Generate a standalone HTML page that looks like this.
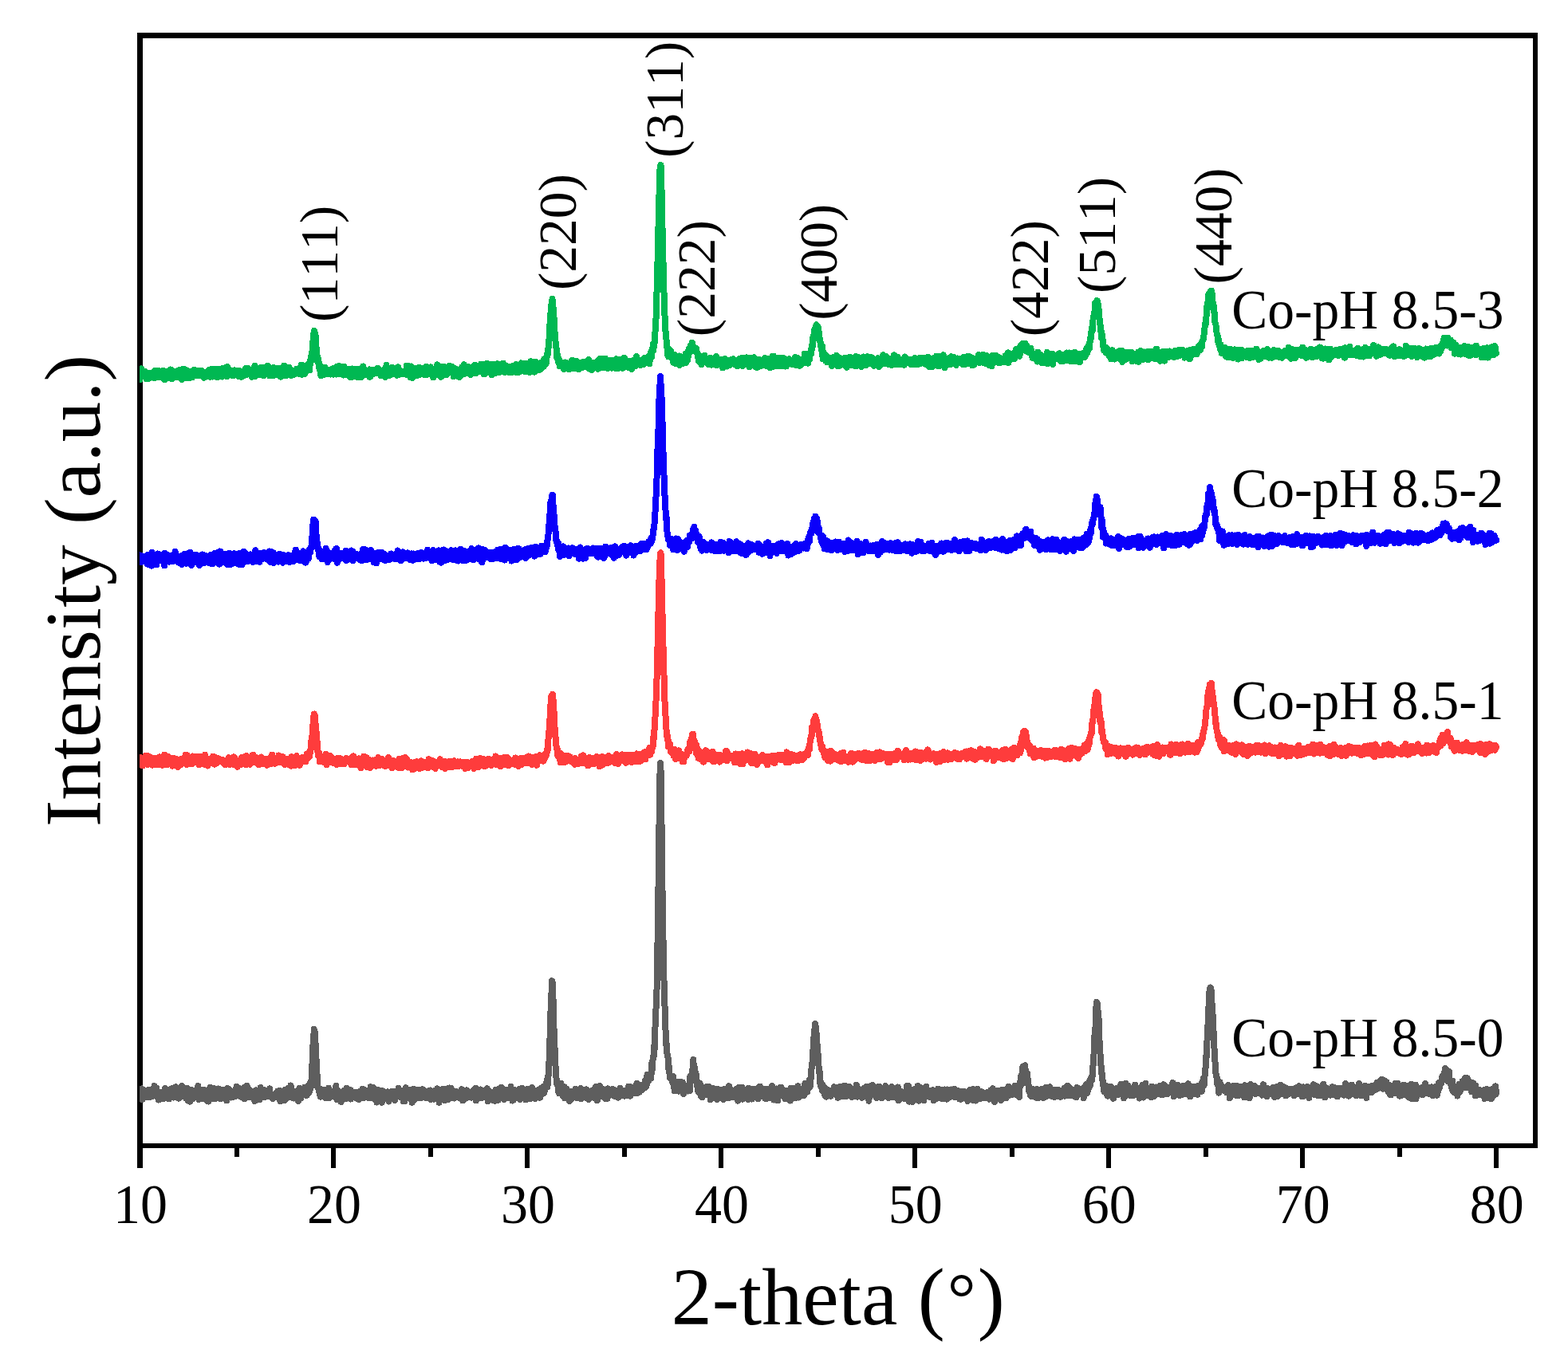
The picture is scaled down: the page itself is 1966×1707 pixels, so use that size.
<!DOCTYPE html>
<html lang="en"><head><meta charset="utf-8"><title>XRD patterns</title>
<style>html,body{margin:0;padding:0;background:#fff}body{width:1966px;height:1707px;overflow:hidden}svg{display:block}text{font-family:"Liberation Serif",serif;fill:#000;font-kerning:none;font-variant-ligatures:none}</style></head><body>
<svg width="1966" height="1707" viewBox="0 0 1966 1707">
<rect width="1966" height="1707" fill="#fff"/>
<defs><clipPath id="plot"><rect x="175" y="44" width="1751" height="1393"/></clipPath></defs>
<g fill="#000" shape-rendering="crispEdges">
<rect x="172" y="41" width="7" height="1399"/>
<rect x="172" y="41" width="1756" height="7"/>
<rect x="1922" y="41" width="6" height="1399"/>
<rect x="172" y="1434" width="1756" height="6"/>
<rect x="172" y="1440" width="7" height="25"/>
<rect x="294" y="1440" width="6" height="11"/>
<rect x="415" y="1440" width="6" height="25"/>
<rect x="537" y="1440" width="6" height="11"/>
<rect x="658" y="1440" width="6" height="25"/>
<rect x="780" y="1440" width="6" height="11"/>
<rect x="901" y="1440" width="6" height="25"/>
<rect x="1023" y="1440" width="6" height="11"/>
<rect x="1144" y="1440" width="6" height="25"/>
<rect x="1266" y="1440" width="6" height="11"/>
<rect x="1387" y="1440" width="6" height="25"/>
<rect x="1509" y="1440" width="6" height="11"/>
<rect x="1630" y="1440" width="6" height="25"/>
<rect x="1752" y="1440" width="6" height="11"/>
<rect x="1873" y="1440" width="6" height="25"/>
</g>
<g clip-path="url(#plot)" fill="none" stroke-linejoin="round" stroke-linecap="round" stroke-width="8" shape-rendering="crispEdges">
<path stroke="#5E5E5E" d="M175.5 1369.1L176 1377L176.5 1376.7L177 1365.9L177.4 1366.4L177.9 1365.5L178.4 1379L178.9 1372.3L179.4 1371.8L179.9 1374.1L180.4 1368.3L180.8 1371.3L181.3 1367.5L181.8 1374.3L182.3 1368.3L182.8 1373.3L183.3 1376L183.8 1371.5L184.2 1375.1L184.7 1367.4L185.2 1367.4L185.7 1372.8L186.2 1371.1L186.7 1366.6L187.2 1370.1L187.6 1376.5L188.1 1369.3L188.6 1372L189.1 1370.5L189.6 1372.7L190.1 1373.3L190.6 1374.2L191 1373.9L191.5 1375.1L192 1373.6L192.5 1372.7L193 1370L193.5 1362.1L194 1370.4L194.4 1368.9L194.9 1369.3L195.4 1365.3L195.9 1374.8L196.4 1364.8L196.9 1373.5L197.4 1371L197.9 1373.6L198.3 1375.2L198.8 1379.6L199.3 1377.1L199.8 1375.9L200.3 1377.4L200.8 1372.1L201.3 1372.3L201.7 1370.1L202.2 1373.1L202.7 1376.1L203.2 1371.8L203.7 1371.9L204.2 1369.5L204.7 1378L205.1 1372L205.6 1374L206.1 1371.1L206.6 1373.7L207.1 1365L207.6 1372.4L208.1 1369.5L208.5 1376.9L209 1374.8L209.5 1370.8L210 1369.1L210.5 1368.3L211 1374L211.5 1369.3L211.9 1378.4L212.4 1367.9L212.9 1369.4L213.4 1368L213.9 1366.3L214.4 1373.4L214.9 1368.8L215.3 1376.3L215.8 1372L216.3 1364.7L216.8 1368.6L217.3 1371.7L217.8 1376.5L218.3 1369.8L218.7 1370.6L219.2 1366L219.7 1376.5L220.2 1363.3L220.7 1372.7L221.2 1371.6L221.7 1372.9L222.1 1374.1L222.6 1375.8L223.1 1371.9L223.6 1365.2L224.1 1377.7L224.6 1369.4L225.1 1375.2L225.5 1370.6L226 1374.6L226.5 1371.6L227 1370.1L227.5 1375.1L228 1362.2L228.5 1370.4L228.9 1371.8L229.4 1373L229.9 1369.4L230.4 1364.3L230.9 1372.9L231.4 1367.1L231.9 1374L232.3 1373L232.8 1371.5L233.3 1377.4L233.8 1376.1L234.3 1367.7L234.8 1364.8L235.3 1376.9L235.7 1380.3L236.2 1368.8L236.7 1372.7L237.2 1368L237.7 1369.1L238.2 1381.7L238.7 1373.3L239.2 1372L239.6 1372.2L240.1 1366.9L240.6 1373.1L241.1 1378.8L241.6 1377.3L242.1 1369.8L242.6 1368.3L243 1374.3L243.5 1371.9L244 1371.3L244.5 1368.8L245 1374.8L245.5 1371.9L246 1371.6L246.4 1371.8L246.9 1373.3L247.4 1367.9L247.9 1367.7L248.4 1362L248.9 1372.9L249.4 1379L249.8 1375.6L250.3 1371.6L250.8 1367.4L251.3 1370.3L251.8 1369.2L252.3 1373L252.8 1370.6L253.2 1373.3L253.7 1370.1L254.2 1366.5L254.7 1378.1L255.2 1366.5L255.7 1366.9L256.2 1368.8L256.6 1369.5L257.1 1374.6L257.6 1373.1L258.1 1369.9L258.6 1373.6L259.1 1380.1L259.6 1373.1L260 1372.6L260.5 1374.4L261 1368.3L261.5 1381.6L262 1377.5L262.5 1369.6L263 1373.9L263.4 1363.8L263.9 1373L264.4 1371.7L264.9 1373.2L265.4 1369.3L265.9 1375.9L266.4 1368.1L266.8 1376.3L267.3 1370.2L267.8 1364.7L268.3 1369.8L268.8 1378.5L269.3 1365.5L269.8 1367.6L270.2 1372.9L270.7 1367.9L271.2 1370L271.7 1368.6L272.2 1374.1L272.7 1370.7L273.2 1376.3L273.6 1365.5L274.1 1377.1L274.6 1374.6L275.1 1372.4L275.6 1373.2L276.1 1369.8L276.6 1368L277 1378.2L277.5 1371.2L278 1367.2L278.5 1373.3L279 1372.5L279.5 1374.7L280 1369.8L280.5 1368.2L280.9 1367.4L281.4 1367.5L281.9 1374.2L282.4 1373.4L282.9 1374.9L283.4 1373.4L283.9 1369.6L284.3 1380.5L284.8 1370.9L285.3 1365L285.8 1374.8L286.3 1370.2L286.8 1370.5L287.3 1370.7L287.7 1372.9L288.2 1367.1L288.7 1370L289.2 1371.7L289.7 1376.6L290.2 1368.4L290.7 1369.4L291.1 1376.1L291.6 1373.9L292.1 1372.3L292.6 1368.8L293.1 1375.6L293.6 1371.5L294.1 1371.9L294.5 1371.9L295 1372L295.5 1374.8L296 1370.5L296.5 1362.8L297 1370.3L297.5 1371.4L297.9 1372L298.4 1368.9L298.9 1366.5L299.4 1373.6L299.9 1374.4L300.4 1365.2L300.9 1370.4L301.3 1368.6L301.8 1372.7L302.3 1370.1L302.8 1365.8L303.3 1376L303.8 1373.2L304.3 1369.9L304.7 1367.7L305.2 1367.1L305.7 1370.6L306.2 1364.3L306.7 1378.1L307.2 1368.9L307.7 1371.3L308.1 1370L308.6 1372.4L309.1 1375L309.6 1361.7L310.1 1374.2L310.6 1371.1L311.1 1375.7L311.5 1373.1L312 1365.7L312.5 1366.9L313 1376.1L313.5 1374.7L314 1370.5L314.5 1374.1L314.9 1369.2L315.4 1375.3L315.9 1370.5L316.4 1368.6L316.9 1372.2L317.4 1370.6L317.9 1373.5L318.3 1369.9L318.8 1371.2L319.3 1381.1L319.8 1375.2L320.3 1370.4L320.8 1372.2L321.3 1367.3L321.7 1377.2L322.2 1370.9L322.7 1375.6L323.2 1375.3L323.7 1374.8L324.2 1374.8L324.7 1375.3L325.2 1379.2L325.6 1373.2L326.1 1373.4L326.6 1364.1L327.1 1369.3L327.6 1367L328.1 1372.7L328.6 1374.3L329 1373.7L329.5 1366.4L330 1376.2L330.5 1373.9L331 1371.5L331.5 1367.2L332 1372L332.4 1373.4L332.9 1375.8L333.4 1368.5L333.9 1370.1L334.4 1368.6L334.9 1372.8L335.4 1371L335.8 1371.3L336.3 1369.1L336.8 1374.9L337.3 1375.2L337.8 1374.4L338.3 1365.4L338.8 1372.9L339.2 1374.1L339.7 1371.7L340.2 1373.3L340.7 1375.9L341.2 1374.1L341.7 1375.7L342.2 1378.2L342.6 1375.8L343.1 1373.2L343.6 1373.2L344.1 1372.8L344.6 1374.7L345.1 1372.5L345.6 1374L346 1370.8L346.5 1370.7L347 1373.9L347.5 1370.5L348 1368.9L348.5 1371.1L349 1373L349.4 1369.6L349.9 1377.8L350.4 1371.3L350.9 1367.9L351.4 1381.3L351.9 1370.3L352.4 1378.6L352.8 1374.1L353.3 1373.3L353.8 1368.9L354.3 1372.1L354.8 1368.5L355.3 1374.3L355.8 1371L356.2 1371.6L356.7 1379.9L357.2 1367.7L357.7 1366.7L358.2 1369.7L358.7 1373.7L359.2 1377.8L359.6 1369.8L360.1 1374.9L360.6 1368.8L361.1 1371.4L361.6 1364.4L362.1 1366L362.6 1374.9L363 1375.5L363.5 1375.1L364 1373L364.5 1361.4L365 1368.6L365.5 1365.7L366 1371.3L366.5 1370.4L366.9 1374.9L367.4 1377.3L367.9 1375.5L368.4 1372.7L368.9 1377.5L369.4 1370L369.9 1375.1L370.3 1368.8L370.8 1372.5L371.3 1375.1L371.8 1372.7L372.3 1368.4L372.8 1371.9L373.3 1374.9L373.7 1374.7L374.2 1380.9L374.7 1373.8L375.2 1372.8L375.7 1365L376.2 1369.6L376.7 1366.5L377.1 1377.3L377.6 1370.2L378.1 1366.1L378.6 1371.2L379.1 1370.9L379.6 1373.2L380.1 1372.4L380.5 1372.9L381 1370.3L381.5 1371.7L382 1363.7L382.5 1364.2L383 1369.1L383.5 1368.8L383.9 1364.3L384.4 1374L384.9 1369.8L385.4 1367.5L385.9 1370.1L386.4 1371.5L386.9 1361.6L387.3 1370.5L387.8 1367.5L388.3 1368.2L388.8 1366.6L389.3 1357.6L389.8 1363.2L390.3 1357.7L390.7 1353.5L391.2 1336.8L391.7 1333.5L392.2 1318L392.7 1306.2L393.2 1305.6L393.7 1291L394.1 1292.7L394.6 1293L395.1 1304.3L395.6 1308.8L396.1 1322.7L396.6 1334.6L397.1 1330.6L397.5 1347.5L398 1349.4L398.5 1364.7L399 1364.9L399.5 1364.5L400 1369.1L400.5 1368.3L400.9 1365.2L401.4 1374.1L401.9 1375.6L402.4 1372.9L402.9 1373.4L403.4 1369.8L403.9 1368.3L404.3 1373.5L404.8 1367.7L405.3 1370.2L405.8 1369.3L406.3 1366.9L406.8 1372.9L407.3 1370.5L407.8 1370.4L408.2 1377.3L408.7 1368.9L409.2 1367.1L409.7 1368.4L410.2 1372.8L410.7 1376.3L411.2 1371.8L411.6 1367.3L412.1 1364.7L412.6 1369.9L413.1 1376.9L413.6 1372.8L414.1 1368.2L414.6 1372.6L415 1369L415.5 1370.7L416 1374.7L416.5 1375.1L417 1373.3L417.5 1368.8L418 1373.9L418.4 1371.5L418.9 1369L419.4 1368L419.9 1370.6L420.4 1372.3L420.9 1371.6L421.4 1362L421.8 1370.5L422.3 1379L422.8 1367.1L423.3 1375.9L423.8 1375L424.3 1372.7L424.8 1378L425.2 1369L425.7 1372L426.2 1371.8L426.7 1374.8L427.2 1375.5L427.7 1381.9L428.2 1371.5L428.6 1375.6L429.1 1378.5L429.6 1372.6L430.1 1372.8L430.6 1378.2L431.1 1368.2L431.6 1376.1L432 1369.7L432.5 1372.2L433 1371.8L433.5 1378.5L434 1368.7L434.5 1364.6L435 1370.8L435.4 1368.4L435.9 1373.3L436.4 1375.5L436.9 1374.6L437.4 1367.6L437.9 1366.8L438.4 1374.6L438.8 1368.3L439.3 1366.8L439.8 1378.6L440.3 1371.3L440.8 1373.5L441.3 1373.9L441.8 1373.1L442.2 1372.9L442.7 1373.9L443.2 1370.1L443.7 1373.1L444.2 1370.1L444.7 1375.5L445.2 1372.7L445.6 1372.5L446.1 1374L446.6 1376.9L447.1 1376.3L447.6 1374.7L448.1 1371.6L448.6 1378L449.1 1369.5L449.5 1370.1L450 1378.9L450.5 1369.2L451 1374.6L451.5 1373.8L452 1372.1L452.5 1370.8L452.9 1371.1L453.4 1369L453.9 1367.8L454.4 1365.6L454.9 1372.4L455.4 1377.2L455.9 1366.5L456.3 1374.2L456.8 1373.4L457.3 1376.6L457.8 1375.9L458.3 1375.1L458.8 1369.7L459.3 1373.1L459.7 1371.6L460.2 1368.5L460.7 1374.5L461.2 1369.6L461.7 1376.4L462.2 1374.5L462.7 1367.7L463.1 1377.4L463.6 1373.4L464.1 1373.1L464.6 1363.2L465.1 1370.2L465.6 1369.6L466.1 1369.7L466.5 1368.4L467 1367.8L467.5 1377.6L468 1370.3L468.5 1364.3L469 1369.5L469.5 1369.7L469.9 1371.4L470.4 1372.1L470.9 1373.2L471.4 1370.4L471.9 1373L472.4 1382.6L472.9 1369.6L473.3 1366.5L473.8 1376.5L474.3 1371.3L474.8 1369.6L475.3 1367.9L475.8 1377.3L476.3 1368.8L476.7 1380.1L477.2 1379.1L477.7 1376.7L478.2 1371.3L478.7 1382.7L479.2 1368L479.7 1372.8L480.1 1368.6L480.6 1373.9L481.1 1374L481.6 1376L482.1 1372.1L482.6 1375.4L483.1 1371.7L483.5 1374L484 1369.9L484.5 1376L485 1375.4L485.5 1371L486 1373.1L486.5 1369.4L486.9 1379.2L487.4 1381.5L487.9 1374.4L488.4 1379.3L488.9 1375.3L489.4 1373.4L489.9 1369.4L490.4 1375.3L490.8 1369L491.3 1372.9L491.8 1375.3L492.3 1370.6L492.8 1369L493.3 1370.5L493.8 1374.9L494.2 1372.5L494.7 1376.1L495.2 1379.9L495.7 1370.2L496.2 1377L496.7 1374.3L497.2 1371.4L497.6 1371L498.1 1369L498.6 1373.1L499.1 1367L499.6 1364.8L500.1 1369.6L500.6 1373.2L501 1371.3L501.5 1370L502 1371.5L502.5 1376.1L503 1369.1L503.5 1373.4L504 1373.2L504.4 1368.3L504.9 1376.2L505.4 1370.9L505.9 1381.2L506.4 1370.7L506.9 1372.6L507.4 1381.2L507.8 1376.9L508.3 1372.6L508.8 1364.3L509.3 1377.8L509.8 1368.2L510.3 1375L510.8 1373L511.2 1373.8L511.7 1372.3L512.2 1371.2L512.7 1371.4L513.2 1372.7L513.7 1369.4L514.2 1371.2L514.6 1376.5L515.1 1367.3L515.6 1377.1L516.1 1375.7L516.6 1382.9L517.1 1376L517.6 1373.6L518 1375.1L518.5 1365.9L519 1375.5L519.5 1370L520 1378.9L520.5 1372L521 1373.9L521.4 1369.2L521.9 1371.5L522.4 1371.8L522.9 1375.2L523.4 1376.9L523.9 1371.1L524.4 1366.9L524.8 1367.1L525.3 1376.6L525.8 1375.4L526.3 1373.8L526.8 1372.9L527.3 1373.4L527.8 1372.4L528.2 1377L528.7 1373L529.2 1369.5L529.7 1370.7L530.2 1366.3L530.7 1375.9L531.2 1370.3L531.7 1371.9L532.1 1368.9L532.6 1370.8L533.1 1375.6L533.6 1373.3L534.1 1373.8L534.6 1377.4L535.1 1374.5L535.5 1370.5L536 1375.4L536.5 1368.7L537 1376.3L537.5 1373.6L538 1374.8L538.5 1373.7L538.9 1372L539.4 1367.5L539.9 1378.9L540.4 1370.4L540.9 1369.6L541.4 1373.8L541.9 1373.5L542.3 1371L542.8 1370.5L543.3 1375.1L543.8 1378.6L544.3 1372.5L544.8 1372.5L545.3 1376.2L545.7 1370.7L546.2 1367.6L546.7 1368L547.2 1371.1L547.7 1371.7L548.2 1365.4L548.7 1373.4L549.1 1373.6L549.6 1369L550.1 1373.2L550.6 1382.8L551.1 1371.2L551.6 1367.2L552.1 1369.3L552.5 1369.5L553 1369.7L553.5 1370.3L554 1372L554.5 1368.6L555 1373.9L555.5 1372.3L555.9 1373.5L556.4 1365.6L556.9 1377.2L557.4 1380.4L557.9 1372.9L558.4 1372L558.9 1372.1L559.3 1378.4L559.8 1365.6L560.3 1378.1L560.8 1368.5L561.3 1379.2L561.8 1374.8L562.3 1373L562.7 1368.8L563.2 1364.5L563.7 1365.4L564.2 1370.2L564.7 1377.3L565.2 1369.9L565.7 1365L566.1 1371.6L566.6 1370.1L567.1 1372.7L567.6 1369.7L568.1 1367.8L568.6 1370.3L569.1 1369.6L569.5 1377.6L570 1373.7L570.5 1375.2L571 1370.3L571.5 1372.1L572 1368.8L572.5 1374.5L572.9 1369.3L573.4 1372.1L573.9 1369.8L574.4 1374.1L574.9 1376.6L575.4 1371.6L575.9 1375.9L576.4 1373.7L576.8 1374.6L577.3 1375.4L577.8 1372.8L578.3 1372.2L578.8 1366.3L579.3 1369.1L579.8 1372.8L580.2 1380.5L580.7 1374.4L581.2 1369.6L581.7 1374.4L582.2 1378.2L582.7 1369.8L583.2 1375.2L583.6 1375L584.1 1369.7L584.6 1370.7L585.1 1367.4L585.6 1374.8L586.1 1376.7L586.6 1371.1L587 1375.5L587.5 1372.9L588 1372.6L588.5 1371L589 1371.6L589.5 1371.3L590 1374.1L590.4 1374.6L590.9 1373.3L591.4 1376.6L591.9 1369.6L592.4 1373L592.9 1370.2L593.4 1374.7L593.8 1375.8L594.3 1366.8L594.8 1375.2L595.3 1376.8L595.8 1373.4L596.3 1364.7L596.8 1380.5L597.2 1370L597.7 1372L598.2 1379L598.7 1370.6L599.2 1371.5L599.7 1377.4L600.2 1373.9L600.6 1374.5L601.1 1372L601.6 1372.2L602.1 1374.6L602.6 1366.4L603.1 1367.7L603.6 1370.3L604 1368.9L604.5 1376.9L605 1371.3L605.5 1371.9L606 1367.9L606.5 1374.8L607 1371.1L607.4 1370.1L607.9 1370.4L608.4 1369.7L608.9 1368.3L609.4 1372L609.9 1374.9L610.4 1377.4L610.8 1365.3L611.3 1371L611.8 1381.1L612.3 1373.2L612.8 1368.5L613.3 1372.7L613.8 1369.9L614.2 1375.3L614.7 1374.8L615.2 1371.6L615.7 1375.5L616.2 1374.7L616.7 1375.9L617.2 1374.5L617.7 1372.7L618.1 1370L618.6 1380.3L619.1 1373.2L619.6 1370.6L620.1 1370.5L620.6 1380.9L621.1 1376L621.5 1367L622 1375.9L622.5 1371.3L623 1371.9L623.5 1369.6L624 1374.6L624.5 1379.7L624.9 1366.3L625.4 1369.5L625.9 1369.1L626.4 1369.5L626.9 1367L627.4 1368.9L627.9 1370.6L628.3 1377L628.8 1363.9L629.3 1371.5L629.8 1375.4L630.3 1369.7L630.8 1377.9L631.3 1376.5L631.7 1373.6L632.2 1378.8L632.7 1374.9L633.2 1376.9L633.7 1366.8L634.2 1374.1L634.7 1369.8L635.1 1366.6L635.6 1371.4L636.1 1374L636.6 1370.1L637.1 1374.3L637.6 1377.1L638.1 1370.7L638.5 1371.1L639 1372.8L639.5 1372.7L640 1376.7L640.5 1362.8L641 1374L641.5 1370L641.9 1368.7L642.4 1380.6L642.9 1372.5L643.4 1370.7L643.9 1379.5L644.4 1374.1L644.9 1371L645.3 1374.5L645.8 1373.5L646.3 1367.3L646.8 1369.3L647.3 1370L647.8 1370.4L648.3 1373.6L648.7 1369.2L649.2 1368.5L649.7 1373.6L650.2 1372.8L650.7 1366.3L651.2 1369.8L651.7 1373L652.1 1379.1L652.6 1372.1L653.1 1373.1L653.6 1371.8L654.1 1371.9L654.6 1365L655.1 1377.3L655.5 1373.4L656 1375.5L656.5 1366.8L657 1368.9L657.5 1372.9L658 1369.6L658.5 1369.6L659 1379.3L659.4 1368.8L659.9 1371.6L660.4 1370.9L660.9 1366L661.4 1371L661.9 1378.5L662.4 1369.6L662.8 1375.6L663.3 1371.5L663.8 1372.7L664.3 1370L664.8 1373L665.3 1370.7L665.8 1377.7L666.2 1368L666.7 1370.3L667.2 1364L667.7 1376.3L668.2 1373.8L668.7 1373.8L669.2 1369.4L669.6 1373.4L670.1 1375.4L670.6 1369L671.1 1377.9L671.6 1369.7L672.1 1367.9L672.6 1375.7L673 1370.6L673.5 1370.5L674 1373.6L674.5 1373.8L675 1367.2L675.5 1371.1L676 1372.2L676.4 1372L676.9 1376.7L677.4 1368.2L677.9 1367.4L678.4 1364.8L678.9 1372.9L679.4 1365.8L679.8 1367.6L680.3 1364.2L680.8 1363.6L681.3 1368.5L681.8 1371.2L682.3 1362.4L682.8 1368.6L683.2 1366.8L683.7 1362.8L684.2 1363.4L684.7 1364L685.2 1360.4L685.7 1354.6L686.2 1363.5L686.6 1361.5L687.1 1350.3L687.6 1349L688.1 1341.9L688.6 1329.3L689.1 1311.2L689.6 1300.8L690 1283.2L690.5 1268.4L691 1249.2L691.5 1245.2L692 1230.2L692.5 1231.5L693 1236.4L693.4 1248.2L693.9 1270.4L694.4 1284.5L694.9 1307.9L695.4 1306.7L695.9 1334.8L696.4 1333.7L696.8 1345.8L697.3 1346.9L697.8 1358.9L698.3 1358.5L698.8 1360.2L699.3 1360.2L699.8 1366.2L700.3 1369.6L700.7 1364.1L701.2 1371.5L701.7 1368.8L702.2 1366.7L702.7 1365.4L703.2 1358.8L703.7 1371.1L704.1 1366.9L704.6 1372L705.1 1366.9L705.6 1372.7L706.1 1375L706.6 1368.3L707.1 1365.7L707.5 1363.3L708 1377.3L708.5 1370.3L709 1370.9L709.5 1372.4L710 1366.6L710.5 1365.9L710.9 1375.2L711.4 1368.1L711.9 1373L712.4 1373.6L712.9 1370.9L713.4 1370.6L713.9 1381L714.3 1377.1L714.8 1369.2L715.3 1370.7L715.8 1375.5L716.3 1378.8L716.8 1376.7L717.3 1369.2L717.7 1369L718.2 1371.2L718.7 1375.4L719.2 1372.7L719.7 1375.1L720.2 1370.6L720.7 1374.8L721.1 1371.7L721.6 1365.9L722.1 1370.1L722.6 1367.1L723.1 1377.2L723.6 1370.8L724.1 1371.2L724.5 1373.4L725 1370.4L725.5 1373.1L726 1376.6L726.5 1368L727 1371.4L727.5 1373.7L727.9 1365.1L728.4 1378.4L728.9 1370.3L729.4 1368L729.9 1371.3L730.4 1373.1L730.9 1372.8L731.3 1374.2L731.8 1369.8L732.3 1374.8L732.8 1374.6L733.3 1369.6L733.8 1375.6L734.3 1371.7L734.7 1376.7L735.2 1366.4L735.7 1375.9L736.2 1375L736.7 1374.5L737.2 1376.4L737.7 1373.8L738.1 1379L738.6 1369.9L739.1 1371.2L739.6 1368.9L740.1 1371.3L740.6 1372.2L741.1 1369.7L741.6 1376.4L742 1368.1L742.5 1368.2L743 1376.4L743.5 1370.4L744 1373.8L744.5 1371.4L745 1376.8L745.4 1373.4L745.9 1367.5L746.4 1364.1L746.9 1370.2L747.4 1369.5L747.9 1369.9L748.4 1362.6L748.8 1380.1L749.3 1376.8L749.8 1374L750.3 1372.6L750.8 1371.9L751.3 1372.5L751.8 1366.7L752.2 1362.1L752.7 1372.5L753.2 1373.8L753.7 1371.4L754.2 1375L754.7 1373.5L755.2 1369.9L755.6 1365.6L756.1 1366.4L756.6 1368.5L757.1 1370.9L757.6 1371.9L758.1 1368.7L758.6 1375.9L759 1377.9L759.5 1370.7L760 1371.6L760.5 1366.8L761 1376.3L761.5 1378L762 1371.6L762.4 1365.4L762.9 1372L763.4 1371.2L763.9 1372.4L764.4 1371.7L764.9 1367.8L765.4 1369.1L765.8 1368.6L766.3 1367.4L766.8 1369.8L767.3 1373.2L767.8 1366L768.3 1370.7L768.8 1371.8L769.2 1369.1L769.7 1368.6L770.2 1374.7L770.7 1372L771.2 1367.4L771.7 1371.2L772.2 1372.1L772.6 1370L773.1 1373.7L773.6 1372.4L774.1 1372L774.6 1367.6L775.1 1376.6L775.6 1368.9L776 1368.3L776.5 1374.8L777 1370.5L777.5 1364.9L778 1373.1L778.5 1366.9L779 1367L779.4 1370.5L779.9 1370.5L780.4 1372L780.9 1367.5L781.4 1368.5L781.9 1370.5L782.4 1372.7L782.8 1369.5L783.3 1374.6L783.8 1368L784.3 1372.3L784.8 1370.8L785.3 1370.8L785.8 1372.5L786.3 1374.1L786.7 1372L787.2 1367.3L787.7 1366.2L788.2 1362.7L788.7 1369.7L789.2 1365L789.7 1365.8L790.1 1374.7L790.6 1367L791.1 1363.4L791.6 1370.6L792.1 1369.8L792.6 1367.9L793.1 1365.5L793.5 1366.8L794 1366.4L794.5 1367.9L795 1366.6L795.5 1366.6L796 1371L796.5 1367.4L796.9 1365.3L797.4 1366.6L797.9 1365.7L798.4 1358.9L798.9 1366.1L799.4 1371L799.9 1365.3L800.3 1361.8L800.8 1365.2L801.3 1364.5L801.8 1369.6L802.3 1364L802.8 1363.3L803.3 1368.1L803.7 1361.8L804.2 1361L804.7 1362.4L805.2 1366.5L805.7 1362.4L806.2 1363.2L806.7 1362.5L807.1 1360.9L807.6 1361.4L808.1 1364.6L808.6 1362.8L809.1 1355.5L809.6 1362.2L810.1 1363.2L810.5 1356.3L811 1359.7L811.5 1348L812 1356.5L812.5 1352.3L813 1353.8L813.5 1355.5L813.9 1348.9L814.4 1348.3L814.9 1350.3L815.4 1349.5L815.9 1349.5L816.4 1352.2L816.9 1334L817.3 1344.3L817.8 1340.1L818.3 1332.2L818.8 1325.4L819.3 1327.5L819.8 1323L820.3 1311.8L820.7 1315.8L821.2 1294.2L821.7 1283.8L822.2 1270.1L822.7 1261.9L823.2 1248.5L823.7 1236.8L824.1 1205.1L824.6 1177.7L825.1 1143.5L825.6 1106.1L826.1 1072L826.6 1025.9L827.1 990.9L827.6 965.6L828 957L828.5 965.3L829 989.6L829.5 1031.9L830 1071.6L830.5 1116.5L831 1141.1L831.4 1171L831.9 1206.9L832.4 1225.7L832.9 1243.5L833.4 1259.3L833.9 1272.7L834.4 1288.3L834.8 1301.3L835.3 1310.2L835.8 1309.2L836.3 1319.8L836.8 1323.2L837.3 1323.3L837.8 1330.6L838.2 1340.3L838.7 1337.2L839.2 1339.7L839.7 1351.1L840.2 1350.9L840.7 1352.5L841.2 1349.1L841.6 1353.4L842.1 1354.2L842.6 1355.7L843.1 1357.7L843.6 1355.4L844.1 1349.8L844.6 1361.8L845 1364.2L845.5 1359.6L846 1368.5L846.5 1362.7L847 1358.2L847.5 1356.6L848 1364L848.4 1361L848.9 1365.3L849.4 1365.8L849.9 1364.5L850.4 1366L850.9 1368.6L851.4 1361.7L851.8 1362.3L852.3 1361.2L852.8 1367.7L853.3 1356.5L853.8 1364.7L854.3 1367.7L854.8 1362.1L855.2 1365.8L855.7 1357.5L856.2 1362.3L856.7 1366.6L857.2 1372L857.7 1361.7L858.2 1364.6L858.6 1363.4L859.1 1363.1L859.6 1365L860.1 1365.9L860.6 1365.4L861.1 1363.1L861.6 1365.9L862 1361.7L862.5 1368.6L863 1366.8L863.5 1365.6L864 1363L864.5 1362.9L865 1367.9L865.4 1350.2L865.9 1352.6L866.4 1353.8L866.9 1351.3L867.4 1348.2L867.9 1345.2L868.4 1342.2L868.9 1333.8L869.3 1329L869.8 1339.1L870.3 1343.8L870.8 1338.4L871.3 1342.8L871.8 1345.3L872.3 1345.9L872.7 1347.4L873.2 1355.2L873.7 1361.1L874.2 1359.4L874.7 1366.9L875.2 1362.4L875.7 1369.3L876.1 1365.5L876.6 1368.9L877.1 1364L877.6 1358.5L878.1 1372.4L878.6 1367L879.1 1375.2L879.5 1373.3L880 1362.9L880.5 1376.2L881 1364.9L881.5 1374.3L882 1371.7L882.5 1369.4L882.9 1372.2L883.4 1366.5L883.9 1371.6L884.4 1365.7L884.9 1373.3L885.4 1370.8L885.9 1372.2L886.3 1362.8L886.8 1365.2L887.3 1368.3L887.8 1367.5L888.3 1362.8L888.8 1370L889.3 1366.1L889.7 1371.4L890.2 1370.2L890.7 1379.1L891.2 1371L891.7 1365L892.2 1375L892.7 1374L893.1 1364.6L893.6 1374.4L894.1 1371.8L894.6 1368.3L895.1 1373L895.6 1370.2L896.1 1369.7L896.5 1377.2L897 1374.2L897.5 1366.6L898 1373.3L898.5 1372L899 1378.9L899.5 1365.9L899.9 1371.4L900.4 1369.4L900.9 1370.8L901.4 1373.2L901.9 1369.4L902.4 1372.5L902.9 1367.2L903.3 1367.1L903.8 1376.7L904.3 1368.8L904.8 1371.9L905.3 1375.2L905.8 1374L906.3 1370.6L906.7 1374.5L907.2 1378.8L907.7 1366.1L908.2 1368.8L908.7 1371.2L909.2 1366.8L909.7 1370.7L910.2 1371.3L910.6 1376.9L911.1 1368.4L911.6 1371.6L912.1 1374.7L912.6 1367.7L913.1 1370.6L913.6 1377.5L914 1362.3L914.5 1372.2L915 1368.4L915.5 1372.9L916 1366.4L916.5 1371L917 1370.7L917.4 1371.6L917.9 1372.9L918.4 1374.2L918.9 1373L919.4 1372.5L919.9 1376.2L920.4 1368.8L920.8 1375.1L921.3 1371.9L921.8 1373.3L922.3 1368.8L922.8 1366.4L923.3 1369L923.8 1373.4L924.2 1369.6L924.7 1366.2L925.2 1380.6L925.7 1371.9L926.2 1364.2L926.7 1374.6L927.2 1376.7L927.6 1369.8L928.1 1366.8L928.6 1375.3L929.1 1374.2L929.6 1374.1L930.1 1363.5L930.6 1375.5L931 1378.6L931.5 1366.1L932 1371.5L932.5 1373.2L933 1372.3L933.5 1369L934 1372.1L934.4 1376.4L934.9 1371.4L935.4 1368.6L935.9 1370.6L936.4 1371.2L936.9 1372.2L937.4 1371.6L937.8 1378.9L938.3 1376.5L938.8 1364.9L939.3 1371L939.8 1369L940.3 1370.9L940.8 1373.5L941.2 1370.2L941.7 1372.3L942.2 1369.6L942.7 1378.6L943.2 1368.9L943.7 1372.7L944.2 1375.3L944.6 1373.8L945.1 1365.7L945.6 1370.4L946.1 1374L946.6 1366.5L947.1 1368.6L947.6 1372.6L948 1373.5L948.5 1365.5L949 1367.2L949.5 1371.7L950 1367.4L950.5 1378.5L951 1374.9L951.5 1375.1L951.9 1370.8L952.4 1369L952.9 1362.5L953.4 1372.4L953.9 1370.2L954.4 1367.4L954.9 1372.6L955.3 1369.5L955.8 1369.3L956.3 1370.7L956.8 1373.3L957.3 1370.4L957.8 1366.4L958.3 1366.2L958.7 1375.9L959.2 1372.5L959.7 1377.9L960.2 1370.2L960.7 1371.9L961.2 1370.8L961.7 1368L962.1 1365.6L962.6 1377.6L963.1 1368.3L963.6 1366.4L964.1 1373L964.6 1372.4L965.1 1376.8L965.5 1372.9L966 1367.9L966.5 1365.2L967 1369.8L967.5 1377.4L968 1362L968.5 1367.8L968.9 1368.4L969.4 1370.2L969.9 1369.5L970.4 1379.6L970.9 1370.8L971.4 1368.1L971.9 1372.6L972.3 1370.3L972.8 1368.9L973.3 1365.5L973.8 1371.5L974.3 1370L974.8 1372.2L975.3 1380.5L975.7 1367.6L976.2 1365.4L976.7 1367.2L977.2 1368.4L977.7 1370L978.2 1373.9L978.7 1371.2L979.1 1363.7L979.6 1372.6L980.1 1371.7L980.6 1371.1L981.1 1374.5L981.6 1368.6L982.1 1369.2L982.5 1367.2L983 1375.9L983.5 1369.7L984 1371.7L984.5 1371.5L985 1378.5L985.5 1372.4L985.9 1373.1L986.4 1371.9L986.9 1372.6L987.4 1372.9L987.9 1374.1L988.4 1377.8L988.9 1370.1L989.3 1367.6L989.8 1373.3L990.3 1376.5L990.8 1380.5L991.3 1364.9L991.8 1367.1L992.3 1370L992.8 1369.1L993.2 1373.3L993.7 1373.9L994.2 1372L994.7 1372.8L995.2 1368.3L995.7 1364.9L996.2 1372.1L996.6 1368.5L997.1 1377.3L997.6 1373.5L998.1 1372.4L998.6 1368.7L999.1 1373.9L999.6 1370.1L1000 1371.7L1000.5 1362.2L1001 1371.9L1001.5 1376.5L1002 1371.1L1002.5 1370.8L1003 1374.6L1003.4 1372.9L1003.9 1370L1004.4 1373.2L1004.9 1368.6L1005.4 1373L1005.9 1373.8L1006.4 1367.5L1006.8 1367.7L1007.3 1370.7L1007.8 1370.2L1008.3 1373.8L1008.8 1364.4L1009.3 1359.6L1009.8 1371.3L1010.2 1358.7L1010.7 1368.7L1011.2 1364.5L1011.7 1363.4L1012.2 1369.3L1012.7 1365.3L1013.2 1362.3L1013.6 1362.7L1014.1 1364.3L1014.6 1354.9L1015.1 1364.2L1015.6 1363.4L1016.1 1357.1L1016.6 1352.6L1017 1351L1017.5 1340.6L1018 1334.4L1018.5 1336.1L1019 1322.7L1019.5 1316.1L1020 1304.6L1020.4 1302.5L1020.9 1293.8L1021.4 1291.4L1021.9 1284L1022.4 1284.8L1022.9 1289.7L1023.4 1290.8L1023.8 1307.6L1024.3 1305.3L1024.8 1314.9L1025.3 1324.3L1025.8 1322.3L1026.3 1331.2L1026.8 1344.7L1027.2 1343.6L1027.7 1344.3L1028.2 1355.6L1028.7 1361.7L1029.2 1362.4L1029.7 1358.3L1030.2 1363.8L1030.6 1365.7L1031.1 1367.9L1031.6 1360.9L1032.1 1368.1L1032.6 1369.2L1033.1 1363.7L1033.6 1367.8L1034 1364.3L1034.5 1374.5L1035 1365.4L1035.5 1372.2L1036 1375.6L1036.5 1375.3L1037 1368.4L1037.5 1369.7L1037.9 1368.1L1038.4 1366.8L1038.9 1372.9L1039.4 1371L1039.9 1369.7L1040.4 1372L1040.9 1372.4L1041.3 1368.3L1041.8 1375L1042.3 1373.5L1042.8 1372.1L1043.3 1371.9L1043.8 1371.7L1044.3 1371.7L1044.7 1370.2L1045.2 1370.9L1045.7 1363.2L1046.2 1366.7L1046.7 1368.6L1047.2 1371.3L1047.7 1368.1L1048.1 1369.2L1048.6 1365.9L1049.1 1364.7L1049.6 1374.3L1050.1 1371.9L1050.6 1376.8L1051.1 1372L1051.5 1371.4L1052 1369.2L1052.5 1363.4L1053 1374.1L1053.5 1370.5L1054 1371.2L1054.5 1372L1054.9 1363L1055.4 1373.4L1055.9 1372.3L1056.4 1369.1L1056.9 1363.6L1057.4 1375.5L1057.9 1365L1058.3 1375.5L1058.8 1361.5L1059.3 1375.4L1059.8 1371.7L1060.3 1371.4L1060.8 1375.3L1061.3 1366.5L1061.7 1367.7L1062.2 1371.1L1062.7 1369.5L1063.2 1370.6L1063.7 1369.2L1064.2 1372.7L1064.7 1363L1065.1 1363.2L1065.6 1369.5L1066.1 1374.3L1066.6 1366.9L1067.1 1370.2L1067.6 1369.4L1068.1 1375.9L1068.5 1368.1L1069 1374.6L1069.5 1366.3L1070 1367.1L1070.5 1373.6L1071 1368.4L1071.5 1374.7L1071.9 1367.7L1072.4 1373.1L1072.9 1374.9L1073.4 1368.9L1073.9 1360.8L1074.4 1363.2L1074.9 1375.7L1075.3 1370.3L1075.8 1373.8L1076.3 1365.8L1076.8 1372.6L1077.3 1374.5L1077.8 1367.8L1078.3 1369L1078.8 1369L1079.2 1368.1L1079.7 1371.5L1080.2 1367L1080.7 1376.7L1081.2 1369L1081.7 1375L1082.2 1366.2L1082.6 1368.8L1083.1 1365.3L1083.6 1370.5L1084.1 1367.9L1084.6 1366.5L1085.1 1367.4L1085.6 1370.2L1086 1369.7L1086.5 1370.8L1087 1362.6L1087.5 1375.7L1088 1373L1088.5 1367.3L1089 1374.4L1089.4 1380.7L1089.9 1372.1L1090.4 1372.5L1090.9 1368.2L1091.4 1372.9L1091.9 1368L1092.4 1366.9L1092.8 1372.7L1093.3 1369.9L1093.8 1361L1094.3 1370L1094.8 1363.6L1095.3 1368.6L1095.8 1369.4L1096.2 1373.2L1096.7 1364.6L1097.2 1369.1L1097.7 1374.4L1098.2 1365.5L1098.7 1369.4L1099.2 1376.8L1099.6 1366.1L1100.1 1376.6L1100.6 1364.6L1101.1 1372.2L1101.6 1372.9L1102.1 1362.5L1102.6 1366.5L1103 1368.9L1103.5 1371.1L1104 1373.9L1104.5 1367.7L1105 1367.7L1105.5 1377.4L1106 1367.1L1106.4 1372.8L1106.9 1371.2L1107.4 1368L1107.9 1370.9L1108.4 1373.1L1108.9 1374.6L1109.4 1373.4L1109.8 1368.5L1110.3 1362.2L1110.8 1364.5L1111.3 1373.6L1111.8 1365.7L1112.3 1374.6L1112.8 1369.8L1113.2 1376.1L1113.7 1372.1L1114.2 1376.9L1114.7 1373.3L1115.2 1371.1L1115.7 1367.5L1116.2 1375.5L1116.6 1371.6L1117.1 1370.6L1117.6 1373.6L1118.1 1362.9L1118.6 1376.4L1119.1 1374.3L1119.6 1369.2L1120.1 1368.5L1120.5 1372.5L1121 1373.1L1121.5 1370.4L1122 1371.2L1122.5 1373.1L1123 1371.5L1123.5 1371.7L1123.9 1372.3L1124.4 1377L1124.9 1376.1L1125.4 1365.6L1125.9 1363.5L1126.4 1375.3L1126.9 1380.3L1127.3 1367.3L1127.8 1370.2L1128.3 1369.9L1128.8 1372.5L1129.3 1375.7L1129.8 1369.1L1130.3 1373.5L1130.7 1369.2L1131.2 1376.3L1131.7 1371.2L1132.2 1371.8L1132.7 1374.6L1133.2 1371.3L1133.7 1375.7L1134.1 1371.5L1134.6 1374.1L1135.1 1378.5L1135.6 1372.6L1136.1 1374.9L1136.6 1374.1L1137.1 1361.9L1137.5 1374.9L1138 1371.1L1138.5 1373.5L1139 1361.9L1139.5 1370.3L1140 1381.7L1140.5 1375.4L1140.9 1373.7L1141.4 1368L1141.9 1370.4L1142.4 1367.9L1142.9 1376.7L1143.4 1372.1L1143.9 1366.7L1144.3 1381.8L1144.8 1372.4L1145.3 1369.6L1145.8 1373.9L1146.3 1370.5L1146.8 1368.3L1147.3 1372.6L1147.7 1374.4L1148.2 1378.6L1148.7 1365.1L1149.2 1373.2L1149.7 1371.7L1150.2 1371.1L1150.7 1362.1L1151.1 1370.4L1151.6 1370.2L1152.1 1380.6L1152.6 1375.9L1153.1 1371.4L1153.6 1374.2L1154.1 1374.5L1154.5 1366.2L1155 1364.4L1155.5 1373.8L1156 1371L1156.5 1375.1L1157 1370.5L1157.5 1375.9L1157.9 1367.9L1158.4 1380.1L1158.9 1371.7L1159.4 1376.2L1159.9 1375L1160.4 1372.3L1160.9 1368.9L1161.4 1362.8L1161.8 1370.9L1162.3 1369L1162.8 1369.7L1163.3 1374.1L1163.8 1368.1L1164.3 1371.6L1164.8 1373.6L1165.2 1372.4L1165.7 1370.2L1166.2 1375.9L1166.7 1370.2L1167.2 1373.1L1167.7 1373L1168.2 1374.1L1168.6 1372.4L1169.1 1372.3L1169.6 1367.3L1170.1 1371.3L1170.6 1380L1171.1 1372.5L1171.6 1369.6L1172 1374.3L1172.5 1373.7L1173 1373.8L1173.5 1378.1L1174 1369.6L1174.5 1371.9L1175 1371.8L1175.4 1371.9L1175.9 1374L1176.4 1365.6L1176.9 1370L1177.4 1376.7L1177.9 1370.8L1178.4 1369.5L1178.8 1371.1L1179.3 1374.4L1179.8 1369.4L1180.3 1368.4L1180.8 1371.6L1181.3 1367.3L1181.8 1378.4L1182.2 1370.5L1182.7 1376.4L1183.2 1374.9L1183.7 1368.1L1184.2 1373.5L1184.7 1366.4L1185.2 1376.6L1185.6 1373.9L1186.1 1371.3L1186.6 1368.4L1187.1 1378.7L1187.6 1366.5L1188.1 1370.4L1188.6 1374L1189 1374.7L1189.5 1369.4L1190 1376.6L1190.5 1374.4L1191 1372.9L1191.5 1375L1192 1374.5L1192.4 1366.5L1192.9 1373.1L1193.4 1370.4L1193.9 1367.7L1194.4 1371.6L1194.9 1370.7L1195.4 1374.9L1195.8 1373.2L1196.3 1365.8L1196.8 1370.8L1197.3 1367.4L1197.8 1373.5L1198.3 1376.4L1198.8 1374.1L1199.2 1369.6L1199.7 1375.5L1200.2 1369.7L1200.7 1369.9L1201.2 1368.1L1201.7 1372.1L1202.2 1371.5L1202.7 1371.5L1203.1 1378.3L1203.6 1376.3L1204.1 1369.9L1204.6 1378.9L1205.1 1375.9L1205.6 1368.8L1206.1 1371.3L1206.5 1373.1L1207 1373.5L1207.5 1372.2L1208 1368.6L1208.5 1371.1L1209 1369.2L1209.5 1374.7L1209.9 1377L1210.4 1369.6L1210.9 1373.7L1211.4 1374.7L1211.9 1371.5L1212.4 1378.7L1212.9 1374.3L1213.3 1380.8L1213.8 1377L1214.3 1369.8L1214.8 1369.3L1215.3 1371.9L1215.8 1367.9L1216.3 1377.6L1216.7 1374L1217.2 1366.7L1217.7 1368L1218.2 1372.1L1218.7 1378.1L1219.2 1376.7L1219.7 1379.7L1220.1 1366.2L1220.6 1370.5L1221.1 1371.3L1221.6 1372.8L1222.1 1369.8L1222.6 1374.2L1223.1 1373.6L1223.5 1380.6L1224 1376.9L1224.5 1376.4L1225 1375.4L1225.5 1366L1226 1368.8L1226.5 1370.4L1226.9 1377.6L1227.4 1371.7L1227.9 1378.3L1228.4 1376.2L1228.9 1378.1L1229.4 1376.2L1229.9 1374.2L1230.3 1369.2L1230.8 1375L1231.3 1371.5L1231.8 1371.1L1232.3 1370.2L1232.8 1374.5L1233.3 1371.4L1233.7 1377L1234.2 1375.9L1234.7 1374L1235.2 1377.1L1235.7 1372L1236.2 1374L1236.7 1372.8L1237.1 1371.6L1237.6 1376.1L1238.1 1369.9L1238.6 1373.3L1239.1 1372.8L1239.6 1375.3L1240.1 1377L1240.5 1378.6L1241 1369.1L1241.5 1369.6L1242 1367.7L1242.5 1372.3L1243 1372.4L1243.5 1373.3L1244 1368.8L1244.4 1367.9L1244.9 1365.3L1245.4 1367.9L1245.9 1372.4L1246.4 1374.3L1246.9 1382.1L1247.4 1369.2L1247.8 1373.3L1248.3 1377.8L1248.8 1372.7L1249.3 1376L1249.8 1369.7L1250.3 1375.3L1250.8 1371.1L1251.2 1367.6L1251.7 1369L1252.2 1374.8L1252.7 1376.9L1253.2 1372.3L1253.7 1372.1L1254.2 1370.7L1254.6 1367.9L1255.1 1379.9L1255.6 1371.4L1256.1 1367.3L1256.6 1369.6L1257.1 1375.7L1257.6 1370.6L1258 1368.6L1258.5 1367L1259 1371L1259.5 1370.2L1260 1377.3L1260.5 1370.5L1261 1374.9L1261.4 1377.5L1261.9 1366.3L1262.4 1368.2L1262.9 1373.8L1263.4 1372.8L1263.9 1368.5L1264.4 1371.7L1264.8 1362.7L1265.3 1372.6L1265.8 1373.5L1266.3 1369L1266.8 1368.7L1267.3 1370L1267.8 1370.8L1268.2 1372.2L1268.7 1368.2L1269.2 1368.9L1269.7 1372.8L1270.2 1371.8L1270.7 1372L1271.2 1372L1271.6 1370.4L1272.1 1371.7L1272.6 1361.8L1273.1 1371L1273.6 1372.9L1274.1 1369.6L1274.6 1370.8L1275 1366.5L1275.5 1372.7L1276 1361.5L1276.5 1368.8L1277 1369.4L1277.5 1364L1278 1376L1278.4 1360L1278.9 1357.6L1279.4 1362.8L1279.9 1359.7L1280.4 1349L1280.9 1359.7L1281.4 1349.8L1281.8 1354.1L1282.3 1338.1L1282.8 1343.2L1283.3 1345.5L1283.8 1337.6L1284.3 1336.7L1284.8 1336.3L1285.2 1336.3L1285.7 1341.8L1286.2 1346.5L1286.7 1345.2L1287.2 1345.8L1287.7 1351L1288.2 1346.1L1288.7 1356.8L1289.1 1354L1289.6 1363.5L1290.1 1367.8L1290.6 1362.8L1291.1 1364.1L1291.6 1373.2L1292.1 1372.6L1292.5 1370.1L1293 1368.5L1293.5 1375.5L1294 1372.5L1294.5 1367.7L1295 1367.9L1295.5 1366L1295.9 1370.3L1296.4 1369.2L1296.9 1374.8L1297.4 1371L1297.9 1367.9L1298.4 1374.6L1298.9 1372.6L1299.3 1376.7L1299.8 1371.9L1300.3 1366.1L1300.8 1370.2L1301.3 1377.3L1301.8 1369.3L1302.3 1372.6L1302.7 1367.2L1303.2 1372.7L1303.7 1366.9L1304.2 1371.1L1304.7 1371.6L1305.2 1372L1305.7 1371.2L1306.1 1375.3L1306.6 1366L1307.1 1369.3L1307.6 1370.2L1308.1 1377.1L1308.6 1370.4L1309.1 1376.3L1309.5 1371.7L1310 1371.2L1310.5 1366.8L1311 1370L1311.5 1364L1312 1375L1312.5 1371.5L1312.9 1373.3L1313.4 1365.7L1313.9 1371.7L1314.4 1372.8L1314.9 1370.1L1315.4 1368.6L1315.9 1368.2L1316.3 1363.3L1316.8 1368.4L1317.3 1369.1L1317.8 1366.5L1318.3 1374.7L1318.8 1372.5L1319.3 1369.8L1319.7 1375.3L1320.2 1372L1320.7 1370.4L1321.2 1372.5L1321.7 1367.1L1322.2 1375.9L1322.7 1366.9L1323.1 1372.1L1323.6 1374.4L1324.1 1373.2L1324.6 1368L1325.1 1368.4L1325.6 1374.9L1326.1 1366.6L1326.5 1371.1L1327 1371.2L1327.5 1369.4L1328 1369.3L1328.5 1369.5L1329 1368.3L1329.5 1368.5L1330 1375.7L1330.4 1367.6L1330.9 1372.4L1331.4 1368.1L1331.9 1372.8L1332.4 1372.9L1332.9 1368.2L1333.4 1368.5L1333.8 1372.6L1334.3 1370.3L1334.8 1364.4L1335.3 1374.7L1335.8 1368.9L1336.3 1366.5L1336.8 1367.7L1337.2 1366L1337.7 1367.3L1338.2 1366.1L1338.7 1361.7L1339.2 1365.2L1339.7 1374.1L1340.2 1363.1L1340.6 1366L1341.1 1364.6L1341.6 1365.1L1342.1 1369.4L1342.6 1371.5L1343.1 1374L1343.6 1370.4L1344 1368.1L1344.5 1367L1345 1370.8L1345.5 1368.6L1346 1368.1L1346.5 1371.2L1347 1367L1347.4 1368.1L1347.9 1375.2L1348.4 1372.1L1348.9 1372.1L1349.4 1376.2L1349.9 1370.7L1350.4 1364.1L1350.8 1367L1351.3 1367.8L1351.8 1364.9L1352.3 1371.5L1352.8 1369.7L1353.3 1370.7L1353.8 1372.5L1354.2 1367.5L1354.7 1369.9L1355.2 1369.2L1355.7 1367.4L1356.2 1365.9L1356.7 1372L1357.2 1367.6L1357.6 1367.7L1358.1 1366.7L1358.6 1377.4L1359.1 1364.2L1359.6 1369.9L1360.1 1364.3L1360.6 1367.2L1361 1364.4L1361.5 1371.5L1362 1360.2L1362.5 1366.3L1363 1371.2L1363.5 1370.2L1364 1363.1L1364.4 1364.7L1364.9 1363L1365.4 1357.6L1365.9 1363.9L1366.4 1362L1366.9 1354.1L1367.4 1360.5L1367.8 1353.2L1368.3 1350.8L1368.8 1353.1L1369.3 1355L1369.8 1346.5L1370.3 1339.1L1370.8 1332.9L1371.3 1332.7L1371.7 1313.4L1372.2 1305.2L1372.7 1293.9L1373.2 1290.6L1373.7 1286.3L1374.2 1264.8L1374.7 1261.6L1375.1 1256.7L1375.6 1257.7L1376.1 1262L1376.6 1268.2L1377.1 1274.1L1377.6 1278.2L1378.1 1292.9L1378.5 1305.9L1379 1308.1L1379.5 1321.4L1380 1330L1380.5 1336.3L1381 1343.2L1381.5 1347.2L1381.9 1346.7L1382.4 1354.9L1382.9 1355.7L1383.4 1362.6L1383.9 1361.6L1384.4 1369L1384.9 1362.5L1385.3 1366.2L1385.8 1362.1L1386.3 1364.3L1386.8 1361.9L1387.3 1368.3L1387.8 1366.7L1388.3 1373.9L1388.7 1365.2L1389.2 1374.7L1389.7 1366.4L1390.2 1365L1390.7 1366.2L1391.2 1363.2L1391.7 1368.5L1392.1 1362.5L1392.6 1372.5L1393.1 1372.2L1393.6 1365.9L1394.1 1372.9L1394.6 1367.6L1395.1 1365L1395.5 1374.4L1396 1377.8L1396.5 1367.9L1397 1365.8L1397.5 1373.5L1398 1371.2L1398.5 1372.7L1398.9 1365.9L1399.4 1372.4L1399.9 1370.1L1400.4 1371.2L1400.9 1364.8L1401.4 1366.8L1401.9 1373.3L1402.3 1372.5L1402.8 1371.1L1403.3 1372.2L1403.8 1365.2L1404.3 1370L1404.8 1364.8L1405.3 1359.8L1405.7 1372.2L1406.2 1369.5L1406.7 1366.4L1407.2 1371.3L1407.7 1372L1408.2 1369.6L1408.7 1373.2L1409.1 1377.3L1409.6 1370.1L1410.1 1362.2L1410.6 1365L1411.1 1363L1411.6 1358.9L1412.1 1372.9L1412.6 1373.5L1413 1372.4L1413.5 1372.1L1414 1366.4L1414.5 1361.5L1415 1365.9L1415.5 1364L1416 1368.5L1416.4 1368.4L1416.9 1369.4L1417.4 1374L1417.9 1366.3L1418.4 1368.7L1418.9 1368.6L1419.4 1368L1419.8 1374.5L1420.3 1369L1420.8 1367.6L1421.3 1364.6L1421.8 1366.2L1422.3 1364.1L1422.8 1370L1423.2 1360.6L1423.7 1362.4L1424.2 1366.3L1424.7 1371.4L1425.2 1373.3L1425.7 1371.5L1426.2 1369.9L1426.6 1370.6L1427.1 1370.5L1427.6 1371.4L1428.1 1374.6L1428.6 1377.5L1429.1 1373L1429.6 1369L1430 1367.5L1430.5 1367.3L1431 1363.4L1431.5 1362.9L1432 1364.7L1432.5 1360.9L1433 1370.4L1433.4 1375.5L1433.9 1376.4L1434.4 1375.3L1434.9 1367.3L1435.4 1371L1435.9 1368.1L1436.4 1358.8L1436.8 1365.2L1437.3 1365.4L1437.8 1363.5L1438.3 1365.7L1438.8 1368.7L1439.3 1373.7L1439.8 1371L1440.2 1365.8L1440.7 1369.3L1441.2 1367.6L1441.7 1368.1L1442.2 1364.8L1442.7 1369.7L1443.2 1365.6L1443.6 1376.1L1444.1 1362.7L1444.6 1367.3L1445.1 1375.6L1445.6 1366.8L1446.1 1364.6L1446.6 1375L1447 1364.7L1447.5 1371.3L1448 1367.3L1448.5 1366.5L1449 1371.8L1449.5 1363.5L1450 1368.1L1450.4 1372.6L1450.9 1371.3L1451.4 1365.7L1451.9 1365.4L1452.4 1371.3L1452.9 1366.6L1453.4 1370.2L1453.9 1371.3L1454.3 1362L1454.8 1372.2L1455.3 1367.7L1455.8 1370.4L1456.3 1367.8L1456.8 1368.4L1457.3 1373.5L1457.7 1372.6L1458.2 1371L1458.7 1364.7L1459.2 1360.3L1459.7 1369.2L1460.2 1370.9L1460.7 1361.9L1461.1 1361.8L1461.6 1362.9L1462.1 1365.1L1462.6 1365.2L1463.1 1367.9L1463.6 1372.1L1464.1 1372.1L1464.5 1367.1L1465 1364.7L1465.5 1364.9L1466 1366.1L1466.5 1364.4L1467 1367L1467.5 1369.6L1467.9 1367.4L1468.4 1369.2L1468.9 1366.5L1469.4 1364.7L1469.9 1369.2L1470.4 1358.1L1470.9 1364.7L1471.3 1367L1471.8 1375.3L1472.3 1364.7L1472.8 1364.7L1473.3 1363.8L1473.8 1366.7L1474.3 1368.3L1474.7 1369.6L1475.2 1366.1L1475.7 1368.8L1476.2 1371.8L1476.7 1360.9L1477.2 1369.4L1477.7 1367.4L1478.1 1365.3L1478.6 1366.1L1479.1 1374L1479.6 1364L1480.1 1368.2L1480.6 1368.2L1481.1 1366.6L1481.5 1372L1482 1373.1L1482.5 1364.3L1483 1365L1483.5 1361.7L1484 1365.1L1484.5 1363.9L1484.9 1362.8L1485.4 1372.3L1485.9 1364.8L1486.4 1366.2L1486.9 1371.4L1487.4 1368.5L1487.9 1362.9L1488.3 1365.9L1488.8 1368.9L1489.3 1364.7L1489.8 1359.1L1490.3 1360.9L1490.8 1367.1L1491.3 1370.7L1491.7 1362.6L1492.2 1375.5L1492.7 1368.4L1493.2 1364L1493.7 1372.9L1494.2 1371.7L1494.7 1365.5L1495.2 1372.7L1495.6 1368.5L1496.1 1365.8L1496.6 1363.1L1497.1 1371.9L1497.6 1369.1L1498.1 1369.3L1498.6 1366.7L1499 1362.5L1499.5 1369.1L1500 1365.6L1500.5 1365.9L1501 1363L1501.5 1372.8L1502 1367.5L1502.4 1364.9L1502.9 1361.6L1503.4 1364.7L1503.9 1364.8L1504.4 1361.1L1504.9 1360.8L1505.4 1361.6L1505.8 1365.4L1506.3 1368.1L1506.8 1368.6L1507.3 1357.2L1507.8 1363.4L1508.3 1360.5L1508.8 1352.5L1509.2 1359.1L1509.7 1360.9L1510.2 1356.3L1510.7 1346.4L1511.2 1339.8L1511.7 1339.5L1512.2 1325L1512.6 1326.4L1513.1 1313.2L1513.6 1303.2L1514.1 1293.5L1514.6 1284.1L1515.1 1264.2L1515.6 1267.8L1516 1253.1L1516.5 1243.3L1517 1241.1L1517.5 1238.5L1518 1239.3L1518.5 1241.8L1519 1242.9L1519.4 1258.3L1519.9 1260.6L1520.4 1269.9L1520.9 1279.6L1521.4 1289.7L1521.9 1303.7L1522.4 1311.6L1522.8 1322.8L1523.3 1329.1L1523.8 1335.5L1524.3 1344.9L1524.8 1349.6L1525.3 1348.1L1525.8 1353L1526.2 1359.5L1526.7 1355.1L1527.2 1360.7L1527.7 1363.3L1528.2 1370.6L1528.7 1365.7L1529.2 1364.1L1529.6 1357.3L1530.1 1363.7L1530.6 1364L1531.1 1365.6L1531.6 1363.2L1532.1 1362.3L1532.6 1365.7L1533 1364.3L1533.5 1367.3L1534 1363.8L1534.5 1363.5L1535 1367.9L1535.5 1366.3L1536 1368.5L1536.4 1363.8L1536.9 1368.1L1537.4 1367L1537.9 1370.1L1538.4 1367L1538.9 1365.6L1539.4 1368.8L1539.9 1361.1L1540.3 1370.5L1540.8 1366.4L1541.3 1369.4L1541.8 1377.1L1542.3 1368.9L1542.8 1369.6L1543.3 1365.8L1543.7 1369.3L1544.2 1371.9L1544.7 1371.1L1545.2 1364.8L1545.7 1364.1L1546.2 1362L1546.7 1373L1547.1 1367.3L1547.6 1367.4L1548.1 1365.4L1548.6 1371.3L1549.1 1373.6L1549.6 1368.3L1550.1 1368.3L1550.5 1362L1551 1369.2L1551.5 1374.5L1552 1366.8L1552.5 1370L1553 1365.2L1553.5 1362.9L1553.9 1373.6L1554.4 1364.8L1554.9 1363L1555.4 1365.5L1555.9 1370.8L1556.4 1363.1L1556.9 1363.9L1557.3 1365.7L1557.8 1365.6L1558.3 1370.2L1558.8 1363.3L1559.3 1364L1559.8 1364.4L1560.3 1376.5L1560.7 1368.4L1561.2 1361.3L1561.7 1363.2L1562.2 1363.2L1562.7 1369.2L1563.2 1366.1L1563.7 1372.6L1564.1 1362L1564.6 1367L1565.1 1372.1L1565.6 1374L1566.1 1369.2L1566.6 1377.5L1567.1 1372.2L1567.5 1369.6L1568 1359.9L1568.5 1371L1569 1367.7L1569.5 1367.8L1570 1370.4L1570.5 1368.1L1570.9 1366.8L1571.4 1370.7L1571.9 1368L1572.4 1370L1572.9 1362.2L1573.4 1371.7L1573.9 1367.4L1574.3 1372.1L1574.8 1370.5L1575.3 1368.3L1575.8 1370.8L1576.3 1368.8L1576.8 1366.5L1577.3 1369.4L1577.7 1368.6L1578.2 1370.8L1578.7 1365.2L1579.2 1367.6L1579.7 1370.1L1580.2 1364.8L1580.7 1369.2L1581.2 1370.4L1581.6 1371.5L1582.1 1371.6L1582.6 1373.6L1583.1 1369.3L1583.6 1364.2L1584.1 1360.3L1584.6 1366L1585 1371.6L1585.5 1366.3L1586 1363.8L1586.5 1367.3L1587 1366.5L1587.5 1373.1L1588 1367.7L1588.4 1375.2L1588.9 1364.7L1589.4 1369.5L1589.9 1368L1590.4 1365.6L1590.9 1369L1591.4 1367.7L1591.8 1366.6L1592.3 1368.6L1592.8 1372.3L1593.3 1371.1L1593.8 1368.8L1594.3 1366.7L1594.8 1370.8L1595.2 1367.2L1595.7 1372.1L1596.2 1368.7L1596.7 1363.9L1597.2 1371.2L1597.7 1363.9L1598.2 1376L1598.6 1372.8L1599.1 1371.6L1599.6 1364.9L1600.1 1374.5L1600.6 1368.2L1601.1 1364.2L1601.6 1362.7L1602 1375L1602.5 1371.1L1603 1366.3L1603.5 1371.7L1604 1367.9L1604.5 1363.9L1605 1372.5L1605.4 1371.6L1605.9 1360.8L1606.4 1369.6L1606.9 1368.6L1607.4 1369.8L1607.9 1370.3L1608.4 1362.8L1608.8 1368.7L1609.3 1366.5L1609.8 1367.6L1610.3 1371.4L1610.8 1369.1L1611.3 1369.7L1611.8 1364.4L1612.2 1374.5L1612.7 1365.8L1613.2 1370.7L1613.7 1366L1614.2 1368.9L1614.7 1366.7L1615.2 1367.2L1615.6 1371.7L1616.1 1372.1L1616.6 1367.2L1617.1 1369.6L1617.6 1367.6L1618.1 1368L1618.6 1365.7L1619 1366.6L1619.5 1370.1L1620 1367.9L1620.5 1366L1621 1371.3L1621.5 1365.8L1622 1373.1L1622.5 1365.8L1622.9 1374.2L1623.4 1373.6L1623.9 1369.4L1624.4 1371.8L1624.9 1364.4L1625.4 1370.5L1625.9 1371.5L1626.3 1368.3L1626.8 1369L1627.3 1364.6L1627.8 1364.1L1628.3 1372.2L1628.8 1362.3L1629.3 1366.7L1629.7 1365.9L1630.2 1371.6L1630.7 1365.1L1631.2 1364.7L1631.7 1371.2L1632.2 1366.2L1632.7 1375.5L1633.1 1366.1L1633.6 1373.1L1634.1 1363.4L1634.6 1367.6L1635.1 1368.7L1635.6 1367L1636.1 1374.4L1636.5 1369.4L1637 1364.8L1637.5 1369.7L1638 1365.2L1638.5 1370.9L1639 1362.9L1639.5 1369.6L1639.9 1366.3L1640.4 1367.9L1640.9 1368.9L1641.4 1376.9L1641.9 1363.9L1642.4 1370.8L1642.9 1369.5L1643.3 1368L1643.8 1372.5L1644.3 1370.1L1644.8 1370.5L1645.3 1366.5L1645.8 1369.9L1646.3 1369.2L1646.7 1360.3L1647.2 1363.4L1647.7 1371.5L1648.2 1373.4L1648.7 1373.4L1649.2 1368.6L1649.7 1372.5L1650.1 1363.5L1650.6 1361.9L1651.1 1371.9L1651.6 1368.4L1652.1 1373.9L1652.6 1370.3L1653.1 1365.5L1653.5 1366.2L1654 1372.2L1654.5 1371.2L1655 1367.5L1655.5 1372.4L1656 1364.2L1656.5 1374.2L1656.9 1370.7L1657.4 1364.3L1657.9 1368.8L1658.4 1361.4L1658.9 1363.6L1659.4 1359.9L1659.9 1371.3L1660.3 1368.1L1660.8 1367.4L1661.3 1376.5L1661.8 1372.6L1662.3 1371.8L1662.8 1369.6L1663.3 1364.4L1663.8 1371L1664.2 1365.1L1664.7 1371.6L1665.2 1372.7L1665.7 1369.1L1666.2 1365.9L1666.7 1371.6L1667.2 1367.7L1667.6 1365.7L1668.1 1373.7L1668.6 1371.9L1669.1 1373.1L1669.6 1366L1670.1 1371.1L1670.6 1363.3L1671 1372.3L1671.5 1368.6L1672 1363.9L1672.5 1373.2L1673 1371.3L1673.5 1368.7L1674 1364.1L1674.4 1365.3L1674.9 1373.1L1675.4 1365.6L1675.9 1366.1L1676.4 1365.2L1676.9 1375.5L1677.4 1371.5L1677.8 1367.1L1678.3 1366L1678.8 1367.9L1679.3 1369.2L1679.8 1371.6L1680.3 1364.8L1680.8 1367L1681.2 1369.2L1681.7 1369.2L1682.2 1367.7L1682.7 1368.2L1683.2 1370.3L1683.7 1364.8L1684.2 1368.5L1684.6 1366.6L1685.1 1373.7L1685.6 1370.7L1686.1 1369.7L1686.6 1367.1L1687.1 1358.9L1687.6 1371.9L1688 1368.1L1688.5 1366.4L1689 1368.7L1689.5 1366.2L1690 1368L1690.5 1374.5L1691 1374.7L1691.4 1367.9L1691.9 1369.6L1692.4 1370.5L1692.9 1368.8L1693.4 1370.6L1693.9 1369.5L1694.4 1372.5L1694.8 1360.5L1695.3 1370.6L1695.8 1369.6L1696.3 1364L1696.8 1368.5L1697.3 1370.6L1697.8 1366.9L1698.2 1368.1L1698.7 1371.8L1699.2 1364.4L1699.7 1368.9L1700.2 1374.1L1700.7 1366.1L1701.2 1369.2L1701.6 1373.9L1702.1 1367.7L1702.6 1368.5L1703.1 1370.4L1703.6 1371.6L1704.1 1359.2L1704.6 1365.6L1705.1 1366.4L1705.5 1369.3L1706 1374L1706.5 1362.5L1707 1365.7L1707.5 1368.2L1708 1372.8L1708.5 1373.7L1708.9 1368.8L1709.4 1369L1709.9 1366.9L1710.4 1369.1L1710.9 1372.8L1711.4 1361.8L1711.9 1368.9L1712.3 1374.4L1712.8 1366.8L1713.3 1377L1713.8 1368.6L1714.3 1367.8L1714.8 1366.8L1715.3 1367.9L1715.7 1364.3L1716.2 1366.8L1716.7 1364.7L1717.2 1362.8L1717.7 1365.9L1718.2 1366L1718.7 1364.4L1719.1 1370.3L1719.6 1362.1L1720.1 1369.4L1720.6 1364.8L1721.1 1366.7L1721.6 1368.3L1722.1 1364.9L1722.5 1365.6L1723 1363.6L1723.5 1364.4L1724 1367.2L1724.5 1362.5L1725 1361.1L1725.5 1366L1725.9 1361.7L1726.4 1357.6L1726.9 1361.9L1727.4 1358.4L1727.9 1365.3L1728.4 1360.1L1728.9 1364.4L1729.3 1363.7L1729.8 1360L1730.3 1359.1L1730.8 1355L1731.3 1364.6L1731.8 1363.1L1732.3 1356.2L1732.7 1353.6L1733.2 1358.2L1733.7 1355.5L1734.2 1365.6L1734.7 1356.4L1735.2 1356.6L1735.7 1363.6L1736.1 1355.4L1736.6 1364.8L1737.1 1365.5L1737.6 1358L1738.1 1361.9L1738.6 1357.4L1739.1 1362.5L1739.5 1365.5L1740 1363L1740.5 1369.4L1741 1360.4L1741.5 1363.5L1742 1361.8L1742.5 1363.7L1742.9 1373L1743.4 1362.9L1743.9 1373.4L1744.4 1368.5L1744.9 1368.1L1745.4 1368.9L1745.9 1368.5L1746.4 1365.8L1746.8 1365.7L1747.3 1363L1747.8 1369L1748.3 1367.1L1748.8 1367.9L1749.3 1359L1749.8 1368.4L1750.2 1370.9L1750.7 1369.5L1751.2 1366.9L1751.7 1365.8L1752.2 1365.2L1752.7 1359L1753.2 1368.7L1753.6 1366.8L1754.1 1370.3L1754.6 1364.2L1755.1 1374.6L1755.6 1369.9L1756.1 1374.5L1756.6 1367.7L1757 1369.4L1757.5 1367.2L1758 1370.5L1758.5 1367.7L1759 1368.2L1759.5 1368.2L1760 1360.6L1760.4 1372.7L1760.9 1366.3L1761.4 1369L1761.9 1361.9L1762.4 1373.6L1762.9 1369.6L1763.4 1368.1L1763.8 1367.4L1764.3 1365.4L1764.8 1373.7L1765.3 1362.5L1765.8 1370.7L1766.3 1375.3L1766.8 1361.7L1767.2 1376.7L1767.7 1367.1L1768.2 1370.1L1768.7 1371.4L1769.2 1372.3L1769.7 1359.9L1770.2 1378.2L1770.6 1375.7L1771.1 1366.6L1771.6 1362.8L1772.1 1365.5L1772.6 1370.6L1773.1 1372.7L1773.6 1368.8L1774 1372.8L1774.5 1366.9L1775 1360.6L1775.5 1378.2L1776 1365.6L1776.5 1374.8L1777 1366.3L1777.4 1370.3L1777.9 1365.6L1778.4 1369.4L1778.9 1364.9L1779.4 1371L1779.9 1365.2L1780.4 1365.2L1780.8 1370.8L1781.3 1366.1L1781.8 1372.4L1782.3 1367.9L1782.8 1364.3L1783.3 1373.3L1783.8 1372.4L1784.2 1369.1L1784.7 1370.1L1785.2 1369L1785.7 1369.7L1786.2 1367.2L1786.7 1371.4L1787.2 1359.1L1787.6 1368L1788.1 1362.2L1788.6 1365.7L1789.1 1368L1789.6 1371.3L1790.1 1366.6L1790.6 1369.3L1791.1 1364.6L1791.5 1365.4L1792 1371.7L1792.5 1366.8L1793 1367.1L1793.5 1369.6L1794 1371.5L1794.5 1367.3L1794.9 1365.6L1795.4 1363.4L1795.9 1366.4L1796.4 1372.5L1796.9 1374.3L1797.4 1365.5L1797.9 1365.7L1798.3 1373.2L1798.8 1368.5L1799.3 1371.3L1799.8 1363.9L1800.3 1363.1L1800.8 1363.5L1801.3 1362.7L1801.7 1373.8L1802.2 1364.8L1802.7 1369.8L1803.2 1367.2L1803.7 1364.4L1804.2 1357.8L1804.7 1364.7L1805.1 1358.5L1805.6 1361.2L1806.1 1360.2L1806.6 1357.4L1807.1 1358.7L1807.6 1357.1L1808.1 1350.6L1808.5 1352.7L1809 1352.7L1809.5 1354.7L1810 1348.6L1810.5 1351L1811 1345.4L1811.5 1345.1L1811.9 1340.1L1812.4 1343.3L1812.9 1343.2L1813.4 1341.6L1813.9 1349.3L1814.4 1343.4L1814.9 1350L1815.3 1355.8L1815.8 1350.2L1816.3 1353.9L1816.8 1344L1817.3 1355.2L1817.8 1355.6L1818.3 1358.8L1818.7 1359.5L1819.2 1358.8L1819.7 1355.6L1820.2 1364.3L1820.7 1366.3L1821.2 1355.7L1821.7 1362.6L1822.1 1369.1L1822.6 1362.6L1823.1 1369.9L1823.6 1369.1L1824.1 1363.8L1824.6 1363L1825.1 1366.9L1825.5 1368.1L1826 1369.8L1826.5 1366.6L1827 1363.1L1827.5 1374.6L1828 1367.5L1828.5 1369L1828.9 1362.2L1829.4 1359.8L1829.9 1367.2L1830.4 1370.1L1830.9 1367.3L1831.4 1366.4L1831.9 1365L1832.4 1364L1832.8 1361.5L1833.3 1363.7L1833.8 1356L1834.3 1364L1834.8 1362.3L1835.3 1364.3L1835.8 1355.6L1836.2 1355.2L1836.7 1352.6L1837.2 1354.1L1837.7 1361.6L1838.2 1351.7L1838.7 1364.4L1839.2 1354.8L1839.6 1351.9L1840.1 1354.4L1840.6 1353.7L1841.1 1355.4L1841.6 1359.2L1842.1 1356.2L1842.6 1360L1843 1362.6L1843.5 1363.7L1844 1362L1844.5 1363.8L1845 1369.3L1845.5 1361.2L1846 1366.6L1846.4 1367.5L1846.9 1358.3L1847.4 1361.8L1847.9 1368.9L1848.4 1365.5L1848.9 1363.8L1849.4 1370.1L1849.8 1374.3L1850.3 1361.6L1850.8 1368.9L1851.3 1367.1L1851.8 1367.9L1852.3 1373.7L1852.8 1366.9L1853.2 1371.9L1853.7 1369.6L1854.2 1370.7L1854.7 1371.9L1855.2 1369.2L1855.7 1367.3L1856.2 1371.6L1856.6 1371.2L1857.1 1373.4L1857.6 1372.8L1858.1 1367.6L1858.6 1370.4L1859.1 1372.2L1859.6 1371L1860 1371.8L1860.5 1367.6L1861 1374.7L1861.5 1377.9L1862 1366.7L1862.5 1368.2L1863 1368.4L1863.4 1371.6L1863.9 1369.4L1864.4 1366L1864.9 1370.1L1865.4 1366.6L1865.9 1371.4L1866.4 1377.2L1866.8 1369.1L1867.3 1367.1L1867.8 1372.8L1868.3 1368.7L1868.8 1367.3L1869.3 1370.5L1869.8 1378.2L1870.2 1371.8L1870.7 1366.2L1871.2 1370.9L1871.7 1374.1L1872.2 1373.7L1872.7 1373.3L1873.2 1374.3L1873.7 1372.9L1874.1 1367.4L1874.6 1369L1875.1 1362.4L1875.6 1372.3L1876.1 1368.7"/>
<path stroke="#FE3C3C" d="M175.5 953.5L176 949.7L176.5 949.9L177 952.8L177.4 953.8L177.9 955.2L178.4 954L178.9 960.5L179.4 954.2L179.9 955.7L180.4 953.8L180.8 952.6L181.3 954.4L181.8 957.6L182.3 951.2L182.8 947.8L183.3 951.6L183.8 957L184.2 951.5L184.7 955.5L185.2 959.1L185.7 956.5L186.2 948.3L186.7 955.5L187.2 952.5L187.6 953.8L188.1 950.8L188.6 955.1L189.1 956.9L189.6 953L190.1 950.2L190.6 950.8L191 959.6L191.5 953.8L192 952.2L192.5 956.8L193 952.1L193.5 953.2L194 951L194.4 955.4L194.9 954.4L195.4 958.7L195.9 954L196.4 952.6L196.9 950.9L197.4 955.8L197.9 951.9L198.3 954L198.8 952.4L199.3 958.9L199.8 951.1L200.3 949.4L200.8 954.3L201.3 953.3L201.7 953L202.2 956.6L202.7 956.2L203.2 955.9L203.7 959.8L204.2 952.3L204.7 957.6L205.1 952.6L205.6 955.7L206.1 946.6L206.6 952.4L207.1 956L207.6 957.2L208.1 954.1L208.5 951L209 957.4L209.5 959.3L210 948.7L210.5 954.6L211 955.8L211.5 955.5L211.9 949.8L212.4 955.2L212.9 954.7L213.4 953.5L213.9 956.9L214.4 957.2L214.9 953.1L215.3 959.1L215.8 951.2L216.3 960.7L216.8 951.1L217.3 958.8L217.8 951.1L218.3 956.2L218.7 957.2L219.2 952.5L219.7 956.8L220.2 951.7L220.7 952.9L221.2 955L221.7 954.9L222.1 956L222.6 956.4L223.1 962.1L223.6 957.1L224.1 954.8L224.6 954.4L225.1 954.4L225.5 955.3L226 952.6L226.5 959.6L227 955.3L227.5 951.6L228 952L228.5 956.9L228.9 955.4L229.4 952.4L229.9 951.6L230.4 951.6L230.9 955.5L231.4 953.3L231.9 949.4L232.3 955.7L232.8 946.5L233.3 952.1L233.8 958.9L234.3 956.6L234.8 947.5L235.3 952L235.7 951.4L236.2 957.1L236.7 955.2L237.2 958.3L237.7 956.3L238.2 956.1L238.7 950.9L239.2 952.7L239.6 952.7L240.1 949.9L240.6 958.3L241.1 955.3L241.6 948.5L242.1 957L242.6 951.5L243 956.4L243.5 952.3L244 950.8L244.5 950.6L245 949.2L245.5 951.8L246 948.7L246.4 955.5L246.9 951.4L247.4 953.2L247.9 955.1L248.4 950.1L248.9 948.9L249.4 959.3L249.8 948.5L250.3 951.3L250.8 955.4L251.3 955.3L251.8 952.9L252.3 950.2L252.8 957.8L253.2 956L253.7 953.9L254.2 953.8L254.7 956.9L255.2 958.1L255.7 954.6L256.2 954.4L256.6 956.4L257.1 946.8L257.6 959.3L258.1 950.5L258.6 953.7L259.1 956L259.6 953.7L260 958.1L260.5 960.5L261 954.4L261.5 956.5L262 956L262.5 957.9L263 954.2L263.4 953.8L263.9 953.4L264.4 954.5L264.9 957.3L265.4 950.8L265.9 956.6L266.4 953.7L266.8 953.2L267.3 948.6L267.8 951.2L268.3 957.3L268.8 952.3L269.3 958.7L269.8 951.1L270.2 949.9L270.7 954.8L271.2 950.8L271.7 955.5L272.2 957.2L272.7 955.5L273.2 954.1L273.6 951.1L274.1 955.6L274.6 955.6L275.1 953.3L275.6 953.6L276.1 952.3L276.6 954.8L277 954.3L277.5 953.5L278 955.5L278.5 956L279 955.2L279.5 954.3L280 953.5L280.5 956.8L280.9 954.3L281.4 957.6L281.9 955.9L282.4 959.4L282.9 954.2L283.4 954.1L283.9 955.7L284.3 955.4L284.8 954.3L285.3 954.6L285.8 956.4L286.3 954.5L286.8 950.2L287.3 951.7L287.7 958.9L288.2 952.3L288.7 953.9L289.2 953.4L289.7 953.3L290.2 954.2L290.7 957.5L291.1 954.4L291.6 952.9L292.1 954.5L292.6 956L293.1 949.4L293.6 959.2L294.1 950.4L294.5 955.1L295 958.5L295.5 957L296 957.8L296.5 956.3L297 953.3L297.5 960.7L297.9 961.9L298.4 956.7L298.9 955.6L299.4 955.2L299.9 955.2L300.4 954.7L300.9 958.1L301.3 953L301.8 959.4L302.3 952.2L302.8 950.4L303.3 953.2L303.8 954.9L304.3 953.4L304.7 955.1L305.2 953.1L305.7 952.5L306.2 953.3L306.7 951L307.2 952.1L307.7 953L308.1 948.5L308.6 959L309.1 948L309.6 953.3L310.1 955.4L310.6 954.3L311.1 957.5L311.5 955L312 952.7L312.5 955.2L313 957L313.5 958.8L314 953.8L314.5 956.8L314.9 954.6L315.4 950.6L315.9 947.9L316.4 951.8L316.9 950.8L317.4 946.9L317.9 954.4L318.3 956.2L318.8 955.5L319.3 949.8L319.8 951.4L320.3 949.4L320.8 953L321.3 952.8L321.7 953.3L322.2 952.5L322.7 957.6L323.2 954.4L323.7 953.9L324.2 954.3L324.7 959.4L325.2 953.8L325.6 956.5L326.1 952L326.6 957.6L327.1 955L327.6 949.5L328.1 958.1L328.6 950.7L329 951.5L329.5 956.4L330 957L330.5 955L331 954.6L331.5 954L332 954.6L332.4 953.4L332.9 952.4L333.4 958.5L333.9 954.3L334.4 959L334.9 959.8L335.4 957.4L335.8 956.5L336.3 951.6L336.8 952.4L337.3 952.2L337.8 952.8L338.3 956.7L338.8 950.8L339.2 956.6L339.7 958L340.2 956.3L340.7 957.6L341.2 946.7L341.7 954.7L342.2 955.9L342.6 955.2L343.1 955.3L343.6 954.3L344.1 953.8L344.6 954.4L345.1 957.7L345.6 951.3L346 953.5L346.5 957.1L347 953.9L347.5 954.3L348 951.1L348.5 951.9L349 955.2L349.4 947.5L349.9 951.4L350.4 955.1L350.9 954.9L351.4 955L351.9 956.1L352.4 949.1L352.8 949.1L353.3 953.2L353.8 950.3L354.3 948.7L354.8 953.6L355.3 955.3L355.8 955.9L356.2 954.3L356.7 952.8L357.2 959.1L357.7 953L358.2 952.8L358.7 952.8L359.2 953.8L359.6 953.7L360.1 955.1L360.6 952.1L361.1 955.6L361.6 956.9L362.1 956.4L362.6 954.6L363 953.5L363.5 959.7L364 954.9L364.5 959.5L365 960.7L365.5 949.2L366 957.8L366.5 955.4L366.9 952.1L367.4 956.9L367.9 956.9L368.4 955.9L368.9 957.3L369.4 954.6L369.9 954.8L370.3 959.9L370.8 956.1L371.3 952L371.8 948L372.3 952.6L372.8 950.2L373.3 951.7L373.7 955.9L374.2 953L374.7 952.7L375.2 953.5L375.7 959.8L376.2 959.1L376.7 954.9L377.1 952.9L377.6 955.3L378.1 950.4L378.6 949.9L379.1 953.5L379.6 951.7L380.1 952.3L380.5 953.5L381 953.3L381.5 955L382 950.5L382.5 953.1L383 953.6L383.5 955.2L383.9 952.7L384.4 949.1L384.9 945.4L385.4 950.5L385.9 946.5L386.4 950L386.9 950.1L387.3 946.3L387.8 949L388.3 948.4L388.8 941.8L389.3 941.8L389.8 938.2L390.3 929.1L390.7 928.3L391.2 926.2L391.7 919.3L392.2 915.3L392.7 903.6L393.2 900.6L393.7 895.6L394.1 895.5L394.6 896.6L395.1 902.4L395.6 908.4L396.1 914.6L396.6 918.1L397.1 926.7L397.5 929L398 936.1L398.5 943.8L399 947.4L399.5 946.6L400 943.8L400.5 949.9L400.9 955.2L401.4 953.1L401.9 952.7L402.4 952.1L402.9 951.3L403.4 948.6L403.9 951.5L404.3 949.8L404.8 954.4L405.3 955.6L405.8 952.4L406.3 950.9L406.8 950.9L407.3 952.9L407.8 955.6L408.2 954.1L408.7 945.9L409.2 952.1L409.7 959.3L410.2 954.1L410.7 954.4L411.2 954.7L411.6 951.5L412.1 948L412.6 956.3L413.1 947.7L413.6 955.4L414.1 953.5L414.6 953.9L415 949.4L415.5 954.6L416 950.8L416.5 950.7L417 951.3L417.5 953.1L418 951.9L418.4 954L418.9 957.3L419.4 955.7L419.9 952.1L420.4 957.1L420.9 952.7L421.4 952.1L421.8 959L422.3 954.9L422.8 951.3L423.3 957.1L423.8 955.7L424.3 957L424.8 956.2L425.2 950.8L425.7 953.2L426.2 958.5L426.7 952.5L427.2 953.1L427.7 952.7L428.2 952.3L428.6 955.9L429.1 955.4L429.6 954.8L430.1 954.6L430.6 952.8L431.1 956.6L431.6 958.4L432 957L432.5 952.4L433 956L433.5 955.2L434 953.9L434.5 951.2L435 953.3L435.4 955.1L435.9 953.5L436.4 952.3L436.9 954.5L437.4 954.1L437.9 952.2L438.4 956.7L438.8 956.9L439.3 956.3L439.8 951.3L440.3 958.9L440.8 958.1L441.3 950.9L441.8 954.6L442.2 958.8L442.7 958.6L443.2 948.3L443.7 953.6L444.2 952.9L444.7 954.2L445.2 955.6L445.6 959.3L446.1 956.3L446.6 956.4L447.1 952.9L447.6 957.8L448.1 956.3L448.6 955L449.1 957.2L449.5 954.5L450 951.4L450.5 952.3L451 959.8L451.5 956.6L452 956.5L452.5 963.5L452.9 953.4L453.4 955.1L453.9 954.5L454.4 953.1L454.9 956.7L455.4 955.4L455.9 957.1L456.3 948.5L456.8 957.8L457.3 958.3L457.8 959.1L458.3 955.1L458.8 956.9L459.3 953.5L459.7 950.2L460.2 961.9L460.7 957L461.2 956.5L461.7 958.9L462.2 952.5L462.7 953.9L463.1 961.2L463.6 957.9L464.1 962.8L464.6 957.4L465.1 961.8L465.6 956.5L466.1 957.3L466.5 955.6L467 958.3L467.5 956.4L468 953.5L468.5 954L469 958.8L469.5 953.7L469.9 955.7L470.4 953.5L470.9 957.8L471.4 955.8L471.9 960.7L472.4 957.4L472.9 959.2L473.3 953.8L473.8 958.8L474.3 950.1L474.8 959.6L475.3 957L475.8 959.9L476.3 951.7L476.7 956.5L477.2 951.7L477.7 955.9L478.2 955.2L478.7 953.9L479.2 952.1L479.7 958.8L480.1 959.3L480.6 956.5L481.1 959.8L481.6 957.5L482.1 956.6L482.6 955.9L483.1 960.8L483.5 955.5L484 958L484.5 957.1L485 955.1L485.5 958.8L486 953.5L486.5 958.3L486.9 950.1L487.4 953.8L487.9 955.7L488.4 957.9L488.9 960.2L489.4 955.1L489.9 957.6L490.4 955.7L490.8 958.2L491.3 960.8L491.8 963.4L492.3 960.2L492.8 960.1L493.3 954.2L493.8 958.6L494.2 955.7L494.7 957L495.2 961.2L495.7 957.5L496.2 956.4L496.7 954.7L497.2 957.5L497.6 957.5L498.1 962.2L498.6 955.9L499.1 960.5L499.6 962.8L500.1 956.9L500.6 952.1L501 956.9L501.5 962.8L502 957.8L502.5 958.9L503 962L503.5 958.6L504 951.4L504.4 962.7L504.9 954.8L505.4 960.1L505.9 960L506.4 959.3L506.9 953.6L507.4 961.1L507.8 957.3L508.3 950.2L508.8 955.9L509.3 955.6L509.8 959.4L510.3 953.5L510.8 952.8L511.2 959.2L511.7 962.5L512.2 959.5L512.7 956.3L513.2 957.1L513.7 957.8L514.2 958.4L514.6 961.1L515.1 955.8L515.6 962.3L516.1 963.7L516.6 959L517.1 965.3L517.6 959.5L518 959.4L518.5 964.7L519 956.4L519.5 964.6L520 956L520.5 959.4L521 961.5L521.4 958L521.9 958.5L522.4 955.3L522.9 959.2L523.4 961.8L523.9 959.3L524.4 962.4L524.8 958.6L525.3 961L525.8 958.6L526.3 964.1L526.8 957.4L527.3 959.6L527.8 961.8L528.2 954.3L528.7 963.1L529.2 960.7L529.7 959.8L530.2 960.3L530.7 961.1L531.2 957.9L531.7 960L532.1 955.6L532.6 957.8L533.1 960.4L533.6 957.7L534.1 962L534.6 956.3L535.1 956.5L535.5 958.5L536 956.5L536.5 963.4L537 962.6L537.5 952.2L538 960.5L538.5 958.2L538.9 958.7L539.4 956.5L539.9 960.2L540.4 959.1L540.9 961.1L541.4 956.2L541.9 954.7L542.3 957.3L542.8 954.3L543.3 956.5L543.8 962.4L544.3 958.2L544.8 959.1L545.3 963.3L545.7 964L546.2 958L546.7 957.6L547.2 958.4L547.7 956.1L548.2 960.7L548.7 958.5L549.1 958.2L549.6 958.3L550.1 956.6L550.6 960.1L551.1 953.7L551.6 956.2L552.1 952.3L552.5 953.8L553 954.5L553.5 957.4L554 956.8L554.5 962.5L555 958.8L555.5 957.4L555.9 957.1L556.4 955.2L556.9 958.8L557.4 961.2L557.9 962.9L558.4 963.9L558.9 957.3L559.3 955.5L559.8 960.3L560.3 959.1L560.8 959.9L561.3 962.4L561.8 961.2L562.3 960.1L562.7 958.9L563.2 954.8L563.7 959.7L564.2 957.3L564.7 959L565.2 957.3L565.7 961.7L566.1 955.1L566.6 958.7L567.1 958.7L567.6 961.7L568.1 961.7L568.6 960.9L569.1 955.8L569.5 954.3L570 960L570.5 958.1L571 961.2L571.5 959.7L572 957.9L572.5 958.1L572.9 959.8L573.4 957.1L573.9 959.9L574.4 955.4L574.9 956.6L575.4 961L575.9 958L576.4 959.2L576.8 956.2L577.3 955.5L577.8 958.5L578.3 957L578.8 960.2L579.3 957.1L579.8 958.3L580.2 961L580.7 955.8L581.2 960.7L581.7 959L582.2 957.5L582.7 960L583.2 963.8L583.6 958.4L584.1 958.4L584.6 959L585.1 955.7L585.6 955.7L586.1 957.4L586.6 959.8L587 963.1L587.5 957.4L588 956.8L588.5 959.7L589 957.6L589.5 961.4L590 960.2L590.4 958.6L590.9 959.5L591.4 958.3L591.9 955L592.4 956L592.9 958.2L593.4 960.4L593.8 959.7L594.3 964.1L594.8 962.3L595.3 961L595.8 959.5L596.3 958.3L596.8 955.3L597.2 951.7L597.7 953.1L598.2 960.7L598.7 961.2L599.2 955.1L599.7 955.5L600.2 961.9L600.6 956.2L601.1 960.8L601.6 955.9L602.1 950.9L602.6 958.6L603.1 952.5L603.6 958.4L604 956.1L604.5 957.7L605 954.5L605.5 956.4L606 957.2L606.5 952.1L607 957.5L607.4 956L607.9 961.2L608.4 959.1L608.9 958L609.4 957.6L609.9 956.9L610.4 960L610.8 954.4L611.3 956.9L611.8 956.4L612.3 951.8L612.8 957.7L613.3 957.1L613.8 952.9L614.2 957.2L614.7 952.9L615.2 956L615.7 954.4L616.2 960.1L616.7 955.2L617.2 953.9L617.7 956.8L618.1 955.9L618.6 956.3L619.1 958.4L619.6 956.8L620.1 956.7L620.6 958.6L621.1 958.7L621.5 948.4L622 954.5L622.5 954.9L623 954.9L623.5 958.9L624 958.5L624.5 956.4L624.9 954L625.4 956.4L625.9 952.1L626.4 956.5L626.9 950.5L627.4 961.1L627.9 951.9L628.3 956.4L628.8 952.7L629.3 956.9L629.8 951.4L630.3 956.7L630.8 956.3L631.3 958.5L631.7 958.8L632.2 949.8L632.7 958.2L633.2 958.6L633.7 952.5L634.2 951.7L634.7 958.2L635.1 953L635.6 951.1L636.1 949.9L636.6 953.4L637.1 954.2L637.6 960L638.1 956.4L638.5 959.5L639 954.8L639.5 953.5L640 956.4L640.5 956.4L641 953.5L641.5 955L641.9 955.5L642.4 957.6L642.9 955.5L643.4 956.2L643.9 952.8L644.4 952.4L644.9 957.1L645.3 954.1L645.8 956.8L646.3 950.5L646.8 959.3L647.3 958L647.8 952.4L648.3 957.8L648.7 952.3L649.2 959.5L649.7 954.9L650.2 961.1L650.7 952.7L651.2 958L651.7 954.3L652.1 957.9L652.6 956.3L653.1 951.2L653.6 956.9L654.1 959.1L654.6 955.2L655.1 956L655.5 953.9L656 956.3L656.5 953.3L657 951.4L657.5 955.9L658 952.6L658.5 953.8L659 957.5L659.4 955.6L659.9 953.2L660.4 949.8L660.9 951.6L661.4 953.3L661.9 951.4L662.4 954.4L662.8 948.5L663.3 956.6L663.8 952.6L664.3 954.4L664.8 953.5L665.3 956L665.8 951.6L666.2 955.6L666.7 950.3L667.2 958.8L667.7 953.6L668.2 956.3L668.7 955.5L669.2 950.1L669.6 957L670.1 952.3L670.6 951.2L671.1 952.6L671.6 956.4L672.1 949L672.6 957.2L673 959.7L673.5 951.5L674 954.6L674.5 954.1L675 948.6L675.5 952.8L676 950.1L676.4 951L676.9 947.3L677.4 950.4L677.9 952.4L678.4 954.3L678.9 950.8L679.4 947.8L679.8 954.4L680.3 949L680.8 949.9L681.3 954.6L681.8 953.2L682.3 950.8L682.8 948.3L683.2 948.4L683.7 949.8L684.2 944.9L684.7 948.1L685.2 945.7L685.7 943.3L686.2 939.4L686.6 941.4L687.1 933.4L687.6 925.3L688.1 920.2L688.6 915.4L689.1 910.4L689.6 899.1L690 893.9L690.5 883.5L691 873.8L691.5 872.8L692 872L692.5 873.6L693 870.7L693.4 873.2L693.9 888L694.4 889.5L694.9 900.6L695.4 910.7L695.9 915.6L696.4 924.8L696.8 925.2L697.3 932.5L697.8 938.9L698.3 939.7L698.8 938.9L699.3 947.2L699.8 945.2L700.3 949.3L700.7 950.1L701.2 947.8L701.7 952.4L702.2 951.3L702.7 956L703.2 944.9L703.7 949.3L704.1 954.6L704.6 949.8L705.1 956.4L705.6 948.4L706.1 951.1L706.6 952L707.1 952.1L707.5 952.3L708 949L708.5 947.9L709 952.9L709.5 955.6L710 954.2L710.5 952.6L710.9 952.9L711.4 952.9L711.9 947.8L712.4 953.2L712.9 949.8L713.4 953.9L713.9 948.8L714.3 953.8L714.8 949.4L715.3 951.9L715.8 952L716.3 950.8L716.8 955.3L717.3 953.7L717.7 955L718.2 956.5L718.7 956.8L719.2 955.9L719.7 954.3L720.2 951.8L720.7 958.7L721.1 950.9L721.6 951.7L722.1 955.5L722.6 957.7L723.1 952.3L723.6 956.2L724.1 952.9L724.5 955.7L725 958L725.5 957.2L726 954.7L726.5 955.3L727 957.3L727.5 953.9L727.9 952.1L728.4 951.6L728.9 948.4L729.4 957.2L729.9 950L730.4 957.3L730.9 951.1L731.3 947.3L731.8 951.8L732.3 953L732.8 955.3L733.3 954.8L733.8 952.8L734.3 950.4L734.7 953.8L735.2 951.3L735.7 951L736.2 953.9L736.7 955.9L737.2 960.5L737.7 951.9L738.1 951.1L738.6 950.2L739.1 950.2L739.6 952.9L740.1 955.4L740.6 953.3L741.1 958.2L741.6 957.9L742 951.2L742.5 951.2L743 952.4L743.5 954.6L744 952.1L744.5 951L745 954.2L745.4 958.1L745.9 956.1L746.4 952.1L746.9 953.4L747.4 954.7L747.9 949.2L748.4 952.3L748.8 956.3L749.3 956.7L749.8 952.5L750.3 952.9L750.8 953.5L751.3 949.9L751.8 961.2L752.2 954.3L752.7 954.6L753.2 960.6L753.7 954.6L754.2 957.8L754.7 954.6L755.2 949.1L755.6 951.9L756.1 959L756.6 953.6L757.1 955.1L757.6 949.7L758.1 953.2L758.6 952.9L759 956.8L759.5 955.1L760 950.1L760.5 957.3L761 951.2L761.5 955.1L762 953.4L762.4 955.7L762.9 956.8L763.4 948.1L763.9 949.6L764.4 952.6L764.9 952.8L765.4 950.7L765.8 953L766.3 953.5L766.8 953.4L767.3 953.5L767.8 953.3L768.3 955L768.8 952L769.2 949.6L769.7 955.7L770.2 955.2L770.7 956.1L771.2 957.3L771.7 955.1L772.2 952.1L772.6 952L773.1 946.1L773.6 949.5L774.1 949.8L774.6 947.2L775.1 957.9L775.6 950.2L776 952.6L776.5 952.2L777 952.2L777.5 954.9L778 950.8L778.5 950L779 953.7L779.4 950.8L779.9 946.4L780.4 950.9L780.9 952.1L781.4 949.4L781.9 953.5L782.4 952.4L782.8 952.3L783.3 946.9L783.8 952.5L784.3 951.7L784.8 956.8L785.3 950.6L785.8 953.6L786.3 952.7L786.7 952.4L787.2 953.5L787.7 952.2L788.2 947.1L788.7 952.7L789.2 953.6L789.7 954.2L790.1 947.6L790.6 950.3L791.1 955.8L791.6 956.1L792.1 954.5L792.6 952.7L793.1 946.6L793.5 951.7L794 950.5L794.5 953.6L795 952.9L795.5 949.5L796 955.5L796.5 951.9L796.9 947.6L797.4 949.9L797.9 947.6L798.4 945.5L798.9 950.8L799.4 948.4L799.9 952.4L800.3 952L800.8 954.9L801.3 947.3L801.8 946.1L802.3 948.5L802.8 954.7L803.3 947.1L803.7 949L804.2 953.6L804.7 951.2L805.2 950.9L805.7 946.2L806.2 947L806.7 947.9L807.1 943.8L807.6 947.3L808.1 951.2L808.6 943.2L809.1 952.5L809.6 947.6L810.1 948.2L810.5 948.4L811 942.9L811.5 942.7L812 945.5L812.5 945.6L813 941.7L813.5 944L813.9 946.5L814.4 937.9L814.9 945L815.4 946.6L815.9 941.6L816.4 938.2L816.9 942.7L817.3 939.3L817.8 936.2L818.3 937.4L818.8 934.9L819.3 924.5L819.8 926.6L820.3 917L820.7 914.5L821.2 904.3L821.7 895.7L822.2 885.8L822.7 875.6L823.2 862.4L823.7 844.9L824.1 824.8L824.6 808.6L825.1 786.3L825.6 763L826.1 747.4L826.6 723.8L827.1 706.3L827.6 701.6L828 693.9L828.5 693.3L829 706L829.5 725.1L830 743.1L830.5 769.4L831 780.3L831.4 809.3L831.9 819.4L832.4 840.8L832.9 867.5L833.4 878.3L833.9 885.1L834.4 895.3L834.8 905.6L835.3 910.9L835.8 920.5L836.3 923.6L836.8 922.4L837.3 929L837.8 929L838.2 936.7L838.7 935.9L839.2 935L839.7 936.8L840.2 933.8L840.7 942.9L841.2 943.6L841.6 940.5L842.1 942.8L842.6 939.9L843.1 942L843.6 943.3L844.1 943.5L844.6 947.9L845 947.6L845.5 942.8L846 939.8L846.5 947.5L847 952.1L847.5 945.1L848 946.2L848.4 944.1L848.9 951.1L849.4 944.8L849.9 945.7L850.4 945.2L850.9 947.1L851.4 941.4L851.8 948.8L852.3 951.3L852.8 946.5L853.3 947.2L853.8 946.3L854.3 947.3L854.8 946L855.2 947.8L855.7 955.4L856.2 948.1L856.7 952.1L857.2 955.3L857.7 951.2L858.2 949.6L858.6 948.1L859.1 947L859.6 946.6L860.1 946.1L860.6 945.3L861.1 947.5L861.6 944.9L862 940.8L862.5 939.6L863 942L863.5 939.3L864 942.6L864.5 937.2L865 937L865.4 929.7L865.9 931.6L866.4 929.9L866.9 926.3L867.4 926.1L867.9 921.3L868.4 925L868.9 920.6L869.3 922L869.8 930.8L870.3 936.5L870.8 930.7L871.3 930.4L871.8 936L872.3 938.1L872.7 944.5L873.2 934.5L873.7 941.5L874.2 946.7L874.7 939.1L875.2 946.9L875.7 951.2L876.1 951.3L876.6 951.5L877.1 948.1L877.6 945.7L878.1 946.1L878.6 947.1L879.1 952.6L879.5 943.5L880 951.1L880.5 952.4L881 945.6L881.5 946.2L882 955.6L882.5 947.8L882.9 945.4L883.4 949.3L883.9 950.6L884.4 949.1L884.9 941.3L885.4 949.6L885.9 949.6L886.3 946L886.8 945.3L887.3 943L887.8 947.1L888.3 951.9L888.8 951.9L889.3 951.5L889.7 951.3L890.2 951.9L890.7 950.1L891.2 945.6L891.7 950.4L892.2 945.4L892.7 946.4L893.1 952L893.6 943L894.1 955.1L894.6 950.1L895.1 945.6L895.6 948.9L896.1 947.8L896.5 950.8L897 954.7L897.5 951.2L898 949.3L898.5 949.9L899 954.2L899.5 948.8L899.9 950.4L900.4 953.8L900.9 946.7L901.4 951.4L901.9 954.2L902.4 955.6L902.9 949.1L903.3 946.8L903.8 949.1L904.3 947.9L904.8 953.5L905.3 949.2L905.8 948L906.3 951.1L906.7 948.5L907.2 948.9L907.7 950L908.2 950L908.7 949L909.2 949.5L909.7 948.3L910.2 942.1L910.6 950.2L911.1 942.1L911.6 954.5L912.1 944.2L912.6 950.4L913.1 948.4L913.6 949.2L914 949.4L914.5 949.6L915 949L915.5 950.8L916 948.7L916.5 951.4L917 947.6L917.4 950.7L917.9 948.5L918.4 951L918.9 949.4L919.4 948.9L919.9 950.4L920.4 952.1L920.8 949.2L921.3 956.5L921.8 954.1L922.3 945.5L922.8 946.5L923.3 952.2L923.8 950.8L924.2 948.1L924.7 946L925.2 955.4L925.7 954.1L926.2 950.1L926.7 948.4L927.2 954.3L927.6 955L928.1 957.8L928.6 949.7L929.1 951.2L929.6 949.4L930.1 953.5L930.6 945.3L931 952.3L931.5 958.4L932 951.1L932.5 949.8L933 950.2L933.5 947.4L934 947.6L934.4 951.3L934.9 953.5L935.4 949.7L935.9 950.1L936.4 952.1L936.9 948.6L937.4 943.5L937.8 951.4L938.3 951.2L938.8 948.6L939.3 948.9L939.8 953.6L940.3 954.1L940.8 955.1L941.2 945.3L941.7 950.7L942.2 956.8L942.7 952.9L943.2 946.5L943.7 948.3L944.2 953.7L944.6 953.9L945.1 949.7L945.6 950.3L946.1 945.7L946.6 957.5L947.1 951.4L947.6 953.5L948 952.8L948.5 948.5L949 959L949.5 953.1L950 954.7L950.5 954.9L951 955.1L951.5 953.7L951.9 953.5L952.4 951.5L952.9 954.7L953.4 950.5L953.9 953.4L954.4 948.8L954.9 950.9L955.3 953.4L955.8 952.6L956.3 947.1L956.8 949.8L957.3 953.4L957.8 951.8L958.3 954.7L958.7 952.5L959.2 952L959.7 949.7L960.2 950L960.7 952L961.2 949.1L961.7 950.9L962.1 959.3L962.6 948.7L963.1 953L963.6 949.9L964.1 955.3L964.6 949.4L965.1 949.1L965.5 950.9L966 950.7L966.5 955.1L967 952.6L967.5 951.8L968 950.6L968.5 947.6L968.9 955.7L969.4 952.9L969.9 952.9L970.4 956.3L970.9 956.2L971.4 957.1L971.9 953.1L972.3 951.3L972.8 947.9L973.3 953.3L973.8 952.4L974.3 953L974.8 950.7L975.3 948.1L975.7 947.8L976.2 947.2L976.7 952.3L977.2 951.1L977.7 950L978.2 947.1L978.7 947.5L979.1 951.3L979.6 946.9L980.1 953.4L980.6 950.9L981.1 952.6L981.6 950.3L982.1 950.3L982.5 951.8L983 950L983.5 951.2L984 950.9L984.5 953.1L985 949.6L985.5 956L985.9 949.8L986.4 943.4L986.9 949.9L987.4 948.1L987.9 952.1L988.4 955L988.9 955.5L989.3 952.5L989.8 956L990.3 948L990.8 949.9L991.3 950.5L991.8 951.1L992.3 946.1L992.8 946.3L993.2 952.3L993.7 950.9L994.2 954.1L994.7 946.9L995.2 951.7L995.7 947.9L996.2 951.5L996.6 951.8L997.1 947.6L997.6 953.6L998.1 952L998.6 952.2L999.1 952.4L999.6 950.7L1000 954.5L1000.5 948.8L1001 952.9L1001.5 948.8L1002 950.9L1002.5 949.1L1003 953.5L1003.4 946.3L1003.9 946.6L1004.4 948.6L1004.9 950.1L1005.4 953.1L1005.9 953.1L1006.4 951.2L1006.8 951.9L1007.3 951.9L1007.8 949L1008.3 950.9L1008.8 947L1009.3 945.3L1009.8 944.9L1010.2 947.2L1010.7 944.7L1011.2 944.4L1011.7 945.8L1012.2 942.3L1012.7 944.6L1013.2 946.9L1013.6 940.2L1014.1 940.6L1014.6 935L1015.1 939.4L1015.6 930.4L1016.1 927.3L1016.6 925.9L1017 922.7L1017.5 924.2L1018 912.2L1018.5 918.3L1019 912.8L1019.5 912.3L1020 905.5L1020.4 903L1020.9 904.2L1021.4 900.8L1021.9 902.4L1022.4 898.3L1022.9 902.6L1023.4 902.6L1023.8 903.6L1024.3 906.6L1024.8 909.2L1025.3 914L1025.8 915.5L1026.3 917.8L1026.8 918L1027.2 923.7L1027.7 924.2L1028.2 926.5L1028.7 933.5L1029.2 931.6L1029.7 934L1030.2 939.8L1030.6 940.7L1031.1 936.1L1031.6 941.2L1032.1 940L1032.6 944.3L1033.1 940.8L1033.6 944.7L1034 947.7L1034.5 950.5L1035 944.8L1035.5 942.5L1036 948.5L1036.5 950.3L1037 944.7L1037.5 949.3L1037.9 953.7L1038.4 951.7L1038.9 952L1039.4 952.4L1039.9 946.1L1040.4 945.5L1040.9 944.1L1041.3 954.7L1041.8 941.7L1042.3 952.5L1042.8 946.6L1043.3 945L1043.8 946.1L1044.3 946.6L1044.7 952.4L1045.2 950.4L1045.7 950.3L1046.2 945.4L1046.7 946.6L1047.2 951.9L1047.7 950.4L1048.1 952.4L1048.6 946.7L1049.1 947.8L1049.6 952.7L1050.1 949.9L1050.6 950.7L1051.1 950.1L1051.5 951.6L1052 950L1052.5 951L1053 952.7L1053.5 954.7L1054 945.3L1054.5 955.1L1054.9 945.3L1055.4 955L1055.9 950.2L1056.4 947.6L1056.9 951L1057.4 943.8L1057.9 950.6L1058.3 949.1L1058.8 952.2L1059.3 950.2L1059.8 950.4L1060.3 949L1060.8 954.5L1061.3 953.7L1061.7 949.2L1062.2 953L1062.7 951.1L1063.2 954L1063.7 955.8L1064.2 952.1L1064.7 949.3L1065.1 950.3L1065.6 950.8L1066.1 953.2L1066.6 946.3L1067.1 954.2L1067.6 944.9L1068.1 948.2L1068.5 953.6L1069 955.6L1069.5 947.7L1070 954.5L1070.5 950.3L1071 946.9L1071.5 950L1071.9 948.9L1072.4 946.9L1072.9 951.8L1073.4 946L1073.9 951.6L1074.4 946.6L1074.9 946.4L1075.3 949.6L1075.8 945.8L1076.3 948.2L1076.8 944.9L1077.3 950.1L1077.8 949.5L1078.3 947.5L1078.8 948L1079.2 951.8L1079.7 945.6L1080.2 951.5L1080.7 950.4L1081.2 952.9L1081.7 950.9L1082.2 945.2L1082.6 951.3L1083.1 948.1L1083.6 949.5L1084.1 948.4L1084.6 943.8L1085.1 945.4L1085.6 951.1L1086 950.6L1086.5 954L1087 947.9L1087.5 947.7L1088 944.9L1088.5 954.1L1089 948.5L1089.4 952.6L1089.9 945.3L1090.4 954.3L1090.9 950.5L1091.4 949.9L1091.9 949.8L1092.4 947.9L1092.8 947L1093.3 945.8L1093.8 953.1L1094.3 950.5L1094.8 950.5L1095.3 951.4L1095.8 951.6L1096.2 950.7L1096.7 947.3L1097.2 953.9L1097.7 952.9L1098.2 950.2L1098.7 944.2L1099.2 949.9L1099.6 950.7L1100.1 945.2L1100.6 948.3L1101.1 950.6L1101.6 945L1102.1 950.1L1102.6 951.8L1103 950.3L1103.5 943.4L1104 952.1L1104.5 944.8L1105 946.1L1105.5 951.4L1106 949.3L1106.4 948L1106.9 946L1107.4 947.7L1107.9 945.1L1108.4 948.4L1108.9 949.2L1109.4 947.3L1109.8 948.8L1110.3 947.1L1110.8 947.5L1111.3 949.7L1111.8 945.8L1112.3 949.6L1112.8 948.9L1113.2 956.1L1113.7 948.3L1114.2 949.5L1114.7 945.6L1115.2 956.2L1115.7 948.9L1116.2 945.8L1116.6 949.3L1117.1 949.3L1117.6 948.5L1118.1 946.2L1118.6 948.3L1119.1 953.1L1119.6 945.9L1120.1 952.9L1120.5 948.7L1121 945.5L1121.5 950.4L1122 953.2L1122.5 947.9L1123 947.5L1123.5 952.7L1123.9 953.2L1124.4 948.2L1124.9 948.3L1125.4 941.8L1125.9 949.1L1126.4 942.1L1126.9 943.4L1127.3 946.5L1127.8 946.9L1128.3 947.2L1128.8 945.4L1129.3 949.5L1129.8 948.5L1130.3 947.1L1130.7 946.1L1131.2 947.6L1131.7 949.3L1132.2 947.5L1132.7 949.1L1133.2 949.9L1133.7 953.4L1134.1 949L1134.6 944L1135.1 946.3L1135.6 951.7L1136.1 941L1136.6 941.3L1137.1 946.7L1137.5 951.4L1138 951.2L1138.5 952.8L1139 945.6L1139.5 950.4L1140 949.6L1140.5 952L1140.9 949.7L1141.4 951.4L1141.9 952.5L1142.4 951.6L1142.9 944.7L1143.4 947.5L1143.9 946.4L1144.3 947.9L1144.8 947.9L1145.3 952.5L1145.8 949.9L1146.3 944.9L1146.8 951L1147.3 951.2L1147.7 942.5L1148.2 952.9L1148.7 951.3L1149.2 947.3L1149.7 948.4L1150.2 945L1150.7 950.1L1151.1 949.8L1151.6 950.3L1152.1 947.2L1152.6 946.2L1153.1 953.6L1153.6 954L1154.1 943.5L1154.5 944.5L1155 950.5L1155.5 949.7L1156 952.8L1156.5 947.7L1157 946.8L1157.5 945.4L1157.9 951.1L1158.4 950.1L1158.9 946.5L1159.4 949.9L1159.9 944.3L1160.4 943.3L1160.9 949.9L1161.4 951.6L1161.8 949.4L1162.3 947.5L1162.8 950.2L1163.3 940.4L1163.8 948.8L1164.3 942.6L1164.8 948.9L1165.2 950.6L1165.7 951.7L1166.2 951.3L1166.7 952.4L1167.2 950.4L1167.7 950.6L1168.2 946.8L1168.6 951.6L1169.1 950.1L1169.6 948.7L1170.1 946.7L1170.6 946.1L1171.1 945.3L1171.6 948.6L1172 951.1L1172.5 948.2L1173 952.3L1173.5 945.9L1174 955.9L1174.5 949L1175 948.2L1175.4 947.7L1175.9 946.3L1176.4 947.4L1176.9 946.8L1177.4 949.8L1177.9 951.1L1178.4 948L1178.8 945L1179.3 955L1179.8 951.1L1180.3 951.9L1180.8 950.7L1181.3 952.8L1181.8 951.1L1182.2 947.8L1182.7 951.4L1183.2 942.9L1183.7 953.2L1184.2 945.7L1184.7 948.3L1185.2 946.3L1185.6 947.5L1186.1 945L1186.6 947.8L1187.1 952.1L1187.6 948L1188.1 944.4L1188.6 952.7L1189 947.8L1189.5 952L1190 948.4L1190.5 950.6L1191 949.1L1191.5 951.1L1192 947.8L1192.4 952.5L1192.9 951.6L1193.4 945.7L1193.9 945.7L1194.4 946.4L1194.9 951L1195.4 948.8L1195.8 950.3L1196.3 944.7L1196.8 950.2L1197.3 944.1L1197.8 949L1198.3 945.1L1198.8 944.6L1199.2 947.4L1199.7 951.5L1200.2 945L1200.7 946.1L1201.2 951.8L1201.7 947.4L1202.2 949.2L1202.7 948.5L1203.1 952.5L1203.6 950.5L1204.1 950.5L1204.6 950.7L1205.1 948.7L1205.6 945.4L1206.1 947.1L1206.5 948.8L1207 946.1L1207.5 947.8L1208 948.8L1208.5 944.3L1209 949.3L1209.5 949.1L1209.9 945.9L1210.4 946.8L1210.9 949.3L1211.4 942.5L1211.9 944.9L1212.4 951.6L1212.9 945.5L1213.3 950.9L1213.8 947.7L1214.3 947.8L1214.8 947.9L1215.3 944.7L1215.8 941.8L1216.3 945.7L1216.7 950.2L1217.2 945.4L1217.7 948.3L1218.2 941.3L1218.7 947.6L1219.2 947L1219.7 951.2L1220.1 945.8L1220.6 945L1221.1 942.6L1221.6 948.7L1222.1 948.5L1222.6 952.8L1223.1 947L1223.5 948.8L1224 949.1L1224.5 951L1225 946L1225.5 946.9L1226 950.3L1226.5 946.2L1226.9 948.8L1227.4 948.5L1227.9 949.1L1228.4 945.8L1228.9 939.4L1229.4 948.2L1229.9 944.6L1230.3 949.4L1230.8 948.9L1231.3 942.8L1231.8 944.8L1232.3 945.5L1232.8 948.8L1233.3 947.6L1233.7 946.5L1234.2 942.4L1234.7 949.1L1235.2 949.5L1235.7 945.9L1236.2 951.7L1236.7 952.2L1237.1 942.7L1237.6 950.2L1238.1 947.8L1238.6 948.1L1239.1 939.7L1239.6 947L1240.1 947L1240.5 940.9L1241 945.4L1241.5 944.8L1242 944.8L1242.5 942.6L1243 948.6L1243.5 945.8L1244 945.4L1244.4 948.6L1244.9 943.9L1245.4 947.4L1245.9 954.2L1246.4 944L1246.9 946.4L1247.4 948.2L1247.8 947.4L1248.3 941.6L1248.8 946.4L1249.3 943.2L1249.8 947.9L1250.3 947.6L1250.8 945.9L1251.2 949.6L1251.7 949.8L1252.2 944.1L1252.7 944.3L1253.2 946.2L1253.7 949.4L1254.2 950.1L1254.6 950.5L1255.1 947.9L1255.6 943.4L1256.1 948.2L1256.6 948L1257.1 940.8L1257.6 941.9L1258 945.6L1258.5 952L1259 947.1L1259.5 948.5L1260 944L1260.5 939.8L1261 950.1L1261.4 943.4L1261.9 948.5L1262.4 943.2L1262.9 950.6L1263.4 944.6L1263.9 943.3L1264.4 941.7L1264.8 948.6L1265.3 944.8L1265.8 946.2L1266.3 945.5L1266.8 943.8L1267.3 946.2L1267.8 941.6L1268.2 947.5L1268.7 939.9L1269.2 946.5L1269.7 951.9L1270.2 943L1270.7 947.1L1271.2 948.5L1271.6 937.6L1272.1 944.9L1272.6 946.3L1273.1 944L1273.6 945.6L1274.1 942.8L1274.6 946.3L1275 942.4L1275.5 947.2L1276 939.8L1276.5 944.3L1277 945L1277.5 938.9L1278 939.9L1278.4 937.9L1278.9 944.4L1279.4 932.8L1279.9 941L1280.4 930.8L1280.9 925.7L1281.4 924.2L1281.8 924.1L1282.3 928.4L1282.8 918.1L1283.3 920.8L1283.8 917.9L1284.3 916.8L1284.8 916.8L1285.2 921L1285.7 917.4L1286.2 917.8L1286.7 927.2L1287.2 923.6L1287.7 930.2L1288.2 937.2L1288.7 933.8L1289.1 937.5L1289.6 937L1290.1 936L1290.6 936.5L1291.1 935.1L1291.6 945.4L1292.1 941.2L1292.5 944.2L1293 942.7L1293.5 942.8L1294 945.1L1294.5 944L1295 944.2L1295.5 947.7L1295.9 938.6L1296.4 950.2L1296.9 945.2L1297.4 945.3L1297.9 941.8L1298.4 941.7L1298.9 948.9L1299.3 946.3L1299.8 944.8L1300.3 944L1300.8 946L1301.3 947.9L1301.8 947.5L1302.3 942.9L1302.7 947.6L1303.2 944.2L1303.7 945.3L1304.2 945.3L1304.7 941.1L1305.2 945.9L1305.7 946.1L1306.1 948.6L1306.6 947.6L1307.1 947.2L1307.6 945.7L1308.1 947L1308.6 947L1309.1 942.7L1309.5 941.6L1310 947.7L1310.5 950.6L1311 946.6L1311.5 946.3L1312 950.5L1312.5 945.9L1312.9 948.3L1313.4 942.3L1313.9 945.9L1314.4 949.6L1314.9 943.8L1315.4 944.9L1315.9 942.2L1316.3 949.5L1316.8 948.8L1317.3 945L1317.8 948.2L1318.3 944.7L1318.8 945L1319.3 947.7L1319.7 948.3L1320.2 946.4L1320.7 944L1321.2 943.3L1321.7 941.9L1322.2 947.2L1322.7 948.6L1323.1 940.7L1323.6 949.5L1324.1 947.4L1324.6 943.6L1325.1 947.3L1325.6 948.6L1326.1 947.5L1326.5 943.8L1327 944L1327.5 945.6L1328 945L1328.5 946L1329 943.7L1329.5 950.1L1330 942.4L1330.4 945.7L1330.9 939.8L1331.4 945.9L1331.9 947.2L1332.4 944L1332.9 946.5L1333.4 943.9L1333.8 946.3L1334.3 942.6L1334.8 941.5L1335.3 952.2L1335.8 948.8L1336.3 947.8L1336.8 942.9L1337.2 944.9L1337.7 941.7L1338.2 942.1L1338.7 944L1339.2 943.9L1339.7 939.3L1340.2 942.4L1340.6 939.2L1341.1 949.6L1341.6 951.7L1342.1 940.6L1342.6 942.3L1343.1 940.1L1343.6 937.6L1344 944.9L1344.5 947.8L1345 943.4L1345.5 943.4L1346 944.8L1346.5 944.3L1347 942.6L1347.4 941.7L1347.9 943.3L1348.4 944.7L1348.9 939.1L1349.4 940.9L1349.9 942.9L1350.4 942.5L1350.8 949.5L1351.3 944.5L1351.8 943.2L1352.3 950.8L1352.8 944.3L1353.3 947.2L1353.8 942.4L1354.2 939.8L1354.7 941.8L1355.2 945.2L1355.7 944.3L1356.2 945.3L1356.7 940.1L1357.2 940.4L1357.6 938.3L1358.1 938.1L1358.6 937.9L1359.1 941.6L1359.6 939.5L1360.1 934.4L1360.6 942.3L1361 939.6L1361.5 937.9L1362 937.9L1362.5 932.7L1363 932.7L1363.5 940.3L1364 938.1L1364.4 938.6L1364.9 929L1365.4 928.2L1365.9 932.5L1366.4 924.4L1366.9 924.8L1367.4 923.4L1367.8 919.3L1368.3 920.2L1368.8 919.2L1369.3 907.3L1369.8 905.6L1370.3 905.8L1370.8 895.5L1371.3 890.7L1371.7 893L1372.2 885.5L1372.7 882.6L1373.2 878.3L1373.7 872.6L1374.2 869.1L1374.7 876.2L1375.1 868.2L1375.6 869.9L1376.1 871.4L1376.6 870.2L1377.1 879.8L1377.6 885L1378.1 886.6L1378.5 892.2L1379 904.2L1379.5 900.9L1380 907.3L1380.5 903.2L1381 917.9L1381.5 918.6L1381.9 916.3L1382.4 921.5L1382.9 922.3L1383.4 927.9L1383.9 930.7L1384.4 930.3L1384.9 932L1385.3 931.1L1385.8 937.9L1386.3 931.1L1386.8 939.5L1387.3 935.9L1387.8 936.3L1388.3 937.1L1388.7 946.1L1389.2 944.5L1389.7 937.7L1390.2 936.1L1390.7 942.4L1391.2 942L1391.7 942.3L1392.1 941L1392.6 945.2L1393.1 944.5L1393.6 938.2L1394.1 937.5L1394.6 940.1L1395.1 942.9L1395.5 942.6L1396 940.1L1396.5 942.2L1397 938.5L1397.5 944.6L1398 944.9L1398.5 937.8L1398.9 940.9L1399.4 938.9L1399.9 940.7L1400.4 942.3L1400.9 944.3L1401.4 942.9L1401.9 941.2L1402.3 948.6L1402.8 943.6L1403.3 944L1403.8 945.7L1404.3 945.8L1404.8 942.5L1405.3 938.4L1405.7 941.1L1406.2 940.4L1406.7 944.1L1407.2 941L1407.7 941L1408.2 944.6L1408.7 939L1409.1 941.1L1409.6 942.6L1410.1 946.7L1410.6 942.1L1411.1 945L1411.6 948.9L1412.1 942.4L1412.6 939.2L1413 942.1L1413.5 938.9L1414 940.3L1414.5 937.7L1415 939.4L1415.5 938.7L1416 943.2L1416.4 943.4L1416.9 944.4L1417.4 943L1417.9 940L1418.4 943.6L1418.9 941.6L1419.4 944.9L1419.8 945.6L1420.3 946.6L1420.8 943.8L1421.3 943.2L1421.8 942.1L1422.3 944.6L1422.8 938.6L1423.2 938.9L1423.7 938.4L1424.2 937.6L1424.7 945.3L1425.2 939.6L1425.7 940.2L1426.2 944.5L1426.6 938L1427.1 942.8L1427.6 941.1L1428.1 939.4L1428.6 943.8L1429.1 947.2L1429.6 941.5L1430 939.5L1430.5 939.8L1431 942.6L1431.5 941.2L1432 944.9L1432.5 941L1433 939.3L1433.4 941.8L1433.9 940.3L1434.4 944.3L1434.9 942.3L1435.4 942.4L1435.9 946.4L1436.4 937.9L1436.8 942.2L1437.3 942.3L1437.8 940.7L1438.3 944.6L1438.8 936.8L1439.3 939.7L1439.8 939.2L1440.2 941.7L1440.7 940.2L1441.2 939.2L1441.7 941.2L1442.2 940.2L1442.7 940.8L1443.2 938.6L1443.6 939.6L1444.1 936.9L1444.6 938.7L1445.1 942.4L1445.6 945.8L1446.1 939L1446.6 936.1L1447 947.1L1447.5 939.3L1448 941.9L1448.5 941.1L1449 942.7L1449.5 940.8L1450 940.4L1450.4 948.4L1450.9 934.1L1451.4 939.3L1451.9 944.4L1452.4 938L1452.9 947.9L1453.4 948.8L1453.9 940.2L1454.3 944.3L1454.8 939.7L1455.3 943.3L1455.8 942.6L1456.3 939.6L1456.8 942.2L1457.3 937.5L1457.7 939.3L1458.2 942.5L1458.7 945.1L1459.2 939.1L1459.7 938.4L1460.2 940.2L1460.7 940.8L1461.1 940.2L1461.6 942.1L1462.1 941L1462.6 940.3L1463.1 937.6L1463.6 938.3L1464.1 941.8L1464.5 939.4L1465 942.2L1465.5 941.2L1466 941.9L1466.5 938.7L1467 946.7L1467.5 946.8L1467.9 937L1468.4 933.5L1468.9 941.2L1469.4 942.6L1469.9 943.6L1470.4 942.6L1470.9 938.9L1471.3 942L1471.8 943.3L1472.3 940.3L1472.8 935.8L1473.3 944.5L1473.8 938.1L1474.3 937.6L1474.7 933.7L1475.2 936.2L1475.7 942L1476.2 937.6L1476.7 941L1477.2 936.7L1477.7 939.4L1478.1 940.3L1478.6 940.7L1479.1 936.9L1479.6 945L1480.1 937.3L1480.6 934.4L1481.1 940.4L1481.5 942.4L1482 939.3L1482.5 933.5L1483 935.6L1483.5 937.8L1484 939.8L1484.5 936.8L1484.9 940.7L1485.4 935.3L1485.9 943.6L1486.4 934.6L1486.9 936.9L1487.4 936.5L1487.9 936.8L1488.3 942L1488.8 935.6L1489.3 934.4L1489.8 932.6L1490.3 942.4L1490.8 938.4L1491.3 938.6L1491.7 943L1492.2 937.9L1492.7 934.8L1493.2 935L1493.7 936.7L1494.2 942.1L1494.7 938.4L1495.2 935.4L1495.6 938.3L1496.1 935.5L1496.6 937.4L1497.1 934.9L1497.6 936.3L1498.1 943.6L1498.6 936.5L1499 939.2L1499.5 940.2L1500 936.7L1500.5 943.3L1501 942.2L1501.5 932.1L1502 939.7L1502.4 931.1L1502.9 933.8L1503.4 936.1L1503.9 931.1L1504.4 931.5L1504.9 932.4L1505.4 933.3L1505.8 932.4L1506.3 928.1L1506.8 928.7L1507.3 925.4L1507.8 927.1L1508.3 919.8L1508.8 919.3L1509.2 916.7L1509.7 915.2L1510.2 914L1510.7 909.3L1511.2 905.5L1511.7 899.9L1512.2 897.2L1512.6 887.8L1513.1 886.8L1513.6 886.1L1514.1 876.1L1514.6 870.4L1515.1 866.8L1515.6 864.6L1516 863L1516.5 861.9L1517 858.4L1517.5 859.5L1518 860.1L1518.5 859.1L1519 856.9L1519.4 864.5L1519.9 868.2L1520.4 870.2L1520.9 878.7L1521.4 878.5L1521.9 884.8L1522.4 885.4L1522.8 892.1L1523.3 897L1523.8 899.8L1524.3 907.8L1524.8 907.9L1525.3 913.7L1525.8 917.2L1526.2 918.6L1526.7 919L1527.2 923.2L1527.7 927.5L1528.2 922.8L1528.7 923.7L1529.2 928.3L1529.6 931.7L1530.1 933.3L1530.6 935.5L1531.1 931.2L1531.6 937.1L1532.1 937.2L1532.6 927.4L1533 932.9L1533.5 936.9L1534 935L1534.5 942.2L1535 929L1535.5 935.8L1536 938.7L1536.4 938.6L1536.9 934.6L1537.4 941.2L1537.9 935.9L1538.4 940L1538.9 939.1L1539.4 938.8L1539.9 935.8L1540.3 940.4L1540.8 934.7L1541.3 939.1L1541.8 938.7L1542.3 939L1542.8 938.8L1543.3 942.9L1543.7 937.4L1544.2 943.6L1544.7 936.7L1545.2 935.2L1545.7 940.5L1546.2 939.1L1546.7 940L1547.1 942L1547.6 941.6L1548.1 937.4L1548.6 943.1L1549.1 946L1549.6 941.8L1550.1 933.4L1550.5 939.9L1551 939.1L1551.5 941.8L1552 937.8L1552.5 939.9L1553 940.7L1553.5 938.6L1553.9 941.2L1554.4 939.2L1554.9 942.4L1555.4 942.5L1555.9 943.1L1556.4 937.5L1556.9 937.2L1557.3 934.4L1557.8 944.7L1558.3 943.3L1558.8 946L1559.3 945.1L1559.8 939.6L1560.3 939.8L1560.7 941.8L1561.2 937.9L1561.7 941.2L1562.2 937.4L1562.7 936.9L1563.2 939.5L1563.7 944L1564.1 948.2L1564.6 941L1565.1 938.1L1565.6 936.2L1566.1 942.1L1566.6 944.8L1567.1 936.2L1567.5 942.9L1568 944.7L1568.5 940.9L1569 941.4L1569.5 940.3L1570 939.1L1570.5 943L1570.9 942.6L1571.4 942.6L1571.9 940.4L1572.4 941L1572.9 936.8L1573.4 942L1573.9 942.9L1574.3 943.5L1574.8 939.8L1575.3 935L1575.8 937.8L1576.3 942.4L1576.8 941.1L1577.3 941.1L1577.7 942.5L1578.2 940.7L1578.7 942.9L1579.2 935.2L1579.7 936.4L1580.2 942.8L1580.7 943.5L1581.2 942.1L1581.6 941.8L1582.1 939.7L1582.6 938.2L1583.1 939.1L1583.6 942.8L1584.1 941.9L1584.6 935.7L1585 941.6L1585.5 934.5L1586 938.7L1586.5 945.5L1587 944.6L1587.5 940.4L1588 941L1588.4 942L1588.9 943L1589.4 939.1L1589.9 941.1L1590.4 939.7L1590.9 940.3L1591.4 935.3L1591.8 939.3L1592.3 938.4L1592.8 940.5L1593.3 940.4L1593.8 944.6L1594.3 940.3L1594.8 938.1L1595.2 937.6L1595.7 944.4L1596.2 945.4L1596.7 941.8L1597.2 941L1597.7 940L1598.2 944.2L1598.6 937.5L1599.1 942L1599.6 940.2L1600.1 941.4L1600.6 942.7L1601.1 941.8L1601.6 942.2L1602 938.4L1602.5 938.9L1603 941.3L1603.5 948.5L1604 937.8L1604.5 942L1605 940.4L1605.4 938.3L1605.9 934.9L1606.4 941.5L1606.9 945.7L1607.4 936.5L1607.9 936.8L1608.4 946.4L1608.8 941.2L1609.3 944.1L1609.8 944.8L1610.3 940.5L1610.8 941.4L1611.3 939.5L1611.8 936.2L1612.2 943.2L1612.7 940.5L1613.2 948.6L1613.7 937.2L1614.2 943.7L1614.7 941.5L1615.2 943.5L1615.6 938.9L1616.1 942.2L1616.6 946.4L1617.1 938.6L1617.6 948.2L1618.1 944.8L1618.6 940.1L1619 941.9L1619.5 938.1L1620 942.3L1620.5 938.4L1621 942L1621.5 944L1622 944L1622.5 941.5L1622.9 940.7L1623.4 940.7L1623.9 939.1L1624.4 942.4L1624.9 942L1625.4 946.3L1625.9 943.2L1626.3 940.2L1626.8 948L1627.3 946L1627.8 944.8L1628.3 934.7L1628.8 941.8L1629.3 942.5L1629.7 944.7L1630.2 941.4L1630.7 947.4L1631.2 940.1L1631.7 938.8L1632.2 939.6L1632.7 939.4L1633.1 941.2L1633.6 941.8L1634.1 942.5L1634.6 946L1635.1 944.4L1635.6 940.4L1636.1 938.9L1636.5 944.2L1637 941.3L1637.5 943.9L1638 944.5L1638.5 938.9L1639 940.3L1639.5 943.2L1639.9 943.6L1640.4 936.7L1640.9 940.8L1641.4 944.2L1641.9 940.7L1642.4 940.7L1642.9 939.9L1643.3 944L1643.8 937.7L1644.3 942.5L1644.8 941.1L1645.3 942.4L1645.8 937.3L1646.3 933.6L1646.7 944.3L1647.2 940.4L1647.7 945.5L1648.2 940.9L1648.7 942.2L1649.2 939.5L1649.7 939.9L1650.1 939.8L1650.6 939.6L1651.1 938.6L1651.6 934.9L1652.1 938.2L1652.6 944.3L1653.1 942.1L1653.5 939.4L1654 937.8L1654.5 941.2L1655 944.6L1655.5 933.6L1656 939.8L1656.5 941.1L1656.9 940.8L1657.4 944.4L1657.9 942.7L1658.4 943.4L1658.9 943.3L1659.4 942.9L1659.9 937.3L1660.3 942.2L1660.8 938.5L1661.3 937.9L1661.8 941.4L1662.3 940.4L1662.8 944.1L1663.3 944.3L1663.8 940.5L1664.2 946.6L1664.7 943.7L1665.2 944.5L1665.7 941.1L1666.2 940.5L1666.7 945.2L1667.2 936.1L1667.6 948L1668.1 941.7L1668.6 941.2L1669.1 944.8L1669.6 945.9L1670.1 939.3L1670.6 944.2L1671 942.9L1671.5 935.8L1672 945.8L1672.5 933.6L1673 939.6L1673.5 942.1L1674 943.8L1674.4 941.4L1674.9 940.4L1675.4 941.8L1675.9 939.6L1676.4 941.9L1676.9 941L1677.4 941.1L1677.8 938.5L1678.3 945.8L1678.8 944.5L1679.3 941.8L1679.8 941.1L1680.3 943.5L1680.8 938L1681.2 942.1L1681.7 941.8L1682.2 947.8L1682.7 944.7L1683.2 942L1683.7 945.5L1684.2 942.1L1684.6 939.6L1685.1 943.4L1685.6 940.6L1686.1 938.6L1686.6 938.2L1687.1 939.6L1687.6 947.9L1688 940.6L1688.5 938.2L1689 942.7L1689.5 943.4L1690 941.9L1690.5 942.1L1691 935.9L1691.4 937L1691.9 942.8L1692.4 942L1692.9 939.6L1693.4 941.4L1693.9 942.5L1694.4 937L1694.8 938.2L1695.3 944.6L1695.8 938.7L1696.3 939.8L1696.8 939.9L1697.3 938.1L1697.8 938.8L1698.2 944L1698.7 942.7L1699.2 942.6L1699.7 939.4L1700.2 939.2L1700.7 937.7L1701.2 940.1L1701.6 942.8L1702.1 943.6L1702.6 945.4L1703.1 939L1703.6 942.5L1704.1 943.6L1704.6 938.1L1705.1 941.2L1705.5 944.1L1706 946.4L1706.5 947.3L1707 942.6L1707.5 941.3L1708 945.3L1708.5 939.4L1708.9 941.2L1709.4 946.4L1709.9 945.8L1710.4 945.9L1710.9 936.3L1711.4 944.5L1711.9 940.7L1712.3 941.5L1712.8 941.7L1713.3 938.1L1713.8 938.5L1714.3 943L1714.8 935.5L1715.3 942.6L1715.7 945.2L1716.2 940.9L1716.7 942.3L1717.2 940.5L1717.7 944.6L1718.2 943.5L1718.7 943.3L1719.1 934.7L1719.6 941.5L1720.1 944.4L1720.6 940.9L1721.1 937.7L1721.6 947.2L1722.1 941.6L1722.5 943.1L1723 939.9L1723.5 949.1L1724 941.5L1724.5 933.5L1725 940.3L1725.5 936.1L1725.9 937.1L1726.4 942.8L1726.9 937.4L1727.4 940.1L1727.9 943.2L1728.4 939.6L1728.9 942.4L1729.3 939.5L1729.8 941.2L1730.3 944.7L1730.8 947.2L1731.3 942.1L1731.8 946L1732.3 944.9L1732.7 940.7L1733.2 943.5L1733.7 941.8L1734.2 946.7L1734.7 938.5L1735.2 941.1L1735.7 935L1736.1 940.1L1736.6 938.4L1737.1 942.1L1737.6 939L1738.1 942.1L1738.6 942.8L1739.1 943.6L1739.5 940.1L1740 941.5L1740.5 946.5L1741 933.4L1741.5 943.2L1742 943L1742.5 945.7L1742.9 934.2L1743.4 939.1L1743.9 943.4L1744.4 938.3L1744.9 945.6L1745.4 941L1745.9 943.1L1746.4 947L1746.8 942.5L1747.3 937.7L1747.8 940.4L1748.3 940.9L1748.8 943.5L1749.3 940.9L1749.8 940.9L1750.2 941.4L1750.7 942.5L1751.2 944.3L1751.7 940L1752.2 940.6L1752.7 943.1L1753.2 940.6L1753.6 941.1L1754.1 940.8L1754.6 944.9L1755.1 944.8L1755.6 944.7L1756.1 943.9L1756.6 940.2L1757 946.1L1757.5 943.2L1758 941L1758.5 937.3L1759 943.6L1759.5 943.1L1760 943.9L1760.4 944.7L1760.9 940.9L1761.4 943.2L1761.9 937.4L1762.4 933L1762.9 936.5L1763.4 940.3L1763.8 944.7L1764.3 943.1L1764.8 946.6L1765.3 942.8L1765.8 938.7L1766.3 946.4L1766.8 942.6L1767.2 944.5L1767.7 938.1L1768.2 941L1768.7 939.6L1769.2 940.1L1769.7 939.2L1770.2 935.6L1770.6 936.2L1771.1 942L1771.6 940.8L1772.1 938.5L1772.6 944L1773.1 941.2L1773.6 942.1L1774 940.1L1774.5 937.2L1775 941.9L1775.5 941.4L1776 937.4L1776.5 941.5L1777 937.8L1777.4 938.6L1777.9 933.4L1778.4 938.5L1778.9 941L1779.4 942.5L1779.9 937.4L1780.4 942.7L1780.8 939.5L1781.3 942.8L1781.8 938.7L1782.3 938.1L1782.8 944.3L1783.3 944.9L1783.8 940.3L1784.2 943.7L1784.7 937.8L1785.2 943.1L1785.7 938.8L1786.2 939.1L1786.7 941.7L1787.2 937.4L1787.6 940.2L1788.1 940.5L1788.6 944.5L1789.1 934.6L1789.6 936.1L1790.1 935.4L1790.6 941.3L1791.1 937.6L1791.5 943.4L1792 943.8L1792.5 938.4L1793 937.2L1793.5 937.5L1794 940.3L1794.5 937.6L1794.9 936.1L1795.4 937L1795.9 941.6L1796.4 941.4L1796.9 939.8L1797.4 935.2L1797.9 936.5L1798.3 937.3L1798.8 938.4L1799.3 943L1799.8 935.9L1800.3 941L1800.8 944L1801.3 937.2L1801.7 939.8L1802.2 938.9L1802.7 936.4L1803.2 937.4L1803.7 934.6L1804.2 933.8L1804.7 935.4L1805.1 930.9L1805.6 927.8L1806.1 935.4L1806.6 931.6L1807.1 925.4L1807.6 933.3L1808.1 926.6L1808.5 921.9L1809 929.9L1809.5 932.5L1810 929.9L1810.5 925.2L1811 926.1L1811.5 927.2L1811.9 928.2L1812.4 922.5L1812.9 927.1L1813.4 922.7L1813.9 928.7L1814.4 928.3L1814.9 918.2L1815.3 926.7L1815.8 926.5L1816.3 924L1816.8 926.9L1817.3 927.2L1817.8 925.8L1818.3 930.7L1818.7 926L1819.2 931.5L1819.7 936.5L1820.2 930.3L1820.7 935.3L1821.2 931.3L1821.7 931.4L1822.1 932.5L1822.6 935.8L1823.1 938.9L1823.6 941.7L1824.1 937.2L1824.6 935.4L1825.1 936.5L1825.5 938.7L1826 938.7L1826.5 940.3L1827 931.6L1827.5 939.7L1828 940L1828.5 934L1828.9 937.4L1829.4 934L1829.9 934.4L1830.4 936.7L1830.9 941.3L1831.4 936.9L1831.9 937.5L1832.4 937.1L1832.8 941.6L1833.3 941.7L1833.8 934L1834.3 940.4L1834.8 940.9L1835.3 939.1L1835.8 939L1836.2 938.1L1836.7 941L1837.2 940.9L1837.7 937.1L1838.2 939.2L1838.7 931.3L1839.2 936.7L1839.6 934.1L1840.1 939.7L1840.6 935.1L1841.1 941.6L1841.6 934.2L1842.1 941.8L1842.6 939.2L1843 941.7L1843.5 938.5L1844 934.9L1844.5 938.9L1845 941.1L1845.5 942.4L1846 939.5L1846.4 943L1846.9 940.7L1847.4 936.6L1847.9 934.7L1848.4 936.5L1848.9 940.5L1849.4 937.9L1849.8 940L1850.3 935.9L1850.8 937.9L1851.3 937.6L1851.8 939.1L1852.3 937.8L1852.8 934.3L1853.2 936.4L1853.7 939.8L1854.2 936.7L1854.7 939.7L1855.2 942.4L1855.7 933.1L1856.2 938.7L1856.6 944.1L1857.1 942.6L1857.6 933.5L1858.1 942.7L1858.6 938.4L1859.1 938.7L1859.6 940.7L1860 937L1860.5 944.2L1861 939.5L1861.5 937.8L1862 946.1L1862.5 939.2L1863 935.9L1863.4 933.8L1863.9 940.8L1864.4 939.2L1864.9 937.4L1865.4 935L1865.9 942.7L1866.4 938.1L1866.8 939.8L1867.3 939.5L1867.8 933.2L1868.3 939.2L1868.8 936.5L1869.3 938.9L1869.8 935.3L1870.2 941.2L1870.7 939.5L1871.2 936.6L1871.7 935.4L1872.2 935.7L1872.7 936.6L1873.2 937.2L1873.7 940.3L1874.1 939.7L1874.6 940.6L1875.1 934.8L1875.6 936.5L1876.1 937.1"/>
<path stroke="#0A00FA" d="M175.5 701.2L176 696.5L176.5 705.1L177 700.6L177.4 699.8L177.9 698L178.4 704.5L178.9 697.7L179.4 703.5L179.9 699.5L180.4 701.5L180.8 700.6L181.3 703.4L181.8 703.9L182.3 697.7L182.8 704.9L183.3 703.9L183.8 704.9L184.2 706.5L184.7 696.2L185.2 707.6L185.7 695.8L186.2 699.1L186.7 702.4L187.2 704.8L187.6 703.4L188.1 702.5L188.6 703.1L189.1 697.5L189.6 701.3L190.1 709.7L190.6 692.7L191 700.4L191.5 700.8L192 698.1L192.5 700.7L193 701.5L193.5 700.3L194 700.9L194.4 697.4L194.9 703.1L195.4 698.9L195.9 697.3L196.4 708.2L196.9 699.1L197.4 699.4L197.9 694.5L198.3 702.4L198.8 697.5L199.3 698.7L199.8 703.5L200.3 702.8L200.8 698.5L201.3 702.9L201.7 702.4L202.2 700.5L202.7 697.7L203.2 702.6L203.7 695.7L204.2 702.3L204.7 701L205.1 696.7L205.6 697.3L206.1 709.4L206.6 693.9L207.1 701.2L207.6 699.8L208.1 702.5L208.5 702L209 704.1L209.5 703.4L210 700.8L210.5 696.1L211 699.9L211.5 702.6L211.9 702.6L212.4 704.7L212.9 700.2L213.4 696.7L213.9 698.9L214.4 701.6L214.9 704L215.3 704.1L215.8 703.4L216.3 696.4L216.8 699.2L217.3 702.5L217.8 701.8L218.3 703.6L218.7 696.5L219.2 702.7L219.7 691.8L220.2 698.9L220.7 700.8L221.2 699.4L221.7 703.5L222.1 699.8L222.6 700.6L223.1 702.9L223.6 697.5L224.1 705.6L224.6 698.3L225.1 702.6L225.5 701.2L226 699.1L226.5 700.8L227 701.5L227.5 698.9L228 707.9L228.5 697L228.9 700.4L229.4 704.3L229.9 702.1L230.4 704.1L230.9 695.2L231.4 699.6L231.9 700.5L232.3 704.6L232.8 697.6L233.3 700.2L233.8 706.7L234.3 701.6L234.8 701.8L235.3 700.1L235.7 704.3L236.2 693.9L236.7 697.5L237.2 698.3L237.7 700.7L238.2 700.3L238.7 693L239.2 700.6L239.6 697.3L240.1 709.1L240.6 699.3L241.1 703.8L241.6 698.3L242.1 699.3L242.6 697.3L243 703L243.5 704.7L244 695.8L244.5 701.9L245 702.8L245.5 704.8L246 698.5L246.4 705.5L246.9 696.4L247.4 701.3L247.9 698.9L248.4 699.6L248.9 704.3L249.4 702.4L249.8 708.9L250.3 700.3L250.8 698L251.3 704.6L251.8 701.4L252.3 699L252.8 705L253.2 705.5L253.7 695.5L254.2 699.2L254.7 704.6L255.2 697.9L255.7 706.3L256.2 700.1L256.6 701.9L257.1 701.1L257.6 696.7L258.1 699.9L258.6 698L259.1 699L259.6 704.1L260 702.7L260.5 699.6L261 701.3L261.5 705.6L262 700.3L262.5 699L263 702.8L263.4 698.4L263.9 696.1L264.4 706.7L264.9 696.5L265.4 700.8L265.9 701.8L266.4 699.2L266.8 706.7L267.3 706.9L267.8 701.7L268.3 694.9L268.8 701.5L269.3 694.2L269.8 702.1L270.2 703.1L270.7 701.3L271.2 704.5L271.7 700.8L272.2 696.9L272.7 698.5L273.2 703.8L273.6 692.4L274.1 700.7L274.6 695.3L275.1 707.6L275.6 694.3L276.1 691.5L276.6 702.6L277 702.4L277.5 696.7L278 698.5L278.5 694.3L279 698.3L279.5 701.9L280 700L280.5 698.7L280.9 696.9L281.4 702.9L281.9 705.5L282.4 704.3L282.9 694.7L283.4 700.1L283.9 696.6L284.3 698.3L284.8 701L285.3 708.2L285.8 700.7L286.3 699.7L286.8 697.9L287.3 701.7L287.7 693.9L288.2 702.2L288.7 702.8L289.2 696.4L289.7 705.3L290.2 707.7L290.7 697L291.1 702.5L291.6 698L292.1 697.2L292.6 702.6L293.1 700.9L293.6 695.1L294.1 694.3L294.5 700.4L295 694.6L295.5 695.1L296 698.7L296.5 697.9L297 701L297.5 706.7L297.9 695.2L298.4 704.9L298.9 694.7L299.4 699.8L299.9 703.4L300.4 708.1L300.9 693.7L301.3 705.6L301.8 699.3L302.3 700.2L302.8 701.6L303.3 706.3L303.8 708.1L304.3 701.1L304.7 697.5L305.2 696.8L305.7 691.8L306.2 694L306.7 703.3L307.2 693.4L307.7 695.1L308.1 697.4L308.6 696.9L309.1 696.2L309.6 695.8L310.1 697.2L310.6 704.5L311.1 701.9L311.5 699.9L312 696.9L312.5 699.8L313 700.4L313.5 696.4L314 695.3L314.5 700.3L314.9 696.8L315.4 696.6L315.9 699.2L316.4 699L316.9 695.7L317.4 704.9L317.9 700.3L318.3 698.6L318.8 701.8L319.3 704.1L319.8 699.3L320.3 690.3L320.8 694.9L321.3 698.9L321.7 699.7L322.2 704.2L322.7 701L323.2 698.2L323.7 702.1L324.2 697L324.7 702.7L325.2 693.7L325.6 704.7L326.1 698.6L326.6 702.2L327.1 698.4L327.6 694.3L328.1 698.4L328.6 699.3L329 700L329.5 699.6L330 700.6L330.5 697.2L331 693.2L331.5 697.6L332 694.3L332.4 698.5L332.9 698.1L333.4 699.3L333.9 697.2L334.4 701.3L334.9 701.2L335.4 701.5L335.8 700.5L336.3 701.8L336.8 702.4L337.3 699.5L337.8 691.5L338.3 697L338.8 704.8L339.2 691.6L339.7 699.6L340.2 697.1L340.7 704.3L341.2 700.6L341.7 698.2L342.2 699.2L342.6 693.3L343.1 706.2L343.6 701.7L344.1 696L344.6 697.2L345.1 701.2L345.6 696.8L346 696.3L346.5 702.2L347 698.8L347.5 700.6L348 702.5L348.5 696.4L349 704.7L349.4 702.5L349.9 695.6L350.4 694.7L350.9 699.6L351.4 700.3L351.9 696.6L352.4 698.3L352.8 698.4L353.3 697.9L353.8 700.4L354.3 704.5L354.8 705.7L355.3 696.3L355.8 698.9L356.2 697L356.7 698.8L357.2 697.7L357.7 703.8L358.2 702.3L358.7 697L359.2 703.7L359.6 696.6L360.1 699.5L360.6 701L361.1 697.7L361.6 696.3L362.1 700.1L362.6 701.7L363 698.4L363.5 705L364 701.3L364.5 697L365 701.4L365.5 697.8L366 700.4L366.5 701.1L366.9 700.6L367.4 704.2L367.9 699.4L368.4 700.4L368.9 697.7L369.4 693.5L369.9 696.6L370.3 699L370.8 689.6L371.3 699.6L371.8 699.8L372.3 702.2L372.8 699.7L373.3 702.1L373.7 698.3L374.2 696.7L374.7 700L375.2 694.6L375.7 702.7L376.2 694L376.7 703L377.1 696L377.6 696.2L378.1 694.1L378.6 697L379.1 698L379.6 692.4L380.1 691.4L380.5 697.3L381 692.2L381.5 699.4L382 701.2L382.5 695.2L383 705.7L383.5 696.7L383.9 692.9L384.4 702.9L384.9 697.9L385.4 694.3L385.9 695.6L386.4 700.3L386.9 700.6L387.3 694.3L387.8 689.9L388.3 690.6L388.8 693.5L389.3 689.3L389.8 688L390.3 685L390.7 685.5L391.2 674.7L391.7 670.8L392.2 659.1L392.7 661.1L393.2 651.5L393.7 652.1L394.1 654L394.6 652.6L395.1 657.1L395.6 653.8L396.1 664.8L396.6 671.6L397.1 675.7L397.5 681.3L398 681.1L398.5 688.8L399 687L399.5 689.8L400 695.6L400.5 698.2L400.9 696.9L401.4 690.8L401.9 693.9L402.4 693.7L402.9 695.9L403.4 701.3L403.9 699.9L404.3 692L404.8 697.4L405.3 697.2L405.8 694.1L406.3 695.2L406.8 700.6L407.3 696.1L407.8 696.2L408.2 695.2L408.7 687.8L409.2 697.2L409.7 700L410.2 703.9L410.7 705.1L411.2 693.6L411.6 697L412.1 695.2L412.6 698L413.1 693.4L413.6 698L414.1 699.3L414.6 699.2L415 698.4L415.5 700.6L416 696.3L416.5 695.6L417 696.9L417.5 696L418 698.4L418.4 700.7L418.9 696.7L419.4 691.1L419.9 691.3L420.4 698.5L420.9 699.1L421.4 698.8L421.8 688L422.3 699.7L422.8 705.7L423.3 696.9L423.8 696.2L424.3 700.8L424.8 694.5L425.2 693.4L425.7 701.1L426.2 693.7L426.7 699.3L427.2 695.1L427.7 695.9L428.2 693.8L428.6 698.6L429.1 696.7L429.6 696.3L430.1 695.4L430.6 694.9L431.1 700.6L431.6 699.7L432 700.2L432.5 692.8L433 698.3L433.5 691L434 702.2L434.5 703L435 701.6L435.4 698.5L435.9 698.8L436.4 696.3L436.9 694.1L437.4 699.9L437.9 700.4L438.4 695.4L438.8 692.1L439.3 695L439.8 695.4L440.3 694.4L440.8 690.4L441.3 691.7L441.8 696.8L442.2 703.2L442.7 691.7L443.2 697.3L443.7 695.6L444.2 697.9L444.7 697L445.2 700.7L445.6 697L446.1 694.5L446.6 697.5L447.1 697.2L447.6 699.8L448.1 698.9L448.6 698.9L449.1 697L449.5 696.3L450 696L450.5 697.6L451 701.1L451.5 702.2L452 694.9L452.5 696.4L452.9 697L453.4 703.4L453.9 694.1L454.4 697.4L454.9 689.1L455.4 698.4L455.9 694L456.3 697.2L456.8 700.4L457.3 692.5L457.8 689.2L458.3 698.6L458.8 695.1L459.3 699.1L459.7 702.4L460.2 693.9L460.7 692.8L461.2 694.3L461.7 691.3L462.2 694.5L462.7 701L463.1 694.5L463.6 692.1L464.1 698.7L464.6 699.2L465.1 690.1L465.6 697.7L466.1 695.6L466.5 698.8L467 694.7L467.5 695.9L468 693.6L468.5 705.2L469 699.5L469.5 700.2L469.9 700.2L470.4 698.1L470.9 702.3L471.4 699.7L471.9 706.5L472.4 700.9L472.9 703.4L473.3 693.3L473.8 696L474.3 696.3L474.8 692.8L475.3 696.1L475.8 696.2L476.3 694L476.7 700.7L477.2 695.9L477.7 698.3L478.2 692.7L478.7 697.2L479.2 695.3L479.7 695.3L480.1 701.6L480.6 699.4L481.1 694.4L481.6 694.8L482.1 700.7L482.6 695.4L483.1 697.3L483.5 702.9L484 702.4L484.5 698.2L485 698L485.5 699L486 697.5L486.5 698.3L486.9 702.4L487.4 699.6L487.9 699.1L488.4 697.6L488.9 701.5L489.4 696.7L489.9 699.9L490.4 694.5L490.8 697.1L491.3 699.3L491.8 696.2L492.3 699.1L492.8 698.6L493.3 696.6L493.8 700.5L494.2 699.2L494.7 696.8L495.2 698.9L495.7 701.3L496.2 694.9L496.7 694.1L497.2 701.3L497.6 694.9L498.1 696.2L498.6 690.5L499.1 697.1L499.6 698.8L500.1 693.1L500.6 699.2L501 693.5L501.5 696.5L502 701.8L502.5 703.3L503 697.4L503.5 702.2L504 695.6L504.4 701L504.9 692.4L505.4 699.4L505.9 696.9L506.4 694.3L506.9 697L507.4 696.6L507.8 697.2L508.3 700L508.8 695L509.3 695.1L509.8 697.5L510.3 695.8L510.8 697.4L511.2 693.4L511.7 700.3L512.2 694.2L512.7 700.6L513.2 700.4L513.7 695.1L514.2 699.8L514.6 702.2L515.1 696.7L515.6 699L516.1 694.4L516.6 701.2L517.1 698.2L517.6 702.9L518 700.8L518.5 697.5L519 694.5L519.5 700.6L520 701.4L520.5 696.5L521 700.8L521.4 699L521.9 696.6L522.4 695L522.9 697.2L523.4 700.8L523.9 694.3L524.4 697L524.8 697L525.3 695L525.8 694.1L526.3 698.8L526.8 700.9L527.3 696.5L527.8 693.4L528.2 697.3L528.7 696.1L529.2 698L529.7 693.4L530.2 699.7L530.7 695.2L531.2 700.6L531.7 696.6L532.1 695.2L532.6 696L533.1 698.6L533.6 698.5L534.1 700.1L534.6 692.4L535.1 694.5L535.5 696.1L536 689.7L536.5 695.5L537 698.4L537.5 694.6L538 696.7L538.5 694.9L538.9 696.7L539.4 693.3L539.9 700.3L540.4 699.8L540.9 697.8L541.4 703.1L541.9 698.6L542.3 696.5L542.8 690.1L543.3 693.5L543.8 699.2L544.3 702.2L544.8 695.2L545.3 699.8L545.7 694.5L546.2 696L546.7 694.8L547.2 695.6L547.7 695.2L548.2 697.9L548.7 692.8L549.1 702.3L549.6 699.1L550.1 690.4L550.6 691.8L551.1 704.3L551.6 693.3L552.1 698.7L552.5 693.4L553 705.7L553.5 691.4L554 702.5L554.5 698.3L555 695.5L555.5 695.6L555.9 693.5L556.4 689.5L556.9 698.6L557.4 703.3L557.9 695.7L558.4 698.3L558.9 699.8L559.3 691.8L559.8 695L560.3 691.3L560.8 698.9L561.3 693.1L561.8 701.7L562.3 699.9L562.7 693.5L563.2 698.2L563.7 697.4L564.2 694.6L564.7 696L565.2 696.9L565.7 690.3L566.1 700.6L566.6 694.4L567.1 693.8L567.6 698.7L568.1 693.1L568.6 702.1L569.1 700.5L569.5 696.7L570 701.4L570.5 702L571 695.3L571.5 690.3L572 691.3L572.5 694.3L572.9 699.4L573.4 698.8L573.9 696.5L574.4 703.6L574.9 696.1L575.4 699.1L575.9 692.9L576.4 694.5L576.8 696.9L577.3 700.2L577.8 688.7L578.3 701.1L578.8 692.9L579.3 700.1L579.8 695.9L580.2 691.8L580.7 693.5L581.2 703.5L581.7 695.9L582.2 694.8L582.7 691.3L583.2 692.6L583.6 700.7L584.1 701.5L584.6 703.1L585.1 698L585.6 694.7L586.1 692.4L586.6 701.1L587 694.5L587.5 691.5L588 695L588.5 695.7L589 700L589.5 695.5L590 700.8L590.4 699L590.9 696.8L591.4 688.1L591.9 688.5L592.4 696.3L592.9 698.5L593.4 702.1L593.8 690.2L594.3 698.5L594.8 698.2L595.3 699.6L595.8 696.8L596.3 695.5L596.8 696.1L597.2 697.5L597.7 700.1L598.2 693.2L598.7 694.4L599.2 693.3L599.7 696.3L600.2 687.3L600.6 701L601.1 696.5L601.6 692.5L602.1 695.2L602.6 694.8L603.1 693.8L603.6 695.5L604 704.9L604.5 705L605 688.9L605.5 696.5L606 697L606.5 691.8L607 694.8L607.4 694.8L607.9 695.7L608.4 690.2L608.9 691.6L609.4 698.9L609.9 698.2L610.4 698.6L610.8 698.4L611.3 692.4L611.8 698.2L612.3 694.7L612.8 699.1L613.3 695.1L613.8 698L614.2 693.2L614.7 700.8L615.2 695.7L615.7 697.1L616.2 692.9L616.7 700.8L617.2 699.2L617.7 701.4L618.1 692.8L618.6 698L619.1 695.8L619.6 695L620.1 697.4L620.6 694.5L621.1 700.3L621.5 691.9L622 692.9L622.5 693L623 698.2L623.5 692.3L624 689.8L624.5 696.5L624.9 699.5L625.4 693L625.9 696.4L626.4 693.6L626.9 696.1L627.4 696.8L627.9 688.6L628.3 701L628.8 694.6L629.3 698.4L629.8 698L630.3 691.3L630.8 700.5L631.3 693.5L631.7 691.6L632.2 696.7L632.7 702.6L633.2 700.2L633.7 686.6L634.2 693.5L634.7 695.1L635.1 692.9L635.6 691.4L636.1 692.5L636.6 690.8L637.1 699.9L637.6 695.2L638.1 690.8L638.5 695.1L639 699.6L639.5 693.1L640 698.3L640.5 690L641 693L641.5 703.6L641.9 694.6L642.4 689.8L642.9 699.5L643.4 693.4L643.9 698L644.4 694L644.9 688.8L645.3 700.4L645.8 694.1L646.3 688.7L646.8 698.6L647.3 694.6L647.8 702.3L648.3 698.3L648.7 695.2L649.2 688.1L649.7 688.1L650.2 693.2L650.7 688.3L651.2 694.1L651.7 697.4L652.1 695.4L652.6 698.8L653.1 697L653.6 695.2L654.1 692.2L654.6 690.7L655.1 692.3L655.5 693.4L656 697.8L656.5 692.3L657 690L657.5 689.6L658 689.3L658.5 689.8L659 699.8L659.4 696.9L659.9 693.7L660.4 694.8L660.9 691.9L661.4 689.3L661.9 688L662.4 693.3L662.8 695.3L663.3 696.7L663.8 690.5L664.3 694.5L664.8 688.3L665.3 693.4L665.8 691.2L666.2 693.7L666.7 686.6L667.2 692.5L667.7 691.8L668.2 690.5L668.7 695.7L669.2 694.1L669.6 694.7L670.1 697.6L670.6 688.8L671.1 695L671.6 685.7L672.1 691.3L672.6 687.6L673 688.9L673.5 693.2L674 695.1L674.5 693.7L675 695.1L675.5 694.6L676 691L676.4 693.4L676.9 690.5L677.4 687.7L677.9 694.6L678.4 689.7L678.9 684.9L679.4 685L679.8 691.6L680.3 690L680.8 688.8L681.3 690.8L681.8 688.1L682.3 687.6L682.8 684.7L683.2 689.6L683.7 692.3L684.2 683.7L684.7 683.1L685.2 686.5L685.7 684.9L686.2 683.2L686.6 675.9L687.1 675L687.6 668.4L688.1 666.6L688.6 656L689.1 655L689.6 642.6L690 647.6L690.5 629.2L691 629.1L691.5 628.9L692 621.7L692.5 624.2L693 620.8L693.4 631.9L693.9 638.8L694.4 644.9L694.9 646.3L695.4 659L695.9 661.5L696.4 665.9L696.8 668.2L697.3 677.1L697.8 679.6L698.3 678.7L698.8 680L699.3 684.5L699.8 680.7L700.3 689.9L700.7 690.4L701.2 691.8L701.7 687.3L702.2 697.9L702.7 690.8L703.2 694.7L703.7 692.4L704.1 693.7L704.6 687.6L705.1 695.1L705.6 688.9L706.1 685.4L706.6 690.2L707.1 695.9L707.5 693.6L708 692.1L708.5 687.4L709 695L709.5 692.3L710 688.5L710.5 693.5L710.9 689.4L711.4 687.9L711.9 691.9L712.4 692.4L712.9 687.5L713.4 697.4L713.9 689.3L714.3 692.9L714.8 689.5L715.3 689.2L715.8 690.2L716.3 688.6L716.8 690.7L717.3 692.5L717.7 687.2L718.2 693.5L718.7 693.9L719.2 690.6L719.7 693.6L720.2 693.2L720.7 694.8L721.1 692.2L721.6 690.2L722.1 689.4L722.6 690.8L723.1 691.2L723.6 694L724.1 689.2L724.5 689.7L725 690.3L725.5 696.6L726 700.6L726.5 688.4L727 687.2L727.5 686.6L727.9 691.8L728.4 692.4L728.9 692.5L729.4 690.7L729.9 692.1L730.4 693.1L730.9 700.6L731.3 691.7L731.8 693.9L732.3 690.2L732.8 692.2L733.3 692.5L733.8 700.1L734.3 688.7L734.7 690.7L735.2 688.8L735.7 692.8L736.2 691.9L736.7 687.8L737.2 692.2L737.7 692.2L738.1 691.6L738.6 690.3L739.1 694L739.6 691.9L740.1 692L740.6 691.9L741.1 689.6L741.6 690.9L742 691.5L742.5 689.3L743 693.8L743.5 687.5L744 693.6L744.5 689.5L745 688.7L745.4 691.2L745.9 690.5L746.4 693.9L746.9 688.2L747.4 687.9L747.9 691.7L748.4 697L748.8 687.5L749.3 695.2L749.8 698.6L750.3 689.7L750.8 695.5L751.3 691.1L751.8 689.7L752.2 690.1L752.7 690.1L753.2 688L753.7 691.1L754.2 689.2L754.7 697.6L755.2 695.8L755.6 691L756.1 691L756.6 694.4L757.1 700.1L757.6 696.8L758.1 693.7L758.6 697.1L759 685.8L759.5 685.9L760 692.5L760.5 688.5L761 691.3L761.5 690.5L762 691.8L762.4 692.3L762.9 690L763.4 689.7L763.9 694.1L764.4 690.8L764.9 690.1L765.4 689.9L765.8 688.3L766.3 687.3L766.8 695.8L767.3 686.6L767.8 691.5L768.3 690.7L768.8 690.2L769.2 692.3L769.7 699.7L770.2 696.8L770.7 689.9L771.2 685.4L771.7 691.6L772.2 690.2L772.6 687.8L773.1 693.3L773.6 689.6L774.1 689.1L774.6 696.6L775.1 694L775.6 689.8L776 695.8L776.5 691.5L777 689L777.5 688.7L778 689.3L778.5 689.5L779 687.4L779.4 688.9L779.9 685.7L780.4 685.5L780.9 691.4L781.4 692.3L781.9 689.7L782.4 686.2L782.8 689.1L783.3 685.3L783.8 685.6L784.3 687.6L784.8 691.2L785.3 696.7L785.8 691.9L786.3 688.1L786.7 686.2L787.2 691.4L787.7 692.5L788.2 688.2L788.7 692.6L789.2 693L789.7 689L790.1 689.1L790.6 686.4L791.1 684.2L791.6 688.4L792.1 689.1L792.6 686.8L793.1 686.9L793.5 691.4L794 687.9L794.5 696.6L795 689.9L795.5 691.8L796 687.3L796.5 687.1L796.9 686.2L797.4 684.9L797.9 692.4L798.4 691L798.9 686.2L799.4 688.7L799.9 688.6L800.3 685.7L800.8 688.1L801.3 684.7L801.8 687.7L802.3 689.7L802.8 686.6L803.3 691.2L803.7 689.3L804.2 682.2L804.7 687.8L805.2 686.1L805.7 685.4L806.2 681.9L806.7 688.8L807.1 682.8L807.6 688.3L808.1 687.5L808.6 689.3L809.1 683.6L809.6 688.5L810.1 681.8L810.5 689.5L811 685.3L811.5 683.6L812 683.9L812.5 685.8L813 679.8L813.5 682.4L813.9 679.7L814.4 681.1L814.9 678L815.4 680L815.9 681.9L816.4 675.2L816.9 676.8L817.3 679.1L817.8 675.3L818.3 675.9L818.8 665.7L819.3 664.3L819.8 663.8L820.3 662.9L820.7 652.3L821.2 650.8L821.7 636.9L822.2 635.7L822.7 616.8L823.2 613L823.7 592.4L824.1 577.9L824.6 560.1L825.1 545.5L825.6 536.4L826.1 514.6L826.6 497.5L827.1 485.2L827.6 481.8L828 472.2L828.5 481L829 488.4L829.5 497.3L830 513.5L830.5 528.5L831 547.6L831.4 562.7L831.9 581.5L832.4 592.3L832.9 608.6L833.4 619.7L833.9 627.6L834.4 636L834.8 650.5L835.3 645.9L835.8 650.2L836.3 665.2L836.8 669.5L837.3 672.1L837.8 676.7L838.2 675.2L838.7 677.7L839.2 676.3L839.7 679L840.2 684L840.7 680.2L841.2 676.3L841.6 675.7L842.1 683.3L842.6 676.6L843.1 679.1L843.6 679.2L844.1 689.4L844.6 681.5L845 681.3L845.5 685.5L846 683.8L846.5 676.7L847 681.8L847.5 675.5L848 683.9L848.4 685.8L848.9 683.2L849.4 689.9L849.9 675.9L850.4 689L850.9 683.1L851.4 684.7L851.8 682.3L852.3 684.3L852.8 685.7L853.3 680.1L853.8 682.4L854.3 681.2L854.8 680.9L855.2 685.8L855.7 683.8L856.2 686.4L856.7 683.9L857.2 685L857.7 691.8L858.2 687.6L858.6 680.8L859.1 681.2L859.6 684.8L860.1 685.9L860.6 680.6L861.1 678.2L861.6 681.2L862 686.1L862.5 682L863 678.6L863.5 678.8L864 675.9L864.5 679.5L865 671.4L865.4 674.2L865.9 676L866.4 671.7L866.9 674.4L867.4 673.7L867.9 675.3L868.4 668.6L868.9 664.5L869.3 663L869.8 666.8L870.3 660.9L870.8 670.6L871.3 664.2L871.8 664.7L872.3 666.8L872.7 670.5L873.2 668.9L873.7 672.7L874.2 671.7L874.7 675.9L875.2 679.9L875.7 673.8L876.1 677.4L876.6 673.1L877.1 678.9L877.6 685.5L878.1 684L878.6 688L879.1 683L879.5 679.5L880 686.6L880.5 690.6L881 683.9L881.5 681.8L882 680.1L882.5 685.6L882.9 689.4L883.4 681.2L883.9 683.8L884.4 683.1L884.9 688L885.4 684.3L885.9 689.9L886.3 682.8L886.8 685.1L887.3 685.6L887.8 684.8L888.3 686.1L888.8 685.7L889.3 688.1L889.7 685.1L890.2 685.7L890.7 684L891.2 688.8L891.7 688L892.2 680.4L892.7 688.5L893.1 690.4L893.6 682.2L894.1 684.8L894.6 688.4L895.1 687.3L895.6 685.3L896.1 691.1L896.5 685.4L897 687.6L897.5 691.2L898 684.8L898.5 688.5L899 683L899.5 684.5L899.9 686.8L900.4 684.6L900.9 685.1L901.4 685.3L901.9 683.8L902.4 687.7L902.9 691.3L903.3 684.4L903.8 679.6L904.3 684L904.8 684L905.3 688.3L905.8 687.4L906.3 681.8L906.7 686.8L907.2 681.2L907.7 688L908.2 690.7L908.7 682.4L909.2 687.8L909.7 684.7L910.2 684.1L910.6 686.7L911.1 687.6L911.6 684.7L912.1 684.2L912.6 684.8L913.1 688.1L913.6 693.3L914 689.3L914.5 679.1L915 686.9L915.5 679.4L916 690.3L916.5 688.5L917 689.9L917.4 690.2L917.9 687.3L918.4 686.4L918.9 691.4L919.4 686.1L919.9 689L920.4 684.4L920.8 684.7L921.3 689L921.8 686.1L922.3 685.5L922.8 688.8L923.3 679.3L923.8 682.6L924.2 686.2L924.7 691.5L925.2 689.7L925.7 688.7L926.2 685.1L926.7 688.4L927.2 686.1L927.6 682L928.1 683.6L928.6 693.6L929.1 687.4L929.6 687.2L930.1 690.1L930.6 690.2L931 687.6L931.5 687.1L932 684.5L932.5 694.6L933 690.5L933.5 688.2L934 688.1L934.4 684.9L934.9 691.8L935.4 695.9L935.9 685.7L936.4 688.2L936.9 693.9L937.4 687.5L937.8 683.8L938.3 681.5L938.8 689.8L939.3 687L939.8 690.6L940.3 684.7L940.8 690.8L941.2 687.6L941.7 682.7L942.2 689.3L942.7 688.2L943.2 683.8L943.7 689.5L944.2 685.9L944.6 684.7L945.1 685.6L945.6 685.4L946.1 688.1L946.6 686.2L947.1 685.2L947.6 686.1L948 688.4L948.5 688.8L949 685.7L949.5 687.6L950 685L950.5 681.6L951 687.6L951.5 692.7L951.9 687.8L952.4 687.8L952.9 684L953.4 685.8L953.9 690.8L954.4 685.2L954.9 686.5L955.3 685.4L955.8 694.8L956.3 692.9L956.8 691.8L957.3 694.3L957.8 690.2L958.3 689.2L958.7 690L959.2 690.9L959.7 692.5L960.2 683.2L960.7 681.6L961.2 690.9L961.7 687.4L962.1 689.5L962.6 690L963.1 680.3L963.6 688.1L964.1 686L964.6 685.5L965.1 685.7L965.5 697.3L966 688.4L966.5 684.9L967 691.4L967.5 690.3L968 693L968.5 687.3L968.9 690.8L969.4 685.3L969.9 691.1L970.4 686.8L970.9 689L971.4 686.2L971.9 686.2L972.3 688.2L972.8 687.1L973.3 684.5L973.8 694L974.3 688.3L974.8 685.1L975.3 682.7L975.7 688.2L976.2 689.7L976.7 682.1L977.2 686.3L977.7 688.6L978.2 685.9L978.7 686.3L979.1 690.6L979.6 682.5L980.1 681.2L980.6 684.4L981.1 685.3L981.6 690.5L982.1 691.1L982.5 684.4L983 687.3L983.5 685.2L984 685.8L984.5 691.1L985 684.7L985.5 690.6L985.9 687.1L986.4 690.5L986.9 685.1L987.4 682L987.9 693.6L988.4 696.5L988.9 693.8L989.3 688.4L989.8 688.7L990.3 688.9L990.8 688.5L991.3 695.3L991.8 690.3L992.3 693.5L992.8 688.9L993.2 692.2L993.7 685.6L994.2 685.7L994.7 685.1L995.2 691L995.7 693.1L996.2 686.7L996.6 688.3L997.1 685.1L997.6 685.2L998.1 682.2L998.6 691.4L999.1 684.2L999.6 683.4L1000 685.5L1000.5 685.1L1001 685.3L1001.5 684.1L1002 690.7L1002.5 686.4L1003 687.1L1003.4 685.7L1003.9 683.2L1004.4 685.9L1004.9 684.6L1005.4 687L1005.9 686.1L1006.4 683.1L1006.8 686.8L1007.3 683.5L1007.8 687.5L1008.3 682.3L1008.8 683.8L1009.3 683.5L1009.8 681.5L1010.2 683.6L1010.7 681.7L1011.2 681.7L1011.7 688L1012.2 683.4L1012.7 678L1013.2 681.5L1013.6 677.2L1014.1 674L1014.6 674.1L1015.1 678.9L1015.6 668.6L1016.1 669.4L1016.6 667.2L1017 666.3L1017.5 669L1018 663.3L1018.5 664.9L1019 657.1L1019.5 660L1020 653.8L1020.4 655.2L1020.9 650.4L1021.4 654.3L1021.9 655.5L1022.4 647.6L1022.9 648.6L1023.4 653.5L1023.8 653.8L1024.3 650.3L1024.8 655.6L1025.3 660.8L1025.8 667.1L1026.3 661.6L1026.8 662.9L1027.2 669.3L1027.7 669.5L1028.2 670.2L1028.7 672.8L1029.2 672.9L1029.7 678.5L1030.2 671.8L1030.6 678.3L1031.1 681.4L1031.6 681.3L1032.1 673.1L1032.6 680.7L1033.1 678.5L1033.6 688.1L1034 687.9L1034.5 684.5L1035 682.6L1035.5 686.5L1036 686.3L1036.5 678.3L1037 689.1L1037.5 684.6L1037.9 679.8L1038.4 687.5L1038.9 679.8L1039.4 685.6L1039.9 688.8L1040.4 689.2L1040.9 686.1L1041.3 682.4L1041.8 687.8L1042.3 687.8L1042.8 690L1043.3 680.7L1043.8 684.9L1044.3 685.3L1044.7 683.7L1045.2 683.7L1045.7 685L1046.2 681.3L1046.7 684.5L1047.2 686.3L1047.7 679.5L1048.1 685.4L1048.6 683.7L1049.1 686.2L1049.6 689.6L1050.1 683.6L1050.6 681.7L1051.1 689.7L1051.5 685.6L1052 679.7L1052.5 687.5L1053 686.5L1053.5 681.3L1054 685.4L1054.5 687.2L1054.9 681.5L1055.4 686.1L1055.9 684.8L1056.4 686.6L1056.9 689.1L1057.4 685.2L1057.9 684.6L1058.3 688.6L1058.8 687L1059.3 692L1059.8 684.3L1060.3 681.8L1060.8 690.7L1061.3 685.7L1061.7 684.7L1062.2 686.4L1062.7 691.3L1063.2 681.4L1063.7 677.5L1064.2 682.2L1064.7 682.1L1065.1 688.4L1065.6 684.1L1066.1 686.1L1066.6 684.8L1067.1 681.3L1067.6 688.9L1068.1 686.6L1068.5 690.2L1069 685.2L1069.5 681.4L1070 687.2L1070.5 690.1L1071 686.2L1071.5 682L1071.9 684.8L1072.4 689.8L1072.9 690.2L1073.4 682.8L1073.9 684.1L1074.4 678.7L1074.9 685.7L1075.3 686.1L1075.8 695.4L1076.3 685.9L1076.8 691.3L1077.3 686.7L1077.8 684.2L1078.3 688.6L1078.8 691.2L1079.2 682.4L1079.7 687.8L1080.2 689.7L1080.7 682.5L1081.2 687L1081.7 686.5L1082.2 688.1L1082.6 693.1L1083.1 684.3L1083.6 684.2L1084.1 688.8L1084.6 687.3L1085.1 686.6L1085.6 679.8L1086 686.9L1086.5 686.6L1087 685.9L1087.5 684.6L1088 685L1088.5 684.9L1089 690.7L1089.4 688.1L1089.9 688.9L1090.4 687.6L1090.9 688.7L1091.4 684.5L1091.9 691.2L1092.4 688.5L1092.8 690.3L1093.3 686.8L1093.8 688.1L1094.3 688.9L1094.8 686.9L1095.3 683.9L1095.8 687.7L1096.2 691.5L1096.7 689L1097.2 683.9L1097.7 688.3L1098.2 689.9L1098.7 688.3L1099.2 685L1099.6 682.9L1100.1 690.6L1100.6 688.1L1101.1 695.8L1101.6 688.9L1102.1 689.5L1102.6 685.1L1103 689L1103.5 692.8L1104 687.8L1104.5 686.4L1105 681.7L1105.5 687.1L1106 679.1L1106.4 688.9L1106.9 689.9L1107.4 683.4L1107.9 685.2L1108.4 686L1108.9 680.7L1109.4 682.6L1109.8 685L1110.3 682.9L1110.8 688.8L1111.3 688.7L1111.8 686.5L1112.3 688.7L1112.8 681.6L1113.2 686.8L1113.7 687.2L1114.2 687.1L1114.7 685.5L1115.2 686.7L1115.7 689.6L1116.2 685.6L1116.6 681.3L1117.1 685.8L1117.6 685.4L1118.1 682.6L1118.6 688.1L1119.1 689.9L1119.6 689.6L1120.1 688.1L1120.5 687.5L1121 682.1L1121.5 683.7L1122 689.4L1122.5 681.2L1123 684.7L1123.5 691.1L1123.9 682.9L1124.4 687.4L1124.9 690.3L1125.4 683.2L1125.9 680.1L1126.4 682.9L1126.9 687.7L1127.3 685.4L1127.8 691L1128.3 691.1L1128.8 683.3L1129.3 688.6L1129.8 687L1130.3 688.3L1130.7 685.1L1131.2 684.2L1131.7 685.8L1132.2 689.9L1132.7 687L1133.2 688.1L1133.7 688.5L1134.1 687.8L1134.6 685.8L1135.1 682.4L1135.6 687.1L1136.1 688.9L1136.6 687.6L1137.1 685.3L1137.5 691L1138 684.8L1138.5 689.6L1139 691L1139.5 689.7L1140 689.8L1140.5 688.1L1140.9 685.6L1141.4 682.4L1141.9 688.2L1142.4 688.6L1142.9 682.5L1143.4 693.8L1143.9 689.4L1144.3 689L1144.8 688.4L1145.3 687.6L1145.8 689.8L1146.3 688.9L1146.8 684.2L1147.3 687.2L1147.7 689.4L1148.2 686.5L1148.7 691.7L1149.2 689.6L1149.7 689.3L1150.2 689.1L1150.7 690.7L1151.1 679L1151.6 682.1L1152.1 685.9L1152.6 683.6L1153.1 684.9L1153.6 683.7L1154.1 679.7L1154.5 688.5L1155 690.1L1155.5 686.9L1156 683.2L1156.5 684.2L1157 691.3L1157.5 685.7L1157.9 691L1158.4 689L1158.9 691L1159.4 688.8L1159.9 687.6L1160.4 686.7L1160.9 684.7L1161.4 686L1161.8 687.7L1162.3 684.9L1162.8 689.9L1163.3 686.9L1163.8 689L1164.3 689.5L1164.8 681.8L1165.2 689.4L1165.7 687.2L1166.2 691L1166.7 687.1L1167.2 686.9L1167.7 683.3L1168.2 680.8L1168.6 687.4L1169.1 687.2L1169.6 685.9L1170.1 692.1L1170.6 686.8L1171.1 687.2L1171.6 693.4L1172 686.5L1172.5 684.6L1173 695.9L1173.5 690.8L1174 693.9L1174.5 685.9L1175 689L1175.4 691.8L1175.9 685.1L1176.4 686.1L1176.9 685.3L1177.4 690.4L1177.9 685.9L1178.4 685.1L1178.8 684L1179.3 686L1179.8 691L1180.3 681.5L1180.8 689.1L1181.3 689.4L1181.8 686.6L1182.2 685.1L1182.7 685.3L1183.2 691.8L1183.7 690.8L1184.2 689L1184.7 688.4L1185.2 684.4L1185.6 681.2L1186.1 685L1186.6 687.2L1187.1 688.7L1187.6 680.7L1188.1 681.9L1188.6 682.5L1189 689.1L1189.5 686.1L1190 685.7L1190.5 682.1L1191 687.6L1191.5 684.5L1192 683.2L1192.4 682.8L1192.9 683.6L1193.4 690L1193.9 684.2L1194.4 681.8L1194.9 685.4L1195.4 687.8L1195.8 681.1L1196.3 687L1196.8 677.2L1197.3 687.9L1197.8 687.2L1198.3 679.9L1198.8 684.6L1199.2 686.8L1199.7 689.3L1200.2 687.5L1200.7 684.2L1201.2 688.1L1201.7 685.3L1202.2 684.9L1202.7 691.2L1203.1 688.6L1203.6 687.3L1204.1 680.2L1204.6 681.7L1205.1 680L1205.6 688.4L1206.1 686.1L1206.5 687L1207 687.7L1207.5 682.9L1208 679.1L1208.5 682.6L1209 686.7L1209.5 686.2L1209.9 685.2L1210.4 688.6L1210.9 682.5L1211.4 690.9L1211.9 681.7L1212.4 683.3L1212.9 678.4L1213.3 685.5L1213.8 690.6L1214.3 688.8L1214.8 687.5L1215.3 691.1L1215.8 687.1L1216.3 685.1L1216.7 682.2L1217.2 680.7L1217.7 687.8L1218.2 680.9L1218.7 682.8L1219.2 683.6L1219.7 683.6L1220.1 687L1220.6 682.6L1221.1 682.4L1221.6 686.6L1222.1 682.8L1222.6 683.8L1223.1 687.2L1223.5 684.2L1224 682.2L1224.5 688.5L1225 682.5L1225.5 686.4L1226 684.7L1226.5 686.6L1226.9 688L1227.4 687.3L1227.9 683.1L1228.4 685.5L1228.9 683L1229.4 690.3L1229.9 685.3L1230.3 688.5L1230.8 676.7L1231.3 686.7L1231.8 684.6L1232.3 686L1232.8 680.4L1233.3 681.6L1233.7 682.9L1234.2 684.1L1234.7 683.3L1235.2 686.7L1235.7 686.3L1236.2 690L1236.7 680.5L1237.1 680.9L1237.6 687.2L1238.1 683.9L1238.6 681.4L1239.1 684L1239.6 685.3L1240.1 678.8L1240.5 687.2L1241 680.3L1241.5 687.2L1242 686.3L1242.5 679.7L1243 682.6L1243.5 683.3L1244 682L1244.4 680.5L1244.9 680.9L1245.4 685.9L1245.9 682.7L1246.4 678.5L1246.9 682L1247.4 682L1247.8 684.9L1248.3 687.3L1248.8 676.7L1249.3 686.8L1249.8 683L1250.3 685.2L1250.8 686.7L1251.2 682.9L1251.7 683.1L1252.2 687.8L1252.7 687.1L1253.2 686.1L1253.7 687.3L1254.2 683.3L1254.6 681.9L1255.1 684.2L1255.6 684.1L1256.1 689.7L1256.6 679.2L1257.1 675.9L1257.6 683L1258 684.3L1258.5 679.9L1259 689.6L1259.5 685.6L1260 679.7L1260.5 683.2L1261 682.6L1261.4 686.8L1261.9 683.8L1262.4 691.1L1262.9 684.8L1263.4 680.8L1263.9 684.9L1264.4 685.7L1264.8 689.5L1265.3 684.5L1265.8 678.8L1266.3 677.6L1266.8 689.9L1267.3 681.9L1267.8 681.2L1268.2 684.2L1268.7 685.5L1269.2 686.9L1269.7 687.9L1270.2 684.5L1270.7 678.7L1271.2 685.8L1271.6 677L1272.1 683.6L1272.6 687.2L1273.1 685.7L1273.6 675.3L1274.1 683.2L1274.6 680.1L1275 672.4L1275.5 679.2L1276 678.9L1276.5 675.9L1277 676.9L1277.5 682.5L1278 680L1278.4 680.6L1278.9 673.3L1279.4 680.6L1279.9 684.4L1280.4 678.3L1280.9 674.3L1281.4 672.4L1281.8 674.8L1282.3 669.6L1282.8 675.6L1283.3 671.9L1283.8 672.9L1284.3 670.9L1284.8 670.2L1285.2 666.8L1285.7 671.3L1286.2 663.8L1286.7 668.7L1287.2 669.2L1287.7 674.4L1288.2 674.4L1288.7 669.6L1289.1 673.7L1289.6 668.7L1290.1 668.4L1290.6 669.9L1291.1 673.6L1291.6 671.7L1292.1 666.7L1292.5 676.1L1293 674.8L1293.5 676.1L1294 676L1294.5 673.3L1295 678.5L1295.5 676.8L1295.9 677.8L1296.4 676.7L1296.9 683.4L1297.4 679.3L1297.9 684.2L1298.4 682.1L1298.9 674.9L1299.3 681.8L1299.8 683.3L1300.3 679.8L1300.8 676.5L1301.3 684.8L1301.8 681.3L1302.3 677.9L1302.7 684.9L1303.2 684.5L1303.7 689.8L1304.2 682.1L1304.7 684L1305.2 682.5L1305.7 686.2L1306.1 682.5L1306.6 680.4L1307.1 681.8L1307.6 681.4L1308.1 687.6L1308.6 686.5L1309.1 687.1L1309.5 679.7L1310 685.9L1310.5 683.1L1311 679.8L1311.5 689L1312 682.6L1312.5 686.2L1312.9 688.3L1313.4 678.2L1313.9 677.4L1314.4 686.5L1314.9 679.3L1315.4 686.3L1315.9 678.2L1316.3 679.6L1316.8 689L1317.3 687.9L1317.8 684.7L1318.3 685.6L1318.8 679L1319.3 682L1319.7 676.2L1320.2 689.4L1320.7 683.9L1321.2 676.7L1321.7 680.9L1322.2 689.4L1322.7 685.7L1323.1 685.8L1323.6 684.2L1324.1 680.8L1324.6 676.9L1325.1 684.9L1325.6 683.9L1326.1 686.4L1326.5 683.4L1327 682.1L1327.5 680.3L1328 680.7L1328.5 684.8L1329 690.8L1329.5 681.1L1330 686.2L1330.4 688.1L1330.9 680.7L1331.4 685.1L1331.9 684.4L1332.4 684.9L1332.9 685.8L1333.4 684.4L1333.8 684.3L1334.3 676.7L1334.8 684.8L1335.3 688L1335.8 686.4L1336.3 689.7L1336.8 691.7L1337.2 687.1L1337.7 678.9L1338.2 688.5L1338.7 688.2L1339.2 682.3L1339.7 680.7L1340.2 683.1L1340.6 688.2L1341.1 683.6L1341.6 686.1L1342.1 681.5L1342.6 679.4L1343.1 681.2L1343.6 682.9L1344 680L1344.5 679.5L1345 680.2L1345.5 685.2L1346 691.1L1346.5 687.3L1347 684.3L1347.4 676.4L1347.9 686.5L1348.4 680.6L1348.9 678L1349.4 677L1349.9 681.8L1350.4 677.2L1350.8 680.6L1351.3 686.4L1351.8 686.2L1352.3 680.6L1352.8 677L1353.3 679.2L1353.8 685.9L1354.2 684.5L1354.7 687L1355.2 677.1L1355.7 684.2L1356.2 687.3L1356.7 683L1357.2 680.6L1357.6 681L1358.1 678.6L1358.6 674.7L1359.1 685.1L1359.6 675.8L1360.1 681.5L1360.6 677.5L1361 675.5L1361.5 683.2L1362 675.9L1362.5 670.1L1363 680.1L1363.5 681.7L1364 681.4L1364.4 678.1L1364.9 679.9L1365.4 672.4L1365.9 675.4L1366.4 672.4L1366.9 665.5L1367.4 670L1367.8 668.3L1368.3 662.1L1368.8 656.1L1369.3 658.7L1369.8 657L1370.3 651.8L1370.8 651.9L1371.3 649.7L1371.7 648.2L1372.2 643.6L1372.7 642.5L1373.2 631.5L1373.7 636.6L1374.2 629.9L1374.7 622.6L1375.1 629.3L1375.6 626.9L1376.1 626.9L1376.6 635.1L1377.1 637.3L1377.6 638.7L1378.1 639.2L1378.5 638.4L1379 642.3L1379.5 636.3L1380 647.5L1380.5 648.5L1381 660.6L1381.5 650.7L1381.9 659.7L1382.4 661.7L1382.9 673.3L1383.4 663.6L1383.9 669L1384.4 667.6L1384.9 671.8L1385.3 670.8L1385.8 676L1386.3 671.8L1386.8 681.6L1387.3 678.7L1387.8 680.7L1388.3 680.2L1388.7 680.8L1389.2 679.9L1389.7 677.6L1390.2 680.1L1390.7 675.4L1391.2 682.6L1391.7 678.7L1392.1 677.2L1392.6 677.7L1393.1 675.5L1393.6 683.9L1394.1 677L1394.6 680.9L1395.1 682.3L1395.5 683.3L1396 684L1396.5 677.9L1397 677.8L1397.5 681.8L1398 683L1398.5 677.2L1398.9 683.2L1399.4 684.2L1399.9 683L1400.4 680L1400.9 683.9L1401.4 682.9L1401.9 673.2L1402.3 686.7L1402.8 680.8L1403.3 687.8L1403.8 679.9L1404.3 680L1404.8 674.9L1405.3 684L1405.7 681.4L1406.2 682.1L1406.7 678.6L1407.2 678.8L1407.7 678.8L1408.2 676.4L1408.7 679.5L1409.1 683L1409.6 682.9L1410.1 677.5L1410.6 681L1411.1 681.6L1411.6 677.6L1412.1 685.3L1412.6 683.4L1413 677.7L1413.5 686.2L1414 677L1414.5 684.4L1415 683.7L1415.5 675.6L1416 683.5L1416.4 685.5L1416.9 677.1L1417.4 680.2L1417.9 679.8L1418.4 678L1418.9 681.3L1419.4 676.8L1419.8 680.5L1420.3 680.3L1420.8 674.8L1421.3 681.4L1421.8 678.5L1422.3 678.5L1422.8 683.3L1423.2 679L1423.7 677.2L1424.2 680.5L1424.7 681.3L1425.2 681.7L1425.7 677.1L1426.2 679.8L1426.6 680.9L1427.1 673.1L1427.6 687.4L1428.1 680.1L1428.6 686.5L1429.1 680.6L1429.6 672.8L1430 679.2L1430.5 682.5L1431 676.9L1431.5 678.9L1432 679.7L1432.5 680.3L1433 680.8L1433.4 686.7L1433.9 680.2L1434.4 678.3L1434.9 680.3L1435.4 677.6L1435.9 680.7L1436.4 681.2L1436.8 680.2L1437.3 682.1L1437.8 680.6L1438.3 680.2L1438.8 684.2L1439.3 675.5L1439.8 678.9L1440.2 681L1440.7 681L1441.2 685.8L1441.7 686.8L1442.2 683.1L1442.7 677.5L1443.2 682.4L1443.6 676.6L1444.1 679.4L1444.6 677.4L1445.1 674.1L1445.6 675.2L1446.1 682.2L1446.6 681.5L1447 673.4L1447.5 678.8L1448 679.2L1448.5 681L1449 679.6L1449.5 680.5L1450 677.7L1450.4 682.9L1450.9 681.3L1451.4 673.5L1451.9 674L1452.4 679.6L1452.9 680.7L1453.4 677.1L1453.9 675.3L1454.3 680.3L1454.8 675.2L1455.3 678.5L1455.8 677L1456.3 678.8L1456.8 672.2L1457.3 677.4L1457.7 681.9L1458.2 678.7L1458.7 675.1L1459.2 687.4L1459.7 677L1460.2 673.4L1460.7 673.9L1461.1 676L1461.6 678.4L1462.1 670.1L1462.6 677.7L1463.1 683.2L1463.6 676.4L1464.1 681.8L1464.5 682.7L1465 678.6L1465.5 678.6L1466 680.5L1466.5 675.9L1467 678L1467.5 682.5L1467.9 672.2L1468.4 677.4L1468.9 677.3L1469.4 684.1L1469.9 680.5L1470.4 677.8L1470.9 680.5L1471.3 673L1471.8 678.3L1472.3 673.2L1472.8 676.4L1473.3 673.9L1473.8 679.1L1474.3 684L1474.7 681.5L1475.2 676.6L1475.7 671L1476.2 682.3L1476.7 677.1L1477.2 674.2L1477.7 675.7L1478.1 680.5L1478.6 682.8L1479.1 676.7L1479.6 675.5L1480.1 676.5L1480.6 676.2L1481.1 670.9L1481.5 671.9L1482 672.4L1482.5 675.1L1483 678.6L1483.5 672.4L1484 677.6L1484.5 680.1L1484.9 670L1485.4 675.7L1485.9 673.9L1486.4 678.4L1486.9 677.3L1487.4 674.5L1487.9 682.1L1488.3 674.2L1488.8 676.1L1489.3 679.4L1489.8 681.9L1490.3 674L1490.8 683.7L1491.3 679.6L1491.7 673.1L1492.2 669.8L1492.7 682.2L1493.2 674.6L1493.7 674.8L1494.2 676.2L1494.7 672.6L1495.2 678.7L1495.6 669.4L1496.1 673.8L1496.6 670.2L1497.1 671.5L1497.6 676.9L1498.1 671.6L1498.6 677.1L1499 671.8L1499.5 677.4L1500 667.5L1500.5 671.5L1501 678L1501.5 674.1L1502 672.1L1502.4 674.8L1502.9 671.8L1503.4 671.5L1503.9 671.8L1504.4 664.7L1504.9 670.6L1505.4 676.3L1505.8 671L1506.3 664.7L1506.8 672.3L1507.3 659.7L1507.8 661.1L1508.3 667.7L1508.8 664.2L1509.2 661.6L1509.7 661.7L1510.2 659.5L1510.7 652.6L1511.2 649.2L1511.7 645.3L1512.2 646.1L1512.6 646.2L1513.1 642.6L1513.6 632.4L1514.1 632.9L1514.6 635L1515.1 618.8L1515.6 624.8L1516 624.7L1516.5 622.5L1517 611L1517.5 620.4L1518 618.9L1518.5 617L1519 622.6L1519.4 624.6L1519.9 623.6L1520.4 625.1L1520.9 630.2L1521.4 639.7L1521.9 637L1522.4 637.3L1522.8 643.7L1523.3 643.9L1523.8 650.9L1524.3 657.9L1524.8 656.3L1525.3 657.9L1525.8 661.1L1526.2 658.9L1526.7 661.8L1527.2 662.5L1527.7 667.9L1528.2 668.2L1528.7 669.1L1529.2 678.1L1529.6 673.2L1530.1 676.3L1530.6 673L1531.1 666.1L1531.6 676L1532.1 667.7L1532.6 673.8L1533 666.6L1533.5 672.8L1534 674.7L1534.5 683.8L1535 674L1535.5 678.8L1536 674.6L1536.4 677.2L1536.9 672.6L1537.4 677L1537.9 673.2L1538.4 673.9L1538.9 675.4L1539.4 676.7L1539.9 681.3L1540.3 681.8L1540.8 673.5L1541.3 671.5L1541.8 678L1542.3 679.2L1542.8 675.9L1543.3 678.5L1543.7 678.8L1544.2 673.9L1544.7 671.4L1545.2 681.9L1545.7 681.5L1546.2 673.4L1546.7 677.7L1547.1 675.5L1547.6 676.5L1548.1 674.2L1548.6 671.5L1549.1 673.6L1549.6 681.4L1550.1 677.2L1550.5 673.3L1551 683L1551.5 674L1552 677.8L1552.5 670.8L1553 678L1553.5 679.9L1553.9 673.8L1554.4 676.7L1554.9 672.2L1555.4 678.9L1555.9 680.5L1556.4 678.2L1556.9 677.3L1557.3 680.3L1557.8 678.9L1558.3 682.2L1558.8 679.9L1559.3 682.6L1559.8 672.4L1560.3 677.3L1560.7 671.1L1561.2 676.4L1561.7 679.5L1562.2 680.1L1562.7 675.8L1563.2 678.3L1563.7 676L1564.1 677.5L1564.6 682.9L1565.1 681.2L1565.6 679.3L1566.1 681.2L1566.6 679.5L1567.1 673.1L1567.5 677.8L1568 679.7L1568.5 676.2L1569 679.5L1569.5 676.4L1570 683.1L1570.5 676.5L1570.9 683L1571.4 680.3L1571.9 675.9L1572.4 679.5L1572.9 680.4L1573.4 674.5L1573.9 679.2L1574.3 679.9L1574.8 674.3L1575.3 678.6L1575.8 677.2L1576.3 673.2L1576.8 678.1L1577.3 686.1L1577.7 676L1578.2 678.9L1578.7 672.8L1579.2 682.4L1579.7 678.2L1580.2 680.6L1580.7 678.1L1581.2 680.7L1581.6 676.7L1582.1 681L1582.6 680.5L1583.1 680.9L1583.6 674.5L1584.1 678.7L1584.6 677.6L1585 684.8L1585.5 682.2L1586 677L1586.5 676.3L1587 678.8L1587.5 675.2L1588 675.8L1588.4 676.3L1588.9 674.4L1589.4 684.1L1589.9 672.4L1590.4 676L1590.9 685.6L1591.4 677.4L1591.8 678.8L1592.3 680.2L1592.8 672.1L1593.3 677.7L1593.8 680.4L1594.3 670.6L1594.8 685.3L1595.2 683.1L1595.7 673.9L1596.2 676.7L1596.7 681.8L1597.2 676.6L1597.7 677.8L1598.2 680.5L1598.6 672.2L1599.1 681.2L1599.6 681.4L1600.1 679.4L1600.6 677.7L1601.1 682L1601.6 676.2L1602 679.2L1602.5 677L1603 671.9L1603.5 678.7L1604 677.7L1604.5 677.3L1605 678.4L1605.4 675.4L1605.9 674.3L1606.4 676.7L1606.9 679.1L1607.4 674.2L1607.9 679.9L1608.4 673.9L1608.8 675.8L1609.3 677.3L1609.8 674.2L1610.3 677.9L1610.8 672.1L1611.3 677.6L1611.8 674L1612.2 679.8L1612.7 674.6L1613.2 679.8L1613.7 675.4L1614.2 681.2L1614.7 677.2L1615.2 679.9L1615.6 678.3L1616.1 678.8L1616.6 678.2L1617.1 674.2L1617.6 678.8L1618.1 678.5L1618.6 676.8L1619 682.9L1619.5 675.7L1620 681.8L1620.5 674.4L1621 678.1L1621.5 673L1622 682.4L1622.5 679.9L1622.9 674.5L1623.4 682.9L1623.9 681.2L1624.4 678.9L1624.9 680L1625.4 675.6L1625.9 682.2L1626.3 670.1L1626.8 679.4L1627.3 676.2L1627.8 676.3L1628.3 675.9L1628.8 677L1629.3 679.5L1629.7 679.3L1630.2 680.4L1630.7 680.8L1631.2 681.5L1631.7 673.8L1632.2 676.1L1632.7 684.1L1633.1 678.3L1633.6 684.3L1634.1 675.1L1634.6 675.7L1635.1 679.5L1635.6 675.8L1636.1 680.7L1636.5 676.9L1637 679.3L1637.5 671.6L1638 681.2L1638.5 677.7L1639 673.3L1639.5 676.2L1639.9 674.7L1640.4 678.8L1640.9 678.2L1641.4 679.6L1641.9 676.5L1642.4 672.4L1642.9 679.1L1643.3 673.4L1643.8 686.4L1644.3 673.6L1644.8 678.8L1645.3 683.4L1645.8 676.7L1646.3 685.4L1646.7 679.1L1647.2 673.1L1647.7 678L1648.2 676.9L1648.7 678.9L1649.2 681.3L1649.7 675.9L1650.1 679.5L1650.6 673.7L1651.1 674.8L1651.6 676.9L1652.1 679.6L1652.6 672.8L1653.1 675.8L1653.5 680.5L1654 676.6L1654.5 675.1L1655 679.5L1655.5 676.4L1656 676.1L1656.5 676.9L1656.9 681.6L1657.4 679.9L1657.9 683.5L1658.4 677.9L1658.9 675.8L1659.4 673.6L1659.9 677.4L1660.3 677.7L1660.8 673.6L1661.3 682.9L1661.8 679.5L1662.3 671.9L1662.8 679L1663.3 676.8L1663.8 677.8L1664.2 680.3L1664.7 673.4L1665.2 676.4L1665.7 683.3L1666.2 680.7L1666.7 681.4L1667.2 675.5L1667.6 674.9L1668.1 671.9L1668.6 677.9L1669.1 684.3L1669.6 674.4L1670.1 679.7L1670.6 675.9L1671 677.2L1671.5 682.9L1672 676.6L1672.5 679.6L1673 672.8L1673.5 671.2L1674 676.1L1674.4 676.6L1674.9 680.2L1675.4 678.5L1675.9 670.8L1676.4 684L1676.9 676.5L1677.4 678.4L1677.8 679.8L1678.3 676.5L1678.8 678.3L1679.3 677.4L1679.8 678.7L1680.3 673.3L1680.8 668.7L1681.2 675.9L1681.7 677.5L1682.2 679.5L1682.7 684.3L1683.2 678.4L1683.7 682.2L1684.2 670.2L1684.6 673.6L1685.1 676.3L1685.6 675L1686.1 676.4L1686.6 670.7L1687.1 679L1687.6 673.9L1688 677.7L1688.5 678.6L1689 672.2L1689.5 675.8L1690 675.3L1690.5 673.9L1691 671.6L1691.4 673.8L1691.9 678.3L1692.4 675.7L1692.9 677.7L1693.4 678.6L1693.9 673.1L1694.4 674.4L1694.8 679.8L1695.3 677.3L1695.8 674.3L1696.3 673.6L1696.8 675.1L1697.3 671.2L1697.8 673.8L1698.2 672.3L1698.7 677.7L1699.2 678.6L1699.7 673.8L1700.2 682.4L1700.7 672L1701.2 674.3L1701.6 673.9L1702.1 677.1L1702.6 675.5L1703.1 678.3L1703.6 677.8L1704.1 677.8L1704.6 680.2L1705.1 675.8L1705.5 674.5L1706 675.3L1706.5 674.5L1707 671.9L1707.5 677L1708 672.1L1708.5 676.7L1708.9 676.9L1709.4 672.1L1709.9 674.9L1710.4 672.4L1710.9 678.3L1711.4 672.3L1711.9 676.6L1712.3 671.3L1712.8 673.6L1713.3 684.9L1713.8 674.5L1714.3 671.2L1714.8 673L1715.3 673.9L1715.7 673.9L1716.2 673.1L1716.7 678.5L1717.2 678.2L1717.7 675L1718.2 681.4L1718.7 675.8L1719.1 671.5L1719.6 675.4L1720.1 676.5L1720.6 678L1721.1 667.7L1721.6 673.7L1722.1 676.3L1722.5 678.3L1723 677.3L1723.5 680.7L1724 674.9L1724.5 679L1725 672.4L1725.5 678.5L1725.9 672.4L1726.4 678.5L1726.9 676.4L1727.4 671.7L1727.9 678.5L1728.4 672.9L1728.9 673.6L1729.3 673.6L1729.8 675.6L1730.3 681.7L1730.8 676L1731.3 679.3L1731.8 681.5L1732.3 673.6L1732.7 677.8L1733.2 677.2L1733.7 672.9L1734.2 673.1L1734.7 671.4L1735.2 676.5L1735.7 672.8L1736.1 674.3L1736.6 677.5L1737.1 675.4L1737.6 682.2L1738.1 677.4L1738.6 677L1739.1 668.2L1739.5 673.8L1740 674.7L1740.5 674L1741 678.2L1741.5 676.8L1742 668L1742.5 673.2L1742.9 676.2L1743.4 672L1743.9 673.1L1744.4 672L1744.9 677.7L1745.4 678.3L1745.9 678.1L1746.4 675.3L1746.8 670.1L1747.3 676.6L1747.8 679.5L1748.3 681.2L1748.8 674.5L1749.3 674L1749.8 674.3L1750.2 676.3L1750.7 673L1751.2 678.6L1751.7 678.8L1752.2 675.9L1752.7 669.3L1753.2 679.1L1753.6 676.8L1754.1 671.3L1754.6 681.5L1755.1 675.1L1755.6 674.8L1756.1 676.7L1756.6 671.2L1757 675.8L1757.5 675.4L1758 675.3L1758.5 671.9L1759 677.5L1759.5 678.6L1760 672.8L1760.4 675.5L1760.9 675.8L1761.4 675.6L1761.9 671.8L1762.4 672.8L1762.9 675.8L1763.4 673.7L1763.8 678.3L1764.3 674.9L1764.8 677.8L1765.3 674.5L1765.8 677.9L1766.3 679.9L1766.8 667.7L1767.2 679L1767.7 674.8L1768.2 676.1L1768.7 676.7L1769.2 670L1769.7 677.2L1770.2 669.3L1770.6 672.6L1771.1 670.2L1771.6 672.7L1772.1 680.7L1772.6 675L1773.1 677L1773.6 674.3L1774 672.7L1774.5 675.8L1775 679.6L1775.5 668.7L1776 679L1776.5 678.1L1777 669.5L1777.4 673.8L1777.9 678.7L1778.4 680.5L1778.9 680.1L1779.4 674.1L1779.9 678.9L1780.4 677.6L1780.8 671.4L1781.3 672.2L1781.8 668.7L1782.3 676.1L1782.8 671.3L1783.3 677.3L1783.8 670L1784.2 675.6L1784.7 673.9L1785.2 672L1785.7 674.3L1786.2 676.3L1786.7 671.4L1787.2 676.2L1787.6 674.4L1788.1 674.6L1788.6 677.3L1789.1 672.8L1789.6 671.8L1790.1 673L1790.6 678.1L1791.1 675.2L1791.5 673.3L1792 670.8L1792.5 671.8L1793 674L1793.5 674.5L1794 675.6L1794.5 674.5L1794.9 676.7L1795.4 671.8L1795.9 668.4L1796.4 671.6L1796.9 675.3L1797.4 675L1797.9 673.2L1798.3 672.9L1798.8 669.4L1799.3 674.7L1799.8 674.1L1800.3 668.4L1800.8 673.3L1801.3 671.1L1801.7 665.3L1802.2 670.2L1802.7 664.6L1803.2 671.7L1803.7 668.9L1804.2 664.4L1804.7 669.2L1805.1 665.4L1805.6 671.5L1806.1 668.5L1806.6 665.7L1807.1 669.2L1807.6 662.9L1808.1 667.4L1808.5 665.6L1809 665L1809.5 656.9L1810 660.9L1810.5 660.6L1811 660.8L1811.5 662.8L1811.9 658.9L1812.4 656.4L1812.9 664.7L1813.4 664.5L1813.9 657.4L1814.4 664.2L1814.9 663.5L1815.3 666.1L1815.8 662.6L1816.3 665.4L1816.8 662.5L1817.3 666.9L1817.8 667.3L1818.3 666.8L1818.7 673.3L1819.2 670.9L1819.7 668.5L1820.2 669L1820.7 675.8L1821.2 667.6L1821.7 667.8L1822.1 669.1L1822.6 667.8L1823.1 671L1823.6 670.9L1824.1 669.2L1824.6 672.6L1825.1 675.2L1825.5 668.1L1826 675.5L1826.5 668.1L1827 669.2L1827.5 667.1L1828 670.9L1828.5 673.4L1828.9 671.9L1829.4 677.4L1829.9 670L1830.4 670.3L1830.9 664.2L1831.4 674.9L1831.9 662.5L1832.4 669.9L1832.8 670.1L1833.3 669.9L1833.8 665L1834.3 662.2L1834.8 670.8L1835.3 663.8L1835.8 668.4L1836.2 664.5L1836.7 665.9L1837.2 665.3L1837.7 667.3L1838.2 667.3L1838.7 671.5L1839.2 664.2L1839.6 665.7L1840.1 674.1L1840.6 663.2L1841.1 669L1841.6 672.4L1842.1 666.3L1842.6 667.6L1843 673.6L1843.5 660.7L1844 673.5L1844.5 664.6L1845 668.2L1845.5 675.1L1846 672L1846.4 675.4L1846.9 680.1L1847.4 665.1L1847.9 677.3L1848.4 670.8L1848.9 671.8L1849.4 671L1849.8 674.1L1850.3 675.9L1850.8 670.6L1851.3 674.2L1851.8 675.8L1852.3 676.5L1852.8 678.8L1853.2 673.7L1853.7 673.8L1854.2 678.2L1854.7 676.3L1855.2 672.9L1855.7 674.1L1856.2 673.9L1856.6 677.5L1857.1 668.6L1857.6 672L1858.1 675.2L1858.6 673.3L1859.1 673.8L1859.6 675.9L1860 674.1L1860.5 673.7L1861 676.9L1861.5 673.2L1862 671.6L1862.5 682.9L1863 679.8L1863.4 677.4L1863.9 675.1L1864.4 675.4L1864.9 680.8L1865.4 678.4L1865.9 673.6L1866.4 672.4L1866.8 677.1L1867.3 676.2L1867.8 668.8L1868.3 681.7L1868.8 680.4L1869.3 672.4L1869.8 669.3L1870.2 680.6L1870.7 673.7L1871.2 674.2L1871.7 678.1L1872.2 672.1L1872.7 676.1L1873.2 677.8L1873.7 671.7L1874.1 674.2L1874.6 675.7L1875.1 675.9L1875.6 677.3L1876.1 677.6"/>
<path stroke="#00B852" d="M175.5 475.9L176 469.6L176.5 468.9L177 462.4L177.4 470.4L177.9 469.4L178.4 468.7L178.9 471.4L179.4 471.7L179.9 467.1L180.4 467.6L180.8 468.9L181.3 472.5L181.8 472L182.3 466.2L182.8 466.8L183.3 472.5L183.8 475.1L184.2 470.1L184.7 468.1L185.2 473.6L185.7 469.2L186.2 472.4L186.7 475L187.2 472.1L187.6 470.4L188.1 472.4L188.6 468.1L189.1 469.6L189.6 468.3L190.1 469.4L190.6 468.6L191 469.5L191.5 468.9L192 470.3L192.5 470.2L193 470.9L193.5 474.3L194 465.2L194.4 474L194.9 469.2L195.4 466.1L195.9 469.4L196.4 470.2L196.9 473.2L197.4 466.6L197.9 470.5L198.3 470.2L198.8 464.6L199.3 466.2L199.8 471.7L200.3 472L200.8 473.2L201.3 471.4L201.7 471L202.2 470.1L202.7 473.5L203.2 467.1L203.7 469.3L204.2 470.9L204.7 464.8L205.1 473.7L205.6 467.2L206.1 469.4L206.6 476.3L207.1 467.1L207.6 468L208.1 474.4L208.5 466.2L209 468.2L209.5 471.2L210 471L210.5 471.4L211 470.7L211.5 473.7L211.9 472.6L212.4 471.3L212.9 467.3L213.4 467.2L213.9 463.5L214.4 471.6L214.9 463.8L215.3 472.1L215.8 475.1L216.3 466.1L216.8 467.2L217.3 467.9L217.8 471.9L218.3 466.6L218.7 468.9L219.2 467.7L219.7 468.5L220.2 473.3L220.7 466.3L221.2 469.5L221.7 470.1L222.1 471.9L222.6 465.3L223.1 472.6L223.6 470.5L224.1 471.9L224.6 469.4L225.1 464.1L225.5 467.1L226 471.6L226.5 469.2L227 468.9L227.5 474.6L228 475.9L228.5 468.9L228.9 475L229.4 462.8L229.9 462.7L230.4 471.7L230.9 468.2L231.4 470.8L231.9 470.6L232.3 468.7L232.8 471L233.3 469.4L233.8 464.2L234.3 469.6L234.8 469.5L235.3 474.5L235.7 465.4L236.2 468.9L236.7 467.5L237.2 468.4L237.7 473.9L238.2 470L238.7 467.3L239.2 469.2L239.6 471.1L240.1 465.7L240.6 467.9L241.1 473.5L241.6 471.3L242.1 468.5L242.6 467.2L243 468.2L243.5 463.8L244 471.6L244.5 469.7L245 469L245.5 464.6L246 466.4L246.4 470.2L246.9 469.3L247.4 467L247.9 470.1L248.4 471.4L248.9 466.4L249.4 466.8L249.8 465.8L250.3 464.9L250.8 470.9L251.3 470L251.8 469.5L252.3 464.8L252.8 465.1L253.2 468.2L253.7 467.1L254.2 468.7L254.7 466.2L255.2 470.4L255.7 473.9L256.2 473.1L256.6 473.3L257.1 468.5L257.6 471.1L258.1 467.1L258.6 471.1L259.1 467L259.6 466.7L260 466.2L260.5 470.3L261 469L261.5 468.7L262 464.6L262.5 468.6L263 463.6L263.4 472.7L263.9 467.7L264.4 468.7L264.9 467.7L265.4 463.1L265.9 463.8L266.4 467.9L266.8 472.6L267.3 464.5L267.8 465.8L268.3 467.8L268.8 462.7L269.3 462.7L269.8 466.7L270.2 467.8L270.7 466.7L271.2 472.6L271.7 467.4L272.2 469L272.7 472.8L273.2 473.1L273.6 462.9L274.1 466.6L274.6 471.4L275.1 463.5L275.6 464.9L276.1 463.7L276.6 463.5L277 464.2L277.5 468.3L278 471.6L278.5 472.4L279 467.7L279.5 461.6L280 467.5L280.5 466.6L280.9 468.7L281.4 467.2L281.9 462L282.4 468.9L282.9 461.2L283.4 465.4L283.9 468.5L284.3 468.6L284.8 472.4L285.3 460.2L285.8 468.6L286.3 469.6L286.8 466.5L287.3 469.5L287.7 464.1L288.2 469.5L288.7 469.1L289.2 464.4L289.7 465.4L290.2 466.8L290.7 465.4L291.1 470.6L291.6 467.9L292.1 471.5L292.6 471L293.1 467.6L293.6 466.8L294.1 464.4L294.5 464.8L295 464.8L295.5 468.4L296 464.6L296.5 467.5L297 467.9L297.5 465.7L297.9 466.7L298.4 471.7L298.9 472.2L299.4 464.8L299.9 466.6L300.4 466.1L300.9 466.4L301.3 472L301.8 469.3L302.3 471.1L302.8 472.7L303.3 465.8L303.8 466.6L304.3 467.3L304.7 470.3L305.2 466.8L305.7 469.1L306.2 470.7L306.7 470.7L307.2 468.5L307.7 464.6L308.1 462.2L308.6 470.5L309.1 468.5L309.6 464.1L310.1 465.5L310.6 465.6L311.1 461.8L311.5 467.8L312 464.5L312.5 466.1L313 469.2L313.5 466.7L314 468.6L314.5 468.2L314.9 467L315.4 467.1L315.9 472.7L316.4 466.4L316.9 471.9L317.4 464L317.9 469.1L318.3 467.4L318.8 464.6L319.3 458.8L319.8 471.8L320.3 463.2L320.8 463.8L321.3 467.2L321.7 467L322.2 467.6L322.7 466L323.2 462.1L323.7 469.4L324.2 463.9L324.7 467.4L325.2 468.5L325.6 470.4L326.1 466L326.6 465.7L327.1 465.9L327.6 460.9L328.1 464.3L328.6 463.5L329 463.1L329.5 467.1L330 465.6L330.5 471.5L331 471.2L331.5 460.7L332 466.9L332.4 463.4L332.9 468.3L333.4 467L333.9 469.4L334.4 467.5L334.9 468.9L335.4 465.6L335.8 458.7L336.3 462.8L336.8 463.8L337.3 464.9L337.8 463.3L338.3 471.5L338.8 465.9L339.2 470.4L339.7 465.3L340.2 471.5L340.7 462.6L341.2 468.2L341.7 462.2L342.2 467.7L342.6 471.2L343.1 461.2L343.6 463.6L344.1 467L344.6 465.7L345.1 462L345.6 469.8L346 466.4L346.5 470.2L347 467.2L347.5 462.6L348 464.7L348.5 470.5L349 461.9L349.4 464.7L349.9 468L350.4 469.3L350.9 468.7L351.4 461.6L351.9 472.6L352.4 465.7L352.8 466.2L353.3 466.2L353.8 465.4L354.3 463.2L354.8 465.1L355.3 470.3L355.8 461.9L356.2 458.6L356.7 467.8L357.2 467.2L357.7 468.4L358.2 471.5L358.7 463.9L359.2 466.7L359.6 467.7L360.1 469.9L360.6 469.3L361.1 463.5L361.6 461.8L362.1 465.2L362.6 461.1L363 469.5L363.5 464.9L364 465L364.5 463.3L365 470.8L365.5 466.9L366 464.8L366.5 467.9L366.9 465.8L367.4 467.8L367.9 470.1L368.4 465.2L368.9 467.6L369.4 467.4L369.9 469.5L370.3 467.8L370.8 466L371.3 463.9L371.8 466.8L372.3 462.6L372.8 467.9L373.3 466L373.7 467.5L374.2 464.2L374.7 463.3L375.2 462.9L375.7 469.1L376.2 465L376.7 464.9L377.1 460.1L377.6 465.4L378.1 457.5L378.6 469.7L379.1 464.7L379.6 465.5L380.1 460.9L380.5 461.9L381 467.1L381.5 464.5L382 466.3L382.5 468.9L383 466.9L383.5 458.8L383.9 461.5L384.4 460.8L384.9 461.3L385.4 457.5L385.9 457.2L386.4 460.9L386.9 460.8L387.3 463.6L387.8 460.1L388.3 464.3L388.8 452.5L389.3 451.7L389.8 453.9L390.3 448.8L390.7 442.3L391.2 442.8L391.7 438.3L392.2 433.3L392.7 422.5L393.2 419L393.7 416.4L394.1 414.7L394.6 418.9L395.1 417.5L395.6 424.9L396.1 422.4L396.6 437.3L397.1 445.5L397.5 445.3L398 452.8L398.5 448L399 454.9L399.5 453.4L400 460.8L400.5 462.7L400.9 457.8L401.4 460.1L401.9 461.4L402.4 471.1L402.9 463.7L403.4 464.5L403.9 465.5L404.3 465.4L404.8 463.9L405.3 460.7L405.8 462.8L406.3 470.1L406.8 465.9L407.3 464L407.8 461.1L408.2 465.1L408.7 465.5L409.2 463.4L409.7 468.2L410.2 463.7L410.7 465.1L411.2 468.2L411.6 466.3L412.1 469.2L412.6 465L413.1 464.4L413.6 467.2L414.1 466.5L414.6 469.5L415 467.1L415.5 465.8L416 467.3L416.5 467.9L417 462.4L417.5 465.5L418 464.9L418.4 469.7L418.9 464.5L419.4 469.3L419.9 462.1L420.4 465.8L420.9 469.3L421.4 465.2L421.8 469.6L422.3 459.7L422.8 466.1L423.3 466.5L423.8 465.7L424.3 461.4L424.8 468.1L425.2 458.9L425.7 469L426.2 467L426.7 469.2L427.2 465.3L427.7 462.7L428.2 464.5L428.6 464.7L429.1 468L429.6 465.2L430.1 467.4L430.6 467.6L431.1 470.5L431.6 460L432 464.9L432.5 468.3L433 468.3L433.5 464.4L434 465.4L434.5 465.9L435 466.6L435.4 464.4L435.9 464.2L436.4 462.7L436.9 465L437.4 470.5L437.9 463.3L438.4 469.2L438.8 472.2L439.3 466.9L439.8 473.5L440.3 465.8L440.8 471.4L441.3 466.1L441.8 462.5L442.2 467.3L442.7 472.1L443.2 464.4L443.7 467.8L444.2 463.2L444.7 463.5L445.2 467.7L445.6 465.7L446.1 468L446.6 470.2L447.1 462.6L447.6 464.2L448.1 466.4L448.6 473.5L449.1 465.3L449.5 464.8L450 467.7L450.5 472.9L451 464.5L451.5 465.4L452 466.5L452.5 468.7L452.9 473.1L453.4 462.5L453.9 461.2L454.4 466.9L454.9 468L455.4 459.5L455.9 464.5L456.3 469.4L456.8 464.8L457.3 467.9L457.8 467L458.3 468.4L458.8 467.8L459.3 467.2L459.7 470.3L460.2 464.7L460.7 466.8L461.2 469.9L461.7 464.7L462.2 465.3L462.7 464.1L463.1 463.5L463.6 472.7L464.1 467.9L464.6 472.3L465.1 468.7L465.6 466.7L466.1 465.6L466.5 467.3L467 466.3L467.5 469.3L468 463.8L468.5 467L469 467.9L469.5 465.7L469.9 465.7L470.4 468.2L470.9 468.2L471.4 466.1L471.9 466.4L472.4 464.7L472.9 468.2L473.3 466.1L473.8 461.6L474.3 465.5L474.8 468.3L475.3 467.3L475.8 463.7L476.3 468.7L476.7 468.3L477.2 468.3L477.7 471.1L478.2 465.3L478.7 468.2L479.2 465.5L479.7 469.4L480.1 469.9L480.6 467.8L481.1 468.6L481.6 463.8L482.1 468.2L482.6 462.6L483.1 473L483.5 469.8L484 461.5L484.5 458L485 470.3L485.5 463.6L486 467.9L486.5 462.2L486.9 466.4L487.4 464.2L487.9 468L488.4 465.1L488.9 470.8L489.4 463.8L489.9 470.1L490.4 466.1L490.8 467.7L491.3 461.2L491.8 460.7L492.3 469.4L492.8 462.3L493.3 465.1L493.8 465.1L494.2 463.3L494.7 466.7L495.2 461.7L495.7 462.4L496.2 468.9L496.7 463.6L497.2 468.4L497.6 468.1L498.1 470.8L498.6 467.5L499.1 460.4L499.6 464L500.1 464.8L500.6 469.8L501 467.1L501.5 464.5L502 467.4L502.5 464.9L503 467.7L503.5 466.5L504 469.4L504.4 467L504.9 469.1L505.4 465.9L505.9 468.2L506.4 465.5L506.9 467.9L507.4 466.6L507.8 465.6L508.3 464.6L508.8 465.1L509.3 467.4L509.8 458.8L510.3 469.8L510.8 458.6L511.2 465.3L511.7 464.9L512.2 468.2L512.7 466.6L513.2 465.7L513.7 466.1L514.2 468.8L514.6 473.1L515.1 467L515.6 459.5L516.1 464.5L516.6 467.1L517.1 473.9L517.6 463.4L518 464.7L518.5 467.5L519 466.8L519.5 461.7L520 468.7L520.5 461.7L521 464.9L521.4 469.9L521.9 461.7L522.4 464.7L522.9 470.9L523.4 464.9L523.9 462.5L524.4 463.9L524.8 468.3L525.3 460.9L525.8 463.7L526.3 461.2L526.8 462.1L527.3 469.7L527.8 465.4L528.2 464.3L528.7 467L529.2 463.4L529.7 461.9L530.2 469.2L530.7 468.4L531.2 463L531.7 467.8L532.1 470.2L532.6 467.1L533.1 467.2L533.6 461.8L534.1 465.2L534.6 459.8L535.1 469L535.5 465L536 469.7L536.5 463.2L537 468.3L537.5 460.6L538 464.3L538.5 467.2L538.9 466.6L539.4 465.3L539.9 460.4L540.4 469.6L540.9 467.6L541.4 469.1L541.9 469L542.3 464.3L542.8 466.7L543.3 473.5L543.8 462.9L544.3 466.7L544.8 463.7L545.3 470.9L545.7 466L546.2 462.2L546.7 463.5L547.2 461L547.7 458.3L548.2 457.4L548.7 463.1L549.1 461.9L549.6 465.9L550.1 462.8L550.6 466.1L551.1 470.9L551.6 461.7L552.1 461.6L552.5 468.4L553 472.7L553.5 462.6L554 460L554.5 464.4L555 464L555.5 467.5L555.9 462L556.4 464.5L556.9 464.3L557.4 460.3L557.9 460.3L558.4 466.7L558.9 467L559.3 462.8L559.8 470.2L560.3 468.2L560.8 466.7L561.3 467.2L561.8 466.3L562.3 467.5L562.7 467.9L563.2 465.4L563.7 458.7L564.2 464.7L564.7 462.6L565.2 461.4L565.7 467.1L566.1 459.5L566.6 467.8L567.1 463.1L567.6 461.3L568.1 462.4L568.6 472.5L569.1 469.8L569.5 464.2L570 468.5L570.5 470.7L571 462.3L571.5 464.2L572 468L572.5 466.3L572.9 463.9L573.4 470.2L573.9 466.7L574.4 467.6L574.9 472.6L575.4 466.6L575.9 473.1L576.4 466L576.8 464.5L577.3 465.4L577.8 467.8L578.3 467.1L578.8 466.2L579.3 460.3L579.8 461.5L580.2 464.1L580.7 467.3L581.2 469.5L581.7 457.3L582.2 464.5L582.7 463.5L583.2 464.6L583.6 465.6L584.1 462.2L584.6 460.7L585.1 468.1L585.6 467.3L586.1 463.5L586.6 464.4L587 462.6L587.5 460.3L588 466.8L588.5 462.6L589 461.1L589.5 462.7L590 469.8L590.4 466L590.9 465.3L591.4 464.8L591.9 467.2L592.4 466.8L592.9 460.3L593.4 463.6L593.8 462.3L594.3 465L594.8 464.1L595.3 457.9L595.8 467.9L596.3 465L596.8 458.7L597.2 467.8L597.7 464.5L598.2 465.6L598.7 464.1L599.2 464.5L599.7 462.4L600.2 458.7L600.6 461.9L601.1 464.4L601.6 463.9L602.1 465.8L602.6 463.4L603.1 456.6L603.6 466L604 461.1L604.5 459.3L605 462.5L605.5 459.2L606 464.6L606.5 460.5L607 469.5L607.4 462.6L607.9 461.6L608.4 461.2L608.9 456.4L609.4 460.5L609.9 460.8L610.4 462.1L610.8 456.1L611.3 463.2L611.8 467.1L612.3 461.7L612.8 462.9L613.3 464.4L613.8 460.5L614.2 461.6L614.7 465.9L615.2 463.5L615.7 459L616.2 457.2L616.7 470.1L617.2 464.2L617.7 457.8L618.1 463.3L618.6 464.9L619.1 463.1L619.6 456.8L620.1 468.4L620.6 464.5L621.1 462L621.5 464.8L622 461.9L622.5 461.5L623 465.4L623.5 456.3L624 465.7L624.5 463.8L624.9 464.9L625.4 465.3L625.9 467.4L626.4 467L626.9 465.2L627.4 461.2L627.9 464.6L628.3 460.9L628.8 459.3L629.3 463.8L629.8 463.4L630.3 466.1L630.8 455.5L631.3 464.1L631.7 464.4L632.2 462.6L632.7 466.9L633.2 459.4L633.7 463.2L634.2 461L634.7 462.1L635.1 459L635.6 461.6L636.1 464.2L636.6 462.4L637.1 463.1L637.6 459.6L638.1 467L638.5 459.7L639 462L639.5 463.7L640 461.3L640.5 464.2L641 462.4L641.5 467.2L641.9 463.5L642.4 463L642.9 459.2L643.4 463.1L643.9 464.8L644.4 462.9L644.9 458.7L645.3 459.9L645.8 460.8L646.3 461.6L646.8 457.1L647.3 467.3L647.8 461.1L648.3 461.7L648.7 460L649.2 461.2L649.7 467.3L650.2 458.3L650.7 459.6L651.2 457.9L651.7 459.4L652.1 465.9L652.6 459.1L653.1 459.6L653.6 455.4L654.1 459.9L654.6 461.7L655.1 459.4L655.5 459.7L656 463.4L656.5 462.5L657 460.5L657.5 458.3L658 456L658.5 466L659 455.8L659.4 462.7L659.9 460L660.4 458.3L660.9 463.3L661.4 458.2L661.9 464.4L662.4 457.2L662.8 461.9L663.3 464.3L663.8 457.3L664.3 466.8L664.8 462.9L665.3 453.3L665.8 464.5L666.2 466.1L666.7 459.3L667.2 459.4L667.7 461.2L668.2 454L668.7 460.4L669.2 462.8L669.6 458.1L670.1 463.2L670.6 466.6L671.1 453.5L671.6 453.9L672.1 457.3L672.6 461.4L673 460.6L673.5 456.4L674 455.7L674.5 456.9L675 464.4L675.5 456L676 457L676.4 461.7L676.9 457.8L677.4 455.4L677.9 462.8L678.4 459.3L678.9 455.9L679.4 456.7L679.8 460.6L680.3 456.3L680.8 458L681.3 459.7L681.8 459.7L682.3 450.5L682.8 454.2L683.2 454.1L683.7 454.7L684.2 455.9L684.7 455.9L685.2 449.2L685.7 445.2L686.2 446.6L686.6 440.9L687.1 444.1L687.6 434.9L688.1 428.2L688.6 424.5L689.1 412L689.6 405.1L690 397.6L690.5 392.4L691 387.6L691.5 380.9L692 378L692.5 374.9L693 379.6L693.4 382.8L693.9 393.9L694.4 396L694.9 405.8L695.4 414.6L695.9 423.6L696.4 425.5L696.8 432.8L697.3 435.8L697.8 438.2L698.3 449L698.8 449.7L699.3 445.6L699.8 448.8L700.3 454.7L700.7 452L701.2 451.4L701.7 459.1L702.2 454.1L702.7 454.9L703.2 458.1L703.7 454.4L704.1 456.9L704.6 457.5L705.1 459.5L705.6 455L706.1 460.8L706.6 458.6L707.1 463.2L707.5 458.4L708 456.2L708.5 456.3L709 454.5L709.5 458L710 457.9L710.5 460.9L710.9 458.5L711.4 455.6L711.9 461.5L712.4 457L712.9 459.2L713.4 462.9L713.9 462.3L714.3 456.1L714.8 458.1L715.3 462.6L715.8 461.5L716.3 460.1L716.8 461.2L717.3 451.7L717.7 457.6L718.2 454L718.7 456.5L719.2 457.3L719.7 459.9L720.2 462.1L720.7 460.9L721.1 459.3L721.6 457.3L722.1 462.4L722.6 459.2L723.1 452.9L723.6 458.2L724.1 459.9L724.5 455.4L725 459L725.5 463.1L726 457.5L726.5 458.1L727 458.2L727.5 455.2L727.9 456.8L728.4 455.1L728.9 457.3L729.4 455.7L729.9 461.2L730.4 457.8L730.9 460.8L731.3 454.2L731.8 458.1L732.3 459.9L732.8 460.3L733.3 456.2L733.8 457.8L734.3 458.4L734.7 457L735.2 456.8L735.7 459.7L736.2 454.4L736.7 452.4L737.2 456.5L737.7 458.9L738.1 450.9L738.6 462.3L739.1 458.3L739.6 459.8L740.1 455.4L740.6 457.9L741.1 463.7L741.6 463.8L742 459.9L742.5 457.1L743 457.6L743.5 462.1L744 455.7L744.5 455L745 457.5L745.4 460.7L745.9 454.5L746.4 459L746.9 459L747.4 458.2L747.9 457.3L748.4 460.7L748.8 459.6L749.3 453.2L749.8 462.7L750.3 459.1L750.8 458.7L751.3 456.5L751.8 456.7L752.2 449.8L752.7 456.8L753.2 459.4L753.7 459.4L754.2 455.4L754.7 450.1L755.2 453.9L755.6 456.5L756.1 461.4L756.6 452.3L757.1 457.4L757.6 459.2L758.1 459.3L758.6 457.1L759 449.6L759.5 459.2L760 457.7L760.5 459L761 454.3L761.5 455.8L762 462L762.4 457L762.9 457.2L763.4 455L763.9 461.2L764.4 452.1L764.9 455.6L765.4 458.5L765.8 457.1L766.3 459.9L766.8 458.5L767.3 461.7L767.8 456.4L768.3 456.7L768.8 458L769.2 451.5L769.7 461.5L770.2 454.2L770.7 460.6L771.2 461.6L771.7 460.2L772.2 457.7L772.6 455.1L773.1 450.3L773.6 458.8L774.1 456.2L774.6 462.4L775.1 456L775.6 458.9L776 455.7L776.5 458.2L777 455.8L777.5 456.3L778 450.9L778.5 454.6L779 456.3L779.4 460.8L779.9 457.6L780.4 452.9L780.9 461.7L781.4 457.8L781.9 460.1L782.4 453.8L782.8 448.6L783.3 454.1L783.8 453.3L784.3 457.3L784.8 451.6L785.3 453.6L785.8 452.1L786.3 456.8L786.7 453.4L787.2 460.6L787.7 458.7L788.2 458.9L788.7 455.5L789.2 456.9L789.7 458.9L790.1 453.4L790.6 460L791.1 455.8L791.6 460L792.1 463L792.6 460.8L793.1 452.4L793.5 459.6L794 454.8L794.5 454.4L795 454.9L795.5 451.9L796 456.3L796.5 453.2L796.9 458.9L797.4 456.4L797.9 447.2L798.4 452.2L798.9 451.9L799.4 452.9L799.9 452.9L800.3 455.5L800.8 454.3L801.3 451.3L801.8 456L802.3 457.4L802.8 454.4L803.3 458L803.7 455.5L804.2 452.3L804.7 452.7L805.2 453.8L805.7 455.3L806.2 454.1L806.7 456.4L807.1 456.8L807.6 449.8L808.1 449.2L808.6 452.3L809.1 453.8L809.6 455L810.1 454L810.5 453.6L811 448.5L811.5 452.2L812 448.7L812.5 451.7L813 452.8L813.5 447.4L813.9 448.3L814.4 456.2L814.9 445.6L815.4 445.7L815.9 443.2L816.4 441.3L816.9 448L817.3 441.7L817.8 440.6L818.3 438.6L818.8 431.2L819.3 439.3L819.8 432.4L820.3 430.4L820.7 430.2L821.2 419.7L821.7 413.2L822.2 404.3L822.7 396.6L823.2 375L823.7 361.7L824.1 338.6L824.6 325.3L825.1 305.3L825.6 279.2L826.1 264.2L826.6 240.2L827.1 226.2L827.6 209.2L828 210.3L828.5 207.1L829 221.3L829.5 237.5L830 256.6L830.5 285.6L831 307.4L831.4 323L831.9 347.5L832.4 363.7L832.9 379.6L833.4 394.3L833.9 402L834.4 413.2L834.8 420.8L835.3 423.8L835.8 428.6L836.3 436.5L836.8 436.7L837.3 446.2L837.8 447.3L838.2 439.8L838.7 444.2L839.2 437.9L839.7 443L840.2 443L840.7 444.1L841.2 440.3L841.6 448.4L842.1 448.5L842.6 445.9L843.1 448.6L843.6 452.1L844.1 454.6L844.6 445.7L845 455.1L845.5 444.9L846 448L846.5 449.5L847 455.8L847.5 453L848 453.1L848.4 456.3L848.9 452.2L849.4 450.2L849.9 456.3L850.4 451.1L850.9 447.9L851.4 446.5L851.8 452.5L852.3 457.9L852.8 454.4L853.3 452.3L853.8 455.9L854.3 447.5L854.8 453.5L855.2 450.4L855.7 456.4L856.2 449.4L856.7 454.5L857.2 452.5L857.7 451.8L858.2 453.7L858.6 450.9L859.1 455.5L859.6 450L860.1 443.4L860.6 454.3L861.1 453.3L861.6 450.1L862 452L862.5 448.9L863 443.1L863.5 438.1L864 440L864.5 441.1L865 442.2L865.4 434.6L865.9 434.8L866.4 440.9L866.9 432.6L867.4 431.3L867.9 429.6L868.4 437L868.9 434L869.3 434.3L869.8 437.1L870.3 435.6L870.8 437.8L871.3 436L871.8 439L872.3 439.7L872.7 441.4L873.2 437L873.7 441.4L874.2 442.3L874.7 442.7L875.2 445.8L875.7 452.6L876.1 450.8L876.6 449L877.1 450.5L877.6 454.5L878.1 446.8L878.6 452.2L879.1 456.6L879.5 457.3L880 454.8L880.5 453.9L881 446.7L881.5 450.3L882 452.5L882.5 453.9L882.9 454.1L883.4 445.7L883.9 451.3L884.4 453.9L884.9 450.6L885.4 452.4L885.9 454.7L886.3 454.1L886.8 453.7L887.3 455.5L887.8 456.8L888.3 452.4L888.8 450L889.3 451.1L889.7 451.8L890.2 453.2L890.7 448.7L891.2 451L891.7 452.6L892.2 457.6L892.7 455L893.1 452.9L893.6 456.2L894.1 454L894.6 454.2L895.1 456.8L895.6 454.5L896.1 453.9L896.5 455.7L897 451.8L897.5 453.6L898 446.9L898.5 452.2L899 458.3L899.5 452.3L899.9 453.5L900.4 452.2L900.9 450.3L901.4 455L901.9 453.4L902.4 456.8L902.9 450.7L903.3 453.6L903.8 452.4L904.3 451.7L904.8 456.9L905.3 451.3L905.8 451.3L906.3 461.4L906.7 453.4L907.2 453L907.7 455L908.2 450.5L908.7 454.7L909.2 450L909.7 452.2L910.2 451.9L910.6 457.9L911.1 455.7L911.6 459.5L912.1 458.9L912.6 451.6L913.1 455.4L913.6 452.4L914 451.8L914.5 457.5L915 458.3L915.5 454.2L916 454.9L916.5 454.8L917 454.9L917.4 455L917.9 450.8L918.4 455.8L918.9 451.8L919.4 450.2L919.9 453.5L920.4 454.8L920.8 456.6L921.3 455.1L921.8 454.9L922.3 451.9L922.8 455.2L923.3 454.7L923.8 454.9L924.2 451.7L924.7 459.3L925.2 456.4L925.7 456.2L926.2 454.3L926.7 453.2L927.2 457L927.6 450L928.1 452.7L928.6 453.2L929.1 455.9L929.6 453.1L930.1 458.5L930.6 448.7L931 459L931.5 455.1L932 457.1L932.5 452.6L933 457.4L933.5 453.2L934 455L934.4 449.6L934.9 455.9L935.4 454.6L935.9 448.4L936.4 453.9L936.9 453.2L937.4 456.8L937.8 452.1L938.3 454.8L938.8 458.3L939.3 451.6L939.8 460.1L940.3 455L940.8 453.6L941.2 450.1L941.7 448.8L942.2 457.3L942.7 452.9L943.2 452.4L943.7 457.6L944.2 456.5L944.6 454.7L945.1 449.8L945.6 448.3L946.1 457.3L946.6 454.2L947.1 453.6L947.6 460.4L948 453.1L948.5 455.5L949 461.1L949.5 456.4L950 452.7L950.5 451.8L951 458.3L951.5 450.6L951.9 457.1L952.4 459.6L952.9 454.2L953.4 457.1L953.9 454.8L954.4 459L954.9 455.4L955.3 452.4L955.8 455.7L956.3 455.1L956.8 452.7L957.3 453.9L957.8 450.9L958.3 452L958.7 456.6L959.2 448.9L959.7 455.5L960.2 454.7L960.7 452.8L961.2 459L961.7 456.8L962.1 452.8L962.6 455.3L963.1 457.5L963.6 449.8L964.1 455.4L964.6 453.9L965.1 455.9L965.5 461.3L966 452.7L966.5 453.7L967 451L967.5 455.4L968 456.6L968.5 447L968.9 459.3L969.4 459.7L969.9 446.6L970.4 449.9L970.9 456.1L971.4 454.9L971.9 458.3L972.3 453.8L972.8 458.7L973.3 450.4L973.8 455.9L974.3 453.3L974.8 453.2L975.3 449.1L975.7 453.3L976.2 458.9L976.7 452.6L977.2 453.9L977.7 455L978.2 451.5L978.7 455.4L979.1 456.3L979.6 453.8L980.1 448.7L980.6 459.3L981.1 454.7L981.6 454.4L982.1 453.8L982.5 452.6L983 449.3L983.5 454.3L984 454.9L984.5 457.5L985 459.5L985.5 452.1L985.9 459.4L986.4 454.6L986.9 456.2L987.4 451.1L987.9 455.4L988.4 451.3L988.9 456.4L989.3 450.3L989.8 454.3L990.3 452.9L990.8 455.3L991.3 455L991.8 454.6L992.3 452.6L992.8 456.8L993.2 455.9L993.7 451.6L994.2 456.4L994.7 452L995.2 454.3L995.7 453.7L996.2 453.7L996.6 456.4L997.1 448.3L997.6 457.8L998.1 448.3L998.6 457.7L999.1 455.5L999.6 449.1L1000 454.8L1000.5 452.7L1001 449.9L1001.5 457.4L1002 457L1002.5 454.7L1003 458.7L1003.4 453.8L1003.9 452.5L1004.4 457.4L1004.9 450.9L1005.4 455.6L1005.9 456.5L1006.4 453.6L1006.8 453.2L1007.3 454.2L1007.8 453.4L1008.3 450.3L1008.8 443.8L1009.3 450.5L1009.8 447.3L1010.2 454.7L1010.7 449.9L1011.2 451.8L1011.7 453L1012.2 453.4L1012.7 446.7L1013.2 455.7L1013.6 451L1014.1 449.2L1014.6 443.2L1015.1 451.1L1015.6 445.4L1016.1 445.2L1016.6 438.9L1017 443.7L1017.5 440.1L1018 432.7L1018.5 436.6L1019 424.3L1019.5 427.5L1020 423.8L1020.4 421.1L1020.9 414L1021.4 412.6L1021.9 414.7L1022.4 413.4L1022.9 408.9L1023.4 407.9L1023.8 407.4L1024.3 414.2L1024.8 411.1L1025.3 411.9L1025.8 410L1026.3 413.1L1026.8 417.9L1027.2 417.9L1027.7 425.8L1028.2 428.9L1028.7 429.3L1029.2 433.6L1029.7 436.9L1030.2 433.7L1030.6 443.3L1031.1 434.6L1031.6 450.3L1032.1 440.8L1032.6 446.6L1033.1 446.3L1033.6 449.3L1034 446.5L1034.5 451.1L1035 444.9L1035.5 452.6L1036 449.7L1036.5 452L1037 454.3L1037.5 447.5L1037.9 449.6L1038.4 449.2L1038.9 451.4L1039.4 452.3L1039.9 454.2L1040.4 452.7L1040.9 451.6L1041.3 453.9L1041.8 455.5L1042.3 455.3L1042.8 458.9L1043.3 450.4L1043.8 453.2L1044.3 448.3L1044.7 450.4L1045.2 454.5L1045.7 456.6L1046.2 451.1L1046.7 454.2L1047.2 453L1047.7 454.4L1048.1 453.5L1048.6 451.3L1049.1 445.8L1049.6 448.2L1050.1 454.1L1050.6 452.6L1051.1 459.5L1051.5 453.1L1052 455.8L1052.5 449.3L1053 448.6L1053.5 453.6L1054 458.3L1054.5 454.3L1054.9 452.1L1055.4 454.3L1055.9 455L1056.4 454.5L1056.9 453.2L1057.4 449.8L1057.9 449.6L1058.3 451.5L1058.8 452.7L1059.3 449L1059.8 458.1L1060.3 455L1060.8 451.5L1061.3 455.6L1061.7 460.8L1062.2 453.9L1062.7 453.9L1063.2 456.4L1063.7 449L1064.2 451.4L1064.7 450.8L1065.1 455.6L1065.6 448L1066.1 454.2L1066.6 451.7L1067.1 452.3L1067.6 451.5L1068.1 457.8L1068.5 450.5L1069 449.5L1069.5 454.2L1070 451.4L1070.5 454.8L1071 453L1071.5 453.3L1071.9 453.4L1072.4 447.9L1072.9 446.9L1073.4 459.5L1073.9 449.6L1074.4 454.8L1074.9 449.7L1075.3 452.9L1075.8 452.4L1076.3 457.7L1076.8 452.6L1077.3 448.4L1077.8 448.8L1078.3 454.1L1078.8 455.9L1079.2 459.5L1079.7 459.8L1080.2 448.8L1080.7 452.8L1081.2 449.4L1081.7 454.1L1082.2 455.7L1082.6 447.5L1083.1 455.9L1083.6 455.4L1084.1 452.4L1084.6 451.3L1085.1 458.4L1085.6 452.7L1086 449.8L1086.5 453.5L1087 456.4L1087.5 455.3L1088 447.1L1088.5 448.9L1089 451.9L1089.4 453.6L1089.9 453.6L1090.4 449.2L1090.9 456L1091.4 454.6L1091.9 448.2L1092.4 450.2L1092.8 452.8L1093.3 448.4L1093.8 453.2L1094.3 453.7L1094.8 451.8L1095.3 454.9L1095.8 458.8L1096.2 451.1L1096.7 454.6L1097.2 451.7L1097.7 457.9L1098.2 457L1098.7 453.1L1099.2 451.2L1099.6 455.6L1100.1 452.9L1100.6 449.3L1101.1 450L1101.6 452.6L1102.1 459.9L1102.6 456.5L1103 457.4L1103.5 456L1104 457.4L1104.5 457.8L1105 449.7L1105.5 455L1106 455.1L1106.4 454.6L1106.9 454.4L1107.4 445.3L1107.9 453.7L1108.4 448.9L1108.9 456.1L1109.4 451.5L1109.8 452.2L1110.3 452.9L1110.8 446.7L1111.3 452.5L1111.8 449.1L1112.3 456L1112.8 451.4L1113.2 449.5L1113.7 456.9L1114.2 452.1L1114.7 450L1115.2 452.7L1115.7 452.4L1116.2 453.8L1116.6 449.9L1117.1 456.4L1117.6 454.1L1118.1 458.1L1118.6 454.8L1119.1 450L1119.6 456.4L1120.1 452.3L1120.5 453.4L1121 445.4L1121.5 449.2L1122 457.3L1122.5 456.5L1123 447.6L1123.5 454.1L1123.9 454.2L1124.4 457L1124.9 449.7L1125.4 447.7L1125.9 454.1L1126.4 451L1126.9 451.3L1127.3 450.3L1127.8 457L1128.3 450.4L1128.8 456.1L1129.3 455L1129.8 451.1L1130.3 456.1L1130.7 457.1L1131.2 454.2L1131.7 452.4L1132.2 455.5L1132.7 450.8L1133.2 454.7L1133.7 457.9L1134.1 449L1134.6 447.5L1135.1 455.4L1135.6 450.4L1136.1 451.7L1136.6 453.6L1137.1 451.2L1137.5 453.5L1138 450.1L1138.5 451.5L1139 452.9L1139.5 454.8L1140 451.8L1140.5 454.2L1140.9 455L1141.4 454.7L1141.9 452.8L1142.4 457.2L1142.9 450.7L1143.4 456.4L1143.9 456.2L1144.3 455.9L1144.8 451.5L1145.3 456.1L1145.8 454.6L1146.3 449.7L1146.8 452.2L1147.3 449.1L1147.7 454.3L1148.2 457.5L1148.7 456L1149.2 450.1L1149.7 450L1150.2 452.6L1150.7 452.7L1151.1 455.5L1151.6 452.2L1152.1 456.6L1152.6 451.5L1153.1 456.4L1153.6 448.7L1154.1 451.5L1154.5 453.3L1155 455.7L1155.5 454.8L1156 450.5L1156.5 449.1L1157 453.1L1157.5 452.9L1157.9 452L1158.4 453.1L1158.9 449.1L1159.4 454.8L1159.9 456.3L1160.4 450.4L1160.9 450.5L1161.4 457L1161.8 456.5L1162.3 450.7L1162.8 451.1L1163.3 447.8L1163.8 454.7L1164.3 453.8L1164.8 453.3L1165.2 460.2L1165.7 452.6L1166.2 452.8L1166.7 454L1167.2 452.6L1167.7 456.6L1168.2 452.7L1168.6 453.6L1169.1 460.2L1169.6 451.4L1170.1 449.5L1170.6 453.7L1171.1 451.3L1171.6 451.2L1172 453.9L1172.5 455.8L1173 448.5L1173.5 452.6L1174 446.7L1174.5 456L1175 450L1175.4 455.2L1175.9 458.7L1176.4 457.3L1176.9 454.4L1177.4 446.9L1177.9 458.9L1178.4 451.8L1178.8 455.5L1179.3 451.5L1179.8 452.3L1180.3 458L1180.8 447.9L1181.3 449.2L1181.8 452.1L1182.2 456.2L1182.7 445.2L1183.2 456.8L1183.7 451.7L1184.2 455.1L1184.7 461L1185.2 454.5L1185.6 456.3L1186.1 457.2L1186.6 452L1187.1 453.3L1187.6 452.3L1188.1 453.5L1188.6 451.9L1189 451.2L1189.5 451L1190 455.2L1190.5 448.7L1191 453.1L1191.5 457L1192 448.5L1192.4 447.3L1192.9 454.8L1193.4 450.3L1193.9 450.5L1194.4 454.7L1194.9 453.7L1195.4 450.6L1195.8 451.7L1196.3 448.1L1196.8 450.8L1197.3 452.4L1197.8 454.3L1198.3 454.5L1198.8 458L1199.2 452.4L1199.7 455.7L1200.2 453.4L1200.7 449.5L1201.2 453.6L1201.7 453.7L1202.2 454.7L1202.7 454.1L1203.1 452.9L1203.6 449.8L1204.1 451.6L1204.6 453.4L1205.1 454.5L1205.6 455L1206.1 453.6L1206.5 454.4L1207 456.9L1207.5 453.1L1208 450.8L1208.5 448L1209 452.5L1209.5 454.3L1209.9 451.2L1210.4 457L1210.9 449.7L1211.4 451.2L1211.9 452.2L1212.4 448.5L1212.9 455.4L1213.3 449.9L1213.8 448.6L1214.3 446.6L1214.8 455.1L1215.3 456.2L1215.8 449L1216.3 447.7L1216.7 450.7L1217.2 452.1L1217.7 450.4L1218.2 453.6L1218.7 448.8L1219.2 458.5L1219.7 453.2L1220.1 455.2L1220.6 450.8L1221.1 455L1221.6 457.2L1222.1 449.8L1222.6 452.4L1223.1 455.1L1223.5 453.3L1224 449.4L1224.5 450.6L1225 453.8L1225.5 453L1226 449.9L1226.5 453L1226.9 445.1L1227.4 452.2L1227.9 454.9L1228.4 454.8L1228.9 450.6L1229.4 452.7L1229.9 452.6L1230.3 451.5L1230.8 449.3L1231.3 447.3L1231.8 449.8L1232.3 447.8L1232.8 445L1233.3 455.2L1233.7 446.8L1234.2 449.2L1234.7 449.2L1235.2 445.7L1235.7 452L1236.2 445.6L1236.7 456.4L1237.1 446.5L1237.6 448.3L1238.1 450.2L1238.6 450.3L1239.1 450.7L1239.6 454.2L1240.1 455L1240.5 458.3L1241 447.7L1241.5 454.8L1242 453.6L1242.5 450.6L1243 447.5L1243.5 459.1L1244 455.3L1244.4 446L1244.9 456.3L1245.4 453L1245.9 452.2L1246.4 454L1246.9 449.5L1247.4 451L1247.8 454.4L1248.3 447.7L1248.8 447L1249.3 446L1249.8 453.6L1250.3 447.9L1250.8 450.1L1251.2 449.5L1251.7 452.9L1252.2 452.2L1252.7 448.4L1253.2 455.4L1253.7 452.3L1254.2 452L1254.6 449.5L1255.1 449.7L1255.6 450L1256.1 450.8L1256.6 452L1257.1 452L1257.6 449.8L1258 450.1L1258.5 452.7L1259 454.2L1259.5 454.3L1260 450.2L1260.5 446.3L1261 450.7L1261.4 450.6L1261.9 450.3L1262.4 451.5L1262.9 448.3L1263.4 450.1L1263.9 442.4L1264.4 455L1264.8 449.4L1265.3 448.2L1265.8 450.7L1266.3 448.1L1266.8 446.4L1267.3 451.1L1267.8 448.5L1268.2 445.9L1268.7 450L1269.2 448.9L1269.7 448.4L1270.2 446L1270.7 450L1271.2 443.5L1271.6 448.6L1272.1 450.3L1272.6 442.3L1273.1 445.5L1273.6 438.7L1274.1 444L1274.6 438.1L1275 438.7L1275.5 443L1276 445.3L1276.5 443L1277 440.2L1277.5 437.9L1278 439.9L1278.4 446.8L1278.9 443.2L1279.4 434.1L1279.9 435.6L1280.4 432.9L1280.9 438.7L1281.4 435.6L1281.8 431.3L1282.3 435.3L1282.8 434.1L1283.3 432.1L1283.8 434.1L1284.3 437.9L1284.8 432.2L1285.2 434.1L1285.7 430.9L1286.2 434.2L1286.7 440L1287.2 437.7L1287.7 434.1L1288.2 434.8L1288.7 441L1289.1 437.1L1289.6 436.4L1290.1 442.1L1290.6 437.7L1291.1 437.2L1291.6 441.3L1292.1 436.5L1292.5 439.7L1293 439.1L1293.5 442.5L1294 442.1L1294.5 448.7L1295 445.6L1295.5 443.9L1295.9 446L1296.4 444L1296.9 445.8L1297.4 447.2L1297.9 447.2L1298.4 450.4L1298.9 448.1L1299.3 444.4L1299.8 447.7L1300.3 443.5L1300.8 453.6L1301.3 441.6L1301.8 447.2L1302.3 449.4L1302.7 445L1303.2 446.7L1303.7 451.4L1304.2 444.5L1304.7 451.3L1305.2 447.8L1305.7 447.4L1306.1 454.8L1306.6 451.1L1307.1 450L1307.6 448L1308.1 449.4L1308.6 448.4L1309.1 454.6L1309.5 449.6L1310 446.7L1310.5 447.4L1311 450.3L1311.5 445.6L1312 446.7L1312.5 444.1L1312.9 441.9L1313.4 456.2L1313.9 448.5L1314.4 454.7L1314.9 450.9L1315.4 450.1L1315.9 445.7L1316.3 449L1316.8 449.7L1317.3 446.4L1317.8 451.4L1318.3 453L1318.8 450.7L1319.3 449.8L1319.7 443.8L1320.2 456.9L1320.7 451.5L1321.2 445.5L1321.7 445.5L1322.2 447L1322.7 446L1323.1 449.2L1323.6 446.4L1324.1 449.5L1324.6 447.7L1325.1 448.2L1325.6 445.3L1326.1 449.6L1326.5 449.8L1327 446.5L1327.5 443.8L1328 449.1L1328.5 443.3L1329 446.4L1329.5 450.3L1330 452.8L1330.4 447.9L1330.9 449.8L1331.4 452.8L1331.9 445.4L1332.4 447.4L1332.9 449.6L1333.4 452.8L1333.8 444.9L1334.3 444.8L1334.8 451.6L1335.3 452.3L1335.8 446.5L1336.3 448.7L1336.8 451.5L1337.2 447.7L1337.7 442.4L1338.2 449L1338.7 451.3L1339.2 444.3L1339.7 452.3L1340.2 447.2L1340.6 442.5L1341.1 448.7L1341.6 443.3L1342.1 452.3L1342.6 449.5L1343.1 453.5L1343.6 442.6L1344 448.2L1344.5 452.3L1345 451.5L1345.5 449.7L1346 448.8L1346.5 449.6L1347 450.7L1347.4 453.2L1347.9 441.9L1348.4 444.2L1348.9 445.5L1349.4 447.9L1349.9 448.4L1350.4 446L1350.8 446.8L1351.3 449.4L1351.8 450.7L1352.3 444.3L1352.8 445.9L1353.3 446.8L1353.8 454.4L1354.2 444.3L1354.7 447.3L1355.2 446.4L1355.7 444.7L1356.2 448.9L1356.7 445.5L1357.2 444.1L1357.6 445.7L1358.1 446.1L1358.6 443L1359.1 442.5L1359.6 448L1360.1 442.4L1360.6 446.8L1361 442.9L1361.5 440.3L1362 438.9L1362.5 436.5L1363 443.2L1363.5 442.2L1364 437.9L1364.4 434.6L1364.9 434.9L1365.4 435.6L1365.9 437.3L1366.4 429.3L1366.9 423.9L1367.4 427.4L1367.8 422.8L1368.3 418.3L1368.8 411.8L1369.3 416L1369.8 415L1370.3 403.6L1370.8 398.3L1371.3 397.3L1371.7 394.3L1372.2 393.3L1372.7 388.6L1373.2 380.1L1373.7 383.9L1374.2 382.4L1374.7 378.9L1375.1 381.5L1375.6 377.1L1376.1 381.9L1376.6 381L1377.1 388.1L1377.6 393.8L1378.1 388.8L1378.5 398.8L1379 404.8L1379.5 407.1L1380 415.2L1380.5 413.5L1381 423.9L1381.5 420.7L1381.9 419.5L1382.4 425.6L1382.9 426.4L1383.4 434.5L1383.9 437.7L1384.4 439.7L1384.9 438.3L1385.3 436.8L1385.8 436.5L1386.3 435.8L1386.8 442.2L1387.3 436.9L1387.8 440.6L1388.3 442.6L1388.7 443.7L1389.2 438.3L1389.7 439.1L1390.2 439.6L1390.7 446.2L1391.2 440.2L1391.7 441.1L1392.1 446L1392.6 447.1L1393.1 450.3L1393.6 444.5L1394.1 447.6L1394.6 439.2L1395.1 446.8L1395.5 447.6L1396 448.1L1396.5 443.6L1397 449.7L1397.5 450.4L1398 445.4L1398.5 445.6L1398.9 444.4L1399.4 444.6L1399.9 445.5L1400.4 441.6L1400.9 441.3L1401.4 444.7L1401.9 444L1402.3 448.7L1402.8 445L1403.3 442.7L1403.8 440.1L1404.3 444.7L1404.8 442.4L1405.3 440.1L1405.7 451.8L1406.2 439.7L1406.7 451L1407.2 453.9L1407.7 446.2L1408.2 444.5L1408.7 448L1409.1 443.1L1409.6 446.5L1410.1 448.3L1410.6 442L1411.1 450.8L1411.6 446.2L1412.1 446.9L1412.6 450.1L1413 441.6L1413.5 442L1414 446.9L1414.5 447.2L1415 445.2L1415.5 445.6L1416 445.2L1416.4 442.9L1416.9 441.8L1417.4 443.6L1417.9 446.3L1418.4 447.3L1418.9 441.9L1419.4 451.3L1419.8 453.2L1420.3 446.5L1420.8 443.3L1421.3 445.3L1421.8 448.3L1422.3 445.5L1422.8 451.7L1423.2 444.9L1423.7 448.7L1424.2 447.2L1424.7 452.8L1425.2 447L1425.7 447.2L1426.2 443.1L1426.6 444.9L1427.1 441.6L1427.6 453.7L1428.1 445.9L1428.6 445.1L1429.1 445.8L1429.6 446.9L1430 447.4L1430.5 440.1L1431 449.6L1431.5 445.8L1432 445.4L1432.5 451.2L1433 446.4L1433.4 443.1L1433.9 442.9L1434.4 448L1434.9 445.7L1435.4 446L1435.9 441.5L1436.4 446L1436.8 443.4L1437.3 442.9L1437.8 449.5L1438.3 446.3L1438.8 444.5L1439.3 448.5L1439.8 451.3L1440.2 440.6L1440.7 448.3L1441.2 446.1L1441.7 445.1L1442.2 449.7L1442.7 447.9L1443.2 443.8L1443.6 449.2L1444.1 444.6L1444.6 445.2L1445.1 441.1L1445.6 445.3L1446.1 447L1446.6 444.1L1447 445.2L1447.5 449.1L1448 444.6L1448.5 443.1L1449 450.4L1449.5 442.8L1450 437.5L1450.4 440.9L1450.9 444.1L1451.4 441.1L1451.9 441.3L1452.4 443.3L1452.9 444.3L1453.4 444L1453.9 444.8L1454.3 448.2L1454.8 452.8L1455.3 448.5L1455.8 446.9L1456.3 442.6L1456.8 445L1457.3 441.4L1457.7 444.6L1458.2 441.2L1458.7 448L1459.2 451.2L1459.7 447.6L1460.2 452.6L1460.7 441.1L1461.1 447.3L1461.6 444.2L1462.1 445L1462.6 441.1L1463.1 444.3L1463.6 444.1L1464.1 442.2L1464.5 448L1465 446.7L1465.5 448.1L1466 442.6L1466.5 442.2L1467 440.6L1467.5 446.8L1467.9 447.3L1468.4 444.1L1468.9 441.9L1469.4 444.4L1469.9 445.6L1470.4 445.7L1470.9 443.2L1471.3 447.5L1471.8 448.1L1472.3 441.2L1472.8 444.9L1473.3 444.2L1473.8 439.8L1474.3 442.1L1474.7 444.6L1475.2 447.5L1475.7 441.5L1476.2 442.5L1476.7 443L1477.2 442.3L1477.7 439.1L1478.1 446.2L1478.6 442.8L1479.1 444.9L1479.6 445.6L1480.1 442.1L1480.6 440.3L1481.1 441.2L1481.5 441.7L1482 440.6L1482.5 442.3L1483 438.7L1483.5 441.7L1484 441.2L1484.5 443.9L1484.9 444.6L1485.4 448.7L1485.9 446.8L1486.4 445.2L1486.9 443L1487.4 443.2L1487.9 444.1L1488.3 442.2L1488.8 443L1489.3 440.2L1489.8 444L1490.3 439.9L1490.8 441.2L1491.3 440.9L1491.7 450.4L1492.2 442.9L1492.7 445.5L1493.2 438.5L1493.7 444.1L1494.2 441.3L1494.7 445L1495.2 440.8L1495.6 438.4L1496.1 444.2L1496.6 441.9L1497.1 437.5L1497.6 441.2L1498.1 438.4L1498.6 443.3L1499 441.3L1499.5 441.9L1500 437.6L1500.5 444.5L1501 438.3L1501.5 440.8L1502 438.7L1502.4 439.3L1502.9 434.8L1503.4 438.4L1503.9 438.8L1504.4 432.9L1504.9 439.3L1505.4 432L1505.8 432.3L1506.3 430.9L1506.8 435.1L1507.3 428.2L1507.8 426.7L1508.3 427L1508.8 424.2L1509.2 424.7L1509.7 417.1L1510.2 413.4L1510.7 409.6L1511.2 406L1511.7 406.9L1512.2 402.3L1512.6 395.6L1513.1 392L1513.6 381.3L1514.1 386.7L1514.6 381.4L1515.1 369.6L1515.6 371L1516 369.5L1516.5 372L1517 366.7L1517.5 368.9L1518 370L1518.5 368.2L1519 364.6L1519.4 365.7L1519.9 371.9L1520.4 378.7L1520.9 381.4L1521.4 380.1L1521.9 390.6L1522.4 389.7L1522.8 395.5L1523.3 404L1523.8 405.2L1524.3 406.9L1524.8 409.7L1525.3 415.6L1525.8 419.3L1526.2 420.8L1526.7 421.4L1527.2 427.5L1527.7 430.7L1528.2 426.4L1528.7 433.5L1529.2 431L1529.6 433.4L1530.1 438.2L1530.6 432.3L1531.1 436.6L1531.6 442.9L1532.1 442.8L1532.6 437L1533 435.9L1533.5 443.6L1534 440.7L1534.5 441.1L1535 435.7L1535.5 441.1L1536 436.2L1536.4 440.3L1536.9 447.1L1537.4 445.4L1537.9 446.6L1538.4 442L1538.9 443.1L1539.4 440.8L1539.9 448.4L1540.3 440.6L1540.8 437.9L1541.3 441L1541.8 445.8L1542.3 440.9L1542.8 443.3L1543.3 438.3L1543.7 440.7L1544.2 438.7L1544.7 439.3L1545.2 442.1L1545.7 444.8L1546.2 449L1546.7 444.8L1547.1 439.7L1547.6 439.7L1548.1 438.4L1548.6 442.8L1549.1 440.2L1549.6 442.5L1550.1 439.7L1550.5 448.2L1551 442.4L1551.5 445.7L1552 442.5L1552.5 450.6L1553 439.1L1553.5 445.3L1553.9 448L1554.4 443.6L1554.9 446.8L1555.4 443.7L1555.9 447.5L1556.4 443.9L1556.9 449.5L1557.3 439.2L1557.8 446.5L1558.3 442.6L1558.8 442.8L1559.3 446L1559.8 442.2L1560.3 442.1L1560.7 446L1561.2 440.7L1561.7 443.4L1562.2 447.5L1562.7 441.7L1563.2 448.1L1563.7 440.9L1564.1 445L1564.6 444.5L1565.1 439.8L1565.6 446.7L1566.1 439.8L1566.6 448.6L1567.1 449.1L1567.5 442.2L1568 444.5L1568.5 443.7L1569 439.7L1569.5 441.6L1570 444L1570.5 444.2L1570.9 448.2L1571.4 442.7L1571.9 442.5L1572.4 446.4L1572.9 446.7L1573.4 443.5L1573.9 445L1574.3 442.5L1574.8 443.8L1575.3 437.6L1575.8 438.7L1576.3 447L1576.8 442.3L1577.3 440.8L1577.7 445.9L1578.2 450.8L1578.7 447.6L1579.2 445.7L1579.7 444.4L1580.2 450.1L1580.7 449.9L1581.2 445.2L1581.6 443.4L1582.1 444.8L1582.6 446.2L1583.1 444L1583.6 442.9L1584.1 442.6L1584.6 439.9L1585 443.6L1585.5 445.3L1586 440.2L1586.5 441.6L1587 447.4L1587.5 441.7L1588 445.4L1588.4 440.8L1588.9 438.1L1589.4 445.3L1589.9 446.1L1590.4 444.8L1590.9 443.9L1591.4 448.6L1591.8 443.1L1592.3 441.6L1592.8 444.8L1593.3 447.3L1593.8 445.1L1594.3 447.3L1594.8 448.8L1595.2 441.6L1595.7 443.6L1596.2 443.2L1596.7 445.8L1597.2 439L1597.7 447L1598.2 439.7L1598.6 445.2L1599.1 442.9L1599.6 442.6L1600.1 445.7L1600.6 440.1L1601.1 445.8L1601.6 442.9L1602 439.7L1602.5 447L1603 440.1L1603.5 445.8L1604 442.6L1604.5 442.7L1605 448.2L1605.4 444.8L1605.9 443.2L1606.4 446.6L1606.9 442.4L1607.4 448.8L1607.9 442L1608.4 445.5L1608.8 442.1L1609.3 446L1609.8 441.1L1610.3 443.6L1610.8 446.1L1611.3 439.8L1611.8 443.2L1612.2 445.1L1612.7 442.3L1613.2 442.7L1613.7 445.9L1614.2 446.4L1614.7 438.9L1615.2 441L1615.6 435.8L1616.1 443.5L1616.6 445.5L1617.1 440.9L1617.6 439.8L1618.1 444.9L1618.6 441.9L1619 449.9L1619.5 448.1L1620 437.8L1620.5 445.7L1621 445.6L1621.5 445.7L1622 443.4L1622.5 439L1622.9 443.9L1623.4 441.9L1623.9 449L1624.4 445.3L1624.9 447.4L1625.4 440.2L1625.9 443.5L1626.3 442.8L1626.8 440.7L1627.3 442L1627.8 438.6L1628.3 443.7L1628.8 440.5L1629.3 443.7L1629.7 444.5L1630.2 442.4L1630.7 441L1631.2 445.7L1631.7 445.7L1632.2 441.7L1632.7 446.4L1633.1 435.7L1633.6 443.7L1634.1 444.7L1634.6 443.1L1635.1 438.1L1635.6 443.2L1636.1 446.2L1636.5 444.1L1637 439.2L1637.5 443.5L1638 448.7L1638.5 447.2L1639 448L1639.5 443.2L1639.9 445.8L1640.4 443.4L1640.9 443.2L1641.4 440.1L1641.9 443.5L1642.4 446.7L1642.9 443.9L1643.3 437.8L1643.8 445.3L1644.3 440.1L1644.8 445.1L1645.3 441L1645.8 448.3L1646.3 442.9L1646.7 446.7L1647.2 439.1L1647.7 442.9L1648.2 443.9L1648.7 439.1L1649.2 441.7L1649.7 441.8L1650.1 443.7L1650.6 443.6L1651.1 438.3L1651.6 447.1L1652.1 445.4L1652.6 441.6L1653.1 446.4L1653.5 442.7L1654 441.6L1654.5 439.3L1655 435.5L1655.5 444.3L1656 446.9L1656.5 445.3L1656.9 445.3L1657.4 449.4L1657.9 438.8L1658.4 445.6L1658.9 449.6L1659.4 443L1659.9 449.4L1660.3 442.4L1660.8 441.6L1661.3 437.5L1661.8 445.2L1662.3 446L1662.8 445.2L1663.3 444.1L1663.8 445.7L1664.2 442.9L1664.7 438.1L1665.2 444.3L1665.7 445.1L1666.2 451.3L1666.7 442L1667.2 443.8L1667.6 437.9L1668.1 437.8L1668.6 439.7L1669.1 447.8L1669.6 443.6L1670.1 443.4L1670.6 441.5L1671 443.9L1671.5 445.8L1672 444.9L1672.5 442.8L1673 443.6L1673.5 444.2L1674 445.2L1674.4 444.2L1674.9 442.1L1675.4 438.6L1675.9 443.3L1676.4 443L1676.9 442.6L1677.4 441.5L1677.8 439.2L1678.3 446L1678.8 440.7L1679.3 442.5L1679.8 441.2L1680.3 438.6L1680.8 444.7L1681.2 437.7L1681.7 442.5L1682.2 441.2L1682.7 442.5L1683.2 439.3L1683.7 445.6L1684.2 446.4L1684.6 444.5L1685.1 440.8L1685.6 438.2L1686.1 448.6L1686.6 436.2L1687.1 438.5L1687.6 443.3L1688 443.8L1688.5 438.6L1689 443.7L1689.5 437.9L1690 444.4L1690.5 443.5L1691 442.2L1691.4 445.5L1691.9 443.2L1692.4 434.9L1692.9 444.6L1693.4 443L1693.9 445.2L1694.4 441.5L1694.8 444.6L1695.3 441.1L1695.8 443.5L1696.3 445L1696.8 440.5L1697.3 440.2L1697.8 442.3L1698.2 444.6L1698.7 443.3L1699.2 442.6L1699.7 444.2L1700.2 443.3L1700.7 438.9L1701.2 446.2L1701.6 446L1702.1 445.3L1702.6 436.8L1703.1 445.8L1703.6 438.6L1704.1 442L1704.6 441.4L1705.1 447L1705.5 444.9L1706 441.9L1706.5 443.4L1707 440L1707.5 438.5L1708 443.9L1708.5 444.2L1708.9 441.9L1709.4 446.7L1709.9 447.4L1710.4 440.5L1710.9 442.6L1711.4 443.4L1711.9 435.9L1712.3 445.4L1712.8 444.9L1713.3 443L1713.8 441.7L1714.3 440.7L1714.8 446.1L1715.3 439.9L1715.7 443L1716.2 441.5L1716.7 445.8L1717.2 446.3L1717.7 442.1L1718.2 441.7L1718.7 437.9L1719.1 438.4L1719.6 442.7L1720.1 442.9L1720.6 441.6L1721.1 437.8L1721.6 438.5L1722.1 433.1L1722.5 440.8L1723 433.3L1723.5 435.1L1724 437.9L1724.5 443.9L1725 437.1L1725.5 442.7L1725.9 446.7L1726.4 442.9L1726.9 442.4L1727.4 436.9L1727.9 439.5L1728.4 435.4L1728.9 442.4L1729.3 442.2L1729.8 444.9L1730.3 440.7L1730.8 441.5L1731.3 437.8L1731.8 441.8L1732.3 444.2L1732.7 442L1733.2 443L1733.7 440.8L1734.2 442L1734.7 440.9L1735.2 437.9L1735.7 440.3L1736.1 442.8L1736.6 441.6L1737.1 440.2L1737.6 437.8L1738.1 442.1L1738.6 438.9L1739.1 439.8L1739.5 442.4L1740 443.8L1740.5 438.7L1741 439.2L1741.5 442.7L1742 439.6L1742.5 445.7L1742.9 443.5L1743.4 440.8L1743.9 437.1L1744.4 443.1L1744.9 441.1L1745.4 435.9L1745.9 437.7L1746.4 439.9L1746.8 442.6L1747.3 434.4L1747.8 440.1L1748.3 440.9L1748.8 447.3L1749.3 441.2L1749.8 441.1L1750.2 440.3L1750.7 441.5L1751.2 442.3L1751.7 439.8L1752.2 441.9L1752.7 446.2L1753.2 439.7L1753.6 442.4L1754.1 446.4L1754.6 438.2L1755.1 440.5L1755.6 438.6L1756.1 443.2L1756.6 444L1757 442L1757.5 440.5L1758 440.4L1758.5 441.2L1759 444.1L1759.5 441.8L1760 445.3L1760.4 446.9L1760.9 439.9L1761.4 445.9L1761.9 444.9L1762.4 440.6L1762.9 433.7L1763.4 437.8L1763.8 443.1L1764.3 435.1L1764.8 444.9L1765.3 438.1L1765.8 441.6L1766.3 438.7L1766.8 439.4L1767.2 441.4L1767.7 437L1768.2 439.9L1768.7 439L1769.2 443L1769.7 437.6L1770.2 447.1L1770.6 446L1771.1 437L1771.6 436.8L1772.1 439.1L1772.6 441.8L1773.1 442.6L1773.6 442.8L1774 443.4L1774.5 440.6L1775 437.2L1775.5 437.9L1776 439.6L1776.5 438.4L1777 448.2L1777.4 439.5L1777.9 444.7L1778.4 443.2L1778.9 438.3L1779.4 436.8L1779.9 439.9L1780.4 441.9L1780.8 439.9L1781.3 444.3L1781.8 439L1782.3 438.9L1782.8 441.8L1783.3 447.1L1783.8 443.5L1784.2 446.6L1784.7 439.6L1785.2 444.4L1785.7 442.5L1786.2 448.6L1786.7 439.9L1787.2 441.8L1787.6 438.5L1788.1 437.6L1788.6 443.4L1789.1 442.8L1789.6 438.1L1790.1 444.1L1790.6 440.8L1791.1 441.2L1791.5 447L1792 443.6L1792.5 444.7L1793 446L1793.5 442.3L1794 440.3L1794.5 445.8L1794.9 446.5L1795.4 436.6L1795.9 438.4L1796.4 438.6L1796.9 438.4L1797.4 444.9L1797.9 439.9L1798.3 440L1798.8 441.4L1799.3 442.4L1799.8 440.4L1800.3 441.4L1800.8 435.8L1801.3 440.2L1801.7 437.2L1802.2 439.3L1802.7 443.2L1803.2 440.1L1803.7 438.4L1804.2 442.3L1804.7 443.4L1805.1 439.3L1805.6 434.9L1806.1 441.2L1806.6 436.4L1807.1 432.9L1807.6 436.7L1808.1 432.5L1808.5 432.1L1809 429.7L1809.5 429.6L1810 434.2L1810.5 423.9L1811 432.9L1811.5 433.2L1811.9 432.5L1812.4 429.8L1812.9 426L1813.4 429.4L1813.9 431.4L1814.4 433.5L1814.9 429.8L1815.3 423.6L1815.8 427.5L1816.3 426.7L1816.8 432.3L1817.3 431.9L1817.8 431.6L1818.3 430.9L1818.7 426.5L1819.2 431.7L1819.7 436.3L1820.2 430.4L1820.7 431.3L1821.2 430.2L1821.7 433.6L1822.1 436.3L1822.6 430.1L1823.1 437.3L1823.6 433.4L1824.1 443.7L1824.6 436.1L1825.1 438.7L1825.5 432.4L1826 441.1L1826.5 438.6L1827 437.3L1827.5 443.3L1828 438.6L1828.5 437.9L1828.9 443.7L1829.4 438L1829.9 441.5L1830.4 437.7L1830.9 436.4L1831.4 444.6L1831.9 441.1L1832.4 443.2L1832.8 443L1833.3 440.5L1833.8 441.8L1834.3 438.8L1834.8 438.8L1835.3 441.6L1835.8 434.1L1836.2 440.3L1836.7 437.4L1837.2 440.4L1837.7 437.1L1838.2 444.5L1838.7 442.6L1839.2 438.5L1839.6 442.7L1840.1 434.6L1840.6 436.1L1841.1 442.4L1841.6 445.8L1842.1 440.5L1842.6 443L1843 441.3L1843.5 445.7L1844 439L1844.5 435.7L1845 438.2L1845.5 440.9L1846 442.4L1846.4 438.6L1846.9 444L1847.4 435.8L1847.9 441.2L1848.4 437.3L1848.9 439.2L1849.4 438.7L1849.8 443.8L1850.3 445.4L1850.8 433.6L1851.3 439.3L1851.8 441.4L1852.3 437.7L1852.8 440L1853.2 440.1L1853.7 442.8L1854.2 438L1854.7 442.8L1855.2 439.8L1855.7 440.6L1856.2 438.4L1856.6 440.1L1857.1 440.7L1857.6 448.3L1858.1 443.5L1858.6 441.7L1859.1 440.9L1859.6 438.1L1860 443.9L1860.5 436.9L1861 438.2L1861.5 443.2L1862 438.7L1862.5 437.5L1863 448.5L1863.4 437.3L1863.9 439.4L1864.4 436.3L1864.9 440.9L1865.4 443.7L1865.9 448.5L1866.4 444.5L1866.8 442.2L1867.3 440.5L1867.8 444.2L1868.3 440.4L1868.8 442.5L1869.3 436.2L1869.8 442.3L1870.2 436.4L1870.7 439.5L1871.2 435L1871.7 436.7L1872.2 445.2L1872.7 441.5L1873.2 437.5L1873.7 444.3L1874.1 434.2L1874.6 440.2L1875.1 436.6L1875.6 442.3L1876.1 443.1"/>
</g>
<text transform="matrix(0.68 0 0 0.7026 176.1 1534.2)" font-size="100" text-anchor="middle">10</text>
<text transform="matrix(0.68 0 0 0.7026 419.04 1534.2)" font-size="100" text-anchor="middle">20</text>
<text transform="matrix(0.68 0 0 0.7026 661.98 1534.2)" font-size="100" text-anchor="middle">30</text>
<text transform="matrix(0.68 0 0 0.7026 904.92 1534.2)" font-size="100" text-anchor="middle">40</text>
<text transform="matrix(0.68 0 0 0.7026 1147.86 1534.2)" font-size="100" text-anchor="middle">50</text>
<text transform="matrix(0.68 0 0 0.7026 1390.8 1534.2)" font-size="100" text-anchor="middle">60</text>
<text transform="matrix(0.68 0 0 0.7026 1633.74 1534.2)" font-size="100" text-anchor="middle">70</text>
<text transform="matrix(0.68 0 0 0.7026 1876.68 1534.2)" font-size="100" text-anchor="middle">80</text>
<text transform="matrix(1.0214 0 0 1.0099 1050.684 1660.6362)" font-size="100" text-anchor="middle">2-theta (<tspan font-size="88" dy="-2.2" dx="3">°</tspan><tspan dy="2.2" dx="1.8">)</tspan></text>
<text transform="matrix(0 -1.0114 1.0037 0 125.0829 741.0073)" font-size="100" text-anchor="middle">Intensity (a.u.)</text>
<text transform="matrix(0 -0.6749 0.685 0 422.8373 330.94)" font-size="100" text-anchor="middle">(111)</text>
<text transform="matrix(0 -0.6749 0.685 0 721.8873 291.04)" font-size="100" text-anchor="middle">(220)</text>
<text transform="matrix(0 -0.6749 0.685 0 856.0373 124.94)" font-size="100" text-anchor="middle">(311)</text>
<text transform="matrix(0 -0.6749 0.685 0 896.0373 349.09)" font-size="100" text-anchor="middle">(222)</text>
<text transform="matrix(0 -0.6749 0.685 0 1048.8373 328.74)" font-size="100" text-anchor="middle">(400)</text>
<text transform="matrix(0 -0.6749 0.685 0 1313.8873 349.09)" font-size="100" text-anchor="middle">(422)</text>
<text transform="matrix(0 -0.6749 0.685 0 1398.0373 294.94)" font-size="100" text-anchor="middle">(511)</text>
<text transform="matrix(0 -0.6749 0.685 0 1543.8873 283.49)" font-size="100" text-anchor="middle">(440)</text>
<text transform="matrix(0.675 0 0 0.695 1544.1968 411.9)" font-size="100" text-anchor="start">Co-pH 8.5-3</text>
<text transform="matrix(0.675 0 0 0.695 1544.1968 635.9)" font-size="100" text-anchor="start">Co-pH 8.5-2</text>
<text transform="matrix(0.675 0 0 0.695 1544.1968 901.9)" font-size="100" text-anchor="start">Co-pH 8.5-1</text>
<text transform="matrix(0.675 0 0 0.695 1544.1968 1324.8)" font-size="100" text-anchor="start">Co-pH 8.5-0</text>
</svg></body></html>
